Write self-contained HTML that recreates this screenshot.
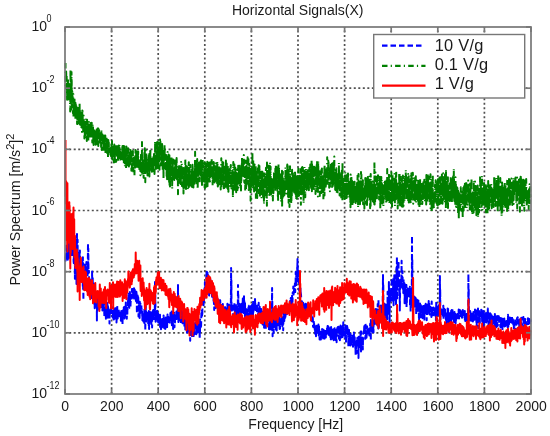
<!DOCTYPE html>
<html><head><meta charset="utf-8"><style>
html,body{margin:0;padding:0;background:#fff;width:550px;height:436px;overflow:hidden}
svg{position:absolute;left:0;top:0;font-family:"Liberation Sans",sans-serif;filter:blur(0.35px)}
</style></head><body>
<svg width="550" height="436" viewBox="0 0 550 436">
<rect width="550" height="436" fill="#fff"/>
<g stroke="#505050" stroke-width="1.7" stroke-dasharray="2 2.517" fill="none"><g stroke-dashoffset="1.0"><line x1="111.6" y1="27.0" x2="111.6" y2="394.0"/><line x1="158.2" y1="27.0" x2="158.2" y2="394.0"/><line x1="204.8" y1="27.0" x2="204.8" y2="394.0"/><line x1="251.4" y1="27.0" x2="251.4" y2="394.0"/><line x1="298.0" y1="27.0" x2="298.0" y2="394.0"/><line x1="344.6" y1="27.0" x2="344.6" y2="394.0"/><line x1="391.2" y1="27.0" x2="391.2" y2="394.0"/><line x1="437.8" y1="27.0" x2="437.8" y2="394.0"/><line x1="484.4" y1="27.0" x2="484.4" y2="394.0"/></g><g stroke-dashoffset="0.32"><line x1="65.0" y1="88.2" x2="531.0" y2="88.2"/><line x1="65.0" y1="149.3" x2="531.0" y2="149.3"/><line x1="65.0" y1="210.5" x2="531.0" y2="210.5"/><line x1="65.0" y1="271.7" x2="531.0" y2="271.7"/><line x1="65.0" y1="332.8" x2="531.0" y2="332.8"/></g></g>
<g fill="none" stroke-width="2.0" stroke-linejoin="round">
<path d="M65.5 256.4L65.6 260.7L65.8 259.2L65.9 255.1L66.1 258.4L66.2 253.5L66.4 255.8L66.5 245.6L66.7 244.5L66.8 249.6L67.0 251.4L67.1 245.5L67.2 255.4L67.4 251.1L67.5 253.9L67.7 253.6L67.8 259.8L68.0 253.0L68.1 243.4L68.3 253.0L68.4 254.4L68.6 251.6L68.7 246.3L68.8 244.5L69.0 252.5L69.1 242.8L69.3 250.3L69.4 244.8L69.6 259.5L69.7 258.6L69.9 254.7L70.0 248.3L70.2 244.5L70.3 238.4L70.4 247.3L70.6 255.3L70.7 243.5L70.9 232.5L71.0 243.2L71.2 243.4L71.3 249.0L71.5 236.4L71.6 253.7L71.8 255.1L71.9 249.0L72.0 250.7L72.2 247.1L72.3 246.8L72.5 252.6L72.6 247.7L72.8 237.2L72.9 232.6L73.1 237.9L73.2 247.1L73.3 255.1L73.5 246.7L73.6 261.1L73.8 263.1L73.9 252.8L74.1 260.3L74.2 236.1L74.4 248.6L74.5 249.0L74.7 237.6L74.8 240.3L74.9 278.7L75.1 243.2L75.2 243.7L75.4 265.2L75.5 252.0L75.7 263.3L75.8 259.5L76.0 251.0L76.1 240.4L76.3 248.9L76.4 257.3L76.5 284.0L76.7 259.0L76.8 242.5L77.0 234.0L77.1 277.6L77.3 245.5L77.4 271.6L77.6 239.7L77.7 262.1L77.9 261.8L78.0 257.1L78.1 267.0L78.3 276.4L78.4 262.8L78.6 262.5L78.7 251.4L78.9 256.0L79.0 257.1L79.2 258.2L79.3 272.7L79.5 257.1L79.6 251.6L79.7 254.0L79.9 250.5L80.0 256.4L80.2 262.0L80.3 261.3L80.5 262.5L80.6 263.4L80.8 278.0L80.9 267.2L81.1 275.2L81.2 271.7L81.3 271.6L81.5 270.1L81.6 263.6L81.8 267.9L81.9 274.9L82.1 268.3L82.2 276.1L82.4 258.4L82.5 262.4L82.7 265.8L82.8 287.4L82.9 257.3L83.1 288.8L83.2 282.8L83.4 299.9L83.5 265.0L83.7 273.8L83.8 266.7L84.0 266.9L84.1 264.4L84.3 265.7L84.4 269.5L84.5 268.6L84.7 276.1L84.8 289.7L85.0 288.0L85.1 279.3L85.3 278.6L85.4 264.4L85.6 272.2L85.7 272.5L85.9 266.8L86.0 274.1L86.1 287.4L86.3 272.2L86.4 261.9L86.6 262.1L86.7 273.5L86.9 272.9L87.0 267.7L87.2 267.2L87.3 267.9L87.4 265.3L87.6 275.2L87.7 272.8L87.9 254.5L88.0 243.0L88.2 273.0L88.3 248.6L88.5 270.6L88.6 272.9L88.8 272.2L88.9 270.8L89.0 274.4L89.2 283.9L89.3 291.2L89.5 281.2L89.6 284.3L89.8 278.9L89.9 286.0L90.1 279.5L90.2 288.2L90.4 290.2L90.5 286.5L90.6 294.3L90.8 284.9L90.9 284.6L91.1 299.0L91.2 291.0L91.4 285.1L91.5 283.0L91.7 282.3L91.8 286.5L92.0 288.1L92.1 271.5L92.2 281.8L92.4 287.4L92.5 282.2L92.7 276.2L92.8 286.6L93.0 302.1L93.1 292.1L93.3 286.2L93.4 286.0L93.6 301.1L93.7 286.3L93.8 285.5L94.0 283.8L94.1 302.1L94.3 290.7L94.4 306.1L94.6 291.7L94.7 308.2L94.9 291.5L95.0 296.8L95.2 306.6L95.3 301.2L95.4 304.2L95.6 297.5L95.7 298.6L95.9 302.8L96.0 303.1L96.2 293.1L96.3 296.5L96.5 296.7L96.6 296.9L96.8 299.6L96.9 320.6L97.0 297.8L97.2 299.1L97.3 294.7L97.5 306.5L97.6 310.4L97.8 304.6L97.9 309.6L98.1 295.0L98.2 300.1L98.4 295.4L98.5 295.6L98.6 292.6L98.8 295.4L98.9 294.3L99.1 303.7L99.2 298.4L99.4 301.2L99.5 294.2L99.7 300.8L99.8 301.0L99.9 294.4L100.1 301.3L100.2 297.0L100.4 301.3L100.5 301.2L100.7 301.0L100.8 300.6L101.0 305.4L101.1 300.8L101.3 296.7L101.4 302.3L101.5 297.7L101.7 305.4L101.8 304.1L102.0 308.1L102.1 300.5L102.3 304.0L102.4 310.4L102.6 301.2L102.7 300.7L102.9 302.3L103.0 308.4L103.1 304.7L103.3 308.8L103.4 303.2L103.6 305.5L103.7 304.3L103.9 298.4L104.0 299.3L104.2 303.9L104.3 316.7L104.5 311.5L104.6 307.6L104.7 310.2L104.9 306.2L105.0 305.5L105.2 305.3L105.3 311.3L105.5 307.0L105.6 308.9L105.8 313.5L105.9 318.8L106.1 312.9L106.2 310.7L106.3 317.1L106.5 302.9L106.6 318.7L106.8 315.4L106.9 316.1L107.1 312.3L107.2 315.8L107.4 302.9L107.5 312.8L107.7 314.3L107.8 317.8L107.9 304.6L108.1 311.7L108.2 313.2L108.4 310.9L108.5 312.1L108.7 311.6L108.8 308.0L109.0 310.1L109.1 317.2L109.3 309.7L109.4 313.8L109.5 323.6L109.7 310.9L109.8 314.3L110.0 312.0L110.1 312.0L110.3 308.5L110.4 309.8L110.6 314.1L110.7 308.0L110.9 312.6L111.0 305.0L111.1 303.7L111.3 310.8L111.4 310.3L111.6 308.0L111.7 309.0L111.9 307.2L112.0 310.8L112.2 313.3L112.3 310.9L112.5 311.0L112.6 317.4L112.7 316.5L112.9 315.2L113.0 313.2L113.2 315.0L113.3 311.9L113.5 312.8L113.6 319.6L113.8 317.1L113.9 314.5L114.0 312.2L114.2 309.3L114.3 310.6L114.5 316.7L114.6 313.2L114.8 318.8L114.9 313.6L115.1 308.0L115.2 316.1L115.4 306.1L115.5 312.5L115.6 316.7L115.8 314.2L115.9 318.4L116.1 313.0L116.2 316.1L116.4 313.9L116.5 322.4L116.7 318.3L116.8 312.5L117.0 311.6L117.1 307.6L117.2 306.1L117.4 313.0L117.5 313.8L117.7 318.4L117.8 316.7L118.0 317.5L118.1 310.2L118.3 308.7L118.4 309.4L118.6 314.0L118.7 309.4L118.8 313.4L119.0 313.0L119.1 310.0L119.3 316.5L119.4 317.1L119.6 317.0L119.7 317.9L119.9 315.5L120.0 313.1L120.2 313.8L120.3 310.5L120.4 317.1L120.6 319.4L120.7 319.2L120.9 320.7L121.0 314.4L121.2 319.0L121.3 310.9L121.5 313.6L121.6 315.8L121.8 315.2L121.9 317.2L122.0 313.7L122.2 316.9L122.3 317.7L122.5 324.7L122.6 318.7L122.8 316.9L122.9 308.4L123.1 308.4L123.2 314.2L123.4 317.4L123.5 314.3L123.6 312.7L123.8 307.2L123.9 313.8L124.1 312.8L124.2 318.2L124.4 316.2L124.5 318.6L124.7 317.5L124.8 316.4L125.0 311.1L125.1 305.0L125.2 316.2L125.4 306.2L125.5 310.1L125.7 309.2L125.8 302.5L126.0 309.1L126.1 306.2L126.3 305.6L126.4 308.1L126.6 312.4L126.7 308.4L126.8 318.7L127.0 306.7L127.1 311.2L127.3 315.9L127.4 309.1L127.6 309.2L127.7 308.2L127.9 303.7L128.0 298.0L128.1 297.7L128.3 304.5L128.4 293.8L128.6 307.9L128.7 305.6L128.9 303.6L129.0 300.0L129.2 309.7L129.3 302.1L129.5 298.7L129.6 299.3L129.7 299.9L129.9 292.1L130.0 294.4L130.2 305.3L130.3 307.2L130.5 306.0L130.6 302.8L130.8 300.7L130.9 300.8L131.1 301.2L131.2 300.5L131.3 300.7L131.5 297.6L131.6 295.0L131.8 295.2L131.9 289.1L132.1 293.6L132.2 294.3L132.4 291.1L132.5 289.1L132.7 294.4L132.8 294.8L132.9 299.9L133.1 294.8L133.2 291.8L133.4 294.9L133.5 292.1L133.7 289.7L133.8 292.3L134.0 288.3L134.1 299.8L134.3 300.3L134.4 291.4L134.5 292.4L134.7 289.5L134.8 291.0L135.0 295.6L135.1 293.3L135.3 291.2L135.4 292.6L135.6 292.0L135.7 291.3L135.9 301.0L136.0 298.8L136.1 296.9L136.3 296.3L136.4 291.7L136.6 294.6L136.7 294.0L136.9 313.3L137.0 296.3L137.2 300.2L137.3 303.0L137.5 302.8L137.6 294.1L137.7 294.7L137.9 298.2L138.0 300.7L138.2 301.5L138.3 297.7L138.5 316.5L138.6 308.5L138.8 303.9L138.9 305.2L139.1 302.3L139.2 310.9L139.3 311.9L139.5 312.5L139.6 318.1L139.8 301.8L139.9 313.5L140.1 312.5L140.2 306.9L140.4 303.5L140.5 304.2L140.7 309.8L140.8 306.0L140.9 307.9L141.1 310.8L141.2 309.5L141.4 305.4L141.5 313.8L141.7 308.8L141.8 309.8L142.0 310.6L142.1 309.8L142.2 314.5L142.4 320.3L142.5 313.5L142.7 321.0L142.8 311.9L143.0 320.7L143.1 319.5L143.3 319.6L143.4 321.5L143.6 315.4L143.7 315.2L143.8 322.6L144.0 318.1L144.1 321.7L144.3 323.0L144.4 308.0L144.6 319.9L144.7 313.9L144.9 318.7L145.0 319.7L145.2 320.3L145.3 330.7L145.4 315.7L145.6 319.1L145.7 304.3L145.9 318.9L146.0 322.9L146.2 312.3L146.3 314.2L146.5 313.3L146.6 315.1L146.8 316.5L146.9 316.6L147.0 312.6L147.2 318.6L147.3 318.3L147.5 312.5L147.6 315.5L147.8 313.5L147.9 314.3L148.1 320.4L148.2 324.0L148.4 320.2L148.5 317.5L148.6 316.4L148.8 325.7L148.9 311.1L149.1 329.1L149.2 315.6L149.4 314.0L149.5 317.1L149.7 317.2L149.8 318.8L150.0 318.6L150.1 312.1L150.2 319.2L150.4 316.9L150.5 319.0L150.7 317.3L150.8 318.6L151.0 323.4L151.1 316.4L151.3 326.0L151.4 320.7L151.6 319.1L151.7 312.4L151.8 315.9L152.0 315.6L152.1 327.4L152.3 316.9L152.4 311.7L152.6 314.3L152.7 315.0L152.9 319.2L153.0 310.8L153.2 312.1L153.3 310.0L153.4 314.9L153.6 316.7L153.7 316.3L153.9 321.3L154.0 317.2L154.2 318.0L154.3 318.7L154.5 308.9L154.6 313.3L154.7 315.1L154.9 300.3L155.0 282.0L155.2 309.2L155.3 294.8L155.5 311.6L155.6 321.7L155.8 315.4L155.9 319.9L156.1 320.2L156.2 319.7L156.3 314.4L156.5 314.8L156.6 315.8L156.8 316.8L156.9 318.0L157.1 315.1L157.2 310.7L157.4 316.0L157.5 317.8L157.7 322.0L157.8 316.1L157.9 316.0L158.1 313.0L158.2 322.6L158.4 320.6L158.5 319.5L158.7 316.6L158.8 321.8L159.0 322.2L159.1 319.8L159.3 321.9L159.4 314.8L159.5 319.8L159.7 324.3L159.8 320.4L160.0 314.8L160.1 327.0L160.3 325.7L160.4 320.6L160.6 323.3L160.7 319.0L160.9 321.9L161.0 329.2L161.1 319.4L161.3 327.3L161.4 321.5L161.6 322.6L161.7 319.5L161.9 320.0L162.0 327.3L162.2 324.8L162.3 322.6L162.5 318.9L162.6 320.1L162.7 322.0L162.9 321.5L163.0 320.6L163.2 322.1L163.3 316.5L163.5 317.1L163.6 315.6L163.8 318.6L163.9 326.1L164.1 327.9L164.2 319.1L164.3 322.9L164.5 319.9L164.6 325.7L164.8 318.8L164.9 320.6L165.1 322.4L165.2 328.9L165.4 328.6L165.5 325.8L165.7 320.5L165.8 317.5L165.9 323.2L166.1 322.8L166.2 326.3L166.4 318.1L166.5 317.5L166.7 316.4L166.8 317.7L167.0 322.7L167.1 327.1L167.3 319.2L167.4 318.0L167.5 314.5L167.7 318.9L167.8 320.4L168.0 317.6L168.1 314.7L168.3 320.5L168.4 318.6L168.6 319.1L168.7 322.0L168.8 321.6L169.0 321.3L169.1 315.7L169.3 316.0L169.4 317.9L169.6 323.4L169.7 320.1L169.9 324.0L170.0 317.9L170.2 318.4L170.3 319.2L170.4 313.0L170.6 317.0L170.7 318.8L170.9 315.2L171.0 316.3L171.2 316.2L171.3 317.0L171.5 317.9L171.6 311.5L171.8 322.1L171.9 325.2L172.0 319.6L172.2 318.8L172.3 316.0L172.5 315.3L172.6 310.4L172.8 320.0L172.9 323.0L173.1 328.9L173.2 320.8L173.4 318.7L173.5 319.8L173.6 320.8L173.8 316.3L173.9 316.9L174.1 315.2L174.2 312.8L174.4 318.9L174.5 327.3L174.7 317.7L174.8 316.0L175.0 322.5L175.1 317.7L175.2 319.1L175.4 314.0L175.5 313.1L175.7 315.0L175.8 320.6L176.0 315.4L176.1 316.0L176.3 317.8L176.4 311.6L176.6 313.4L176.7 312.8L176.8 318.3L177.0 318.9L177.1 312.9L177.3 315.8L177.4 315.8L177.6 313.6L177.7 313.1L177.9 302.5L178.0 285.0L178.2 316.6L178.3 296.7L178.4 322.1L178.6 317.1L178.7 315.9L178.9 313.2L179.0 316.1L179.2 315.9L179.3 317.0L179.5 316.5L179.6 319.2L179.8 320.4L179.9 312.4L180.0 317.2L180.2 318.4L180.3 316.4L180.5 320.0L180.6 319.5L180.8 321.6L180.9 323.2L181.1 318.0L181.2 317.7L181.4 314.7L181.5 312.4L181.6 310.6L181.8 309.4L181.9 313.3L182.1 315.1L182.2 321.4L182.4 317.2L182.5 323.3L182.7 321.5L182.8 314.5L182.9 318.1L183.1 318.9L183.2 316.5L183.4 312.1L183.5 319.6L183.7 317.7L183.8 312.3L184.0 315.1L184.1 319.9L184.3 317.2L184.4 327.1L184.5 321.5L184.7 319.7L184.8 318.0L185.0 325.1L185.1 318.0L185.3 330.7L185.4 313.3L185.6 314.5L185.7 317.2L185.9 328.7L186.0 319.9L186.1 318.3L186.3 321.4L186.4 328.0L186.6 320.1L186.7 320.1L186.9 332.4L187.0 332.8L187.2 323.9L187.3 325.4L187.5 322.8L187.6 320.1L187.7 323.7L187.9 327.4L188.0 328.1L188.2 328.8L188.3 328.9L188.5 322.4L188.6 326.8L188.8 331.5L188.9 323.5L189.1 325.9L189.2 326.4L189.3 321.8L189.5 318.5L189.6 330.3L189.8 326.1L189.9 325.0L190.1 332.0L190.2 340.8L190.4 322.2L190.5 325.2L190.7 327.6L190.8 324.4L190.9 324.3L191.1 321.7L191.2 327.3L191.4 323.2L191.5 331.9L191.7 325.1L191.8 331.5L192.0 329.6L192.1 338.0L192.3 327.1L192.4 326.6L192.5 321.7L192.7 326.1L192.8 330.8L193.0 325.5L193.1 327.2L193.3 335.5L193.4 335.9L193.6 333.8L193.7 335.9L193.9 323.9L194.0 327.1L194.1 330.0L194.3 335.3L194.4 326.4L194.6 328.2L194.7 329.0L194.9 326.8L195.0 326.5L195.2 322.7L195.3 324.6L195.4 329.3L195.6 329.6L195.7 324.1L195.9 326.7L196.0 327.8L196.2 325.9L196.3 334.2L196.5 328.9L196.6 327.8L196.8 330.2L196.9 325.3L197.0 329.1L197.2 321.5L197.3 318.8L197.5 322.7L197.6 323.2L197.8 324.7L197.9 332.3L198.1 325.8L198.2 328.5L198.4 319.2L198.5 325.5L198.6 327.1L198.8 330.6L198.9 332.5L199.1 325.0L199.2 323.8L199.4 322.6L199.5 328.5L199.7 338.9L199.8 326.6L200.0 332.5L200.1 319.5L200.2 328.0L200.4 321.7L200.5 326.1L200.7 327.1L200.8 327.7L201.0 322.5L201.1 326.3L201.3 316.3L201.4 310.7L201.6 311.6L201.7 310.7L201.8 317.0L202.0 317.4L202.1 313.0L202.3 316.0L202.4 306.7L202.6 302.7L202.7 306.4L202.9 301.7L203.0 299.3L203.2 294.7L203.3 302.1L203.4 301.6L203.6 305.3L203.7 295.0L203.9 295.7L204.0 303.0L204.2 296.4L204.3 293.8L204.5 288.4L204.6 292.9L204.8 290.4L204.9 281.9L205.0 292.2L205.2 286.7L205.3 290.6L205.5 285.2L205.6 289.9L205.8 284.0L205.9 283.9L206.1 280.8L206.2 279.6L206.4 276.5L206.5 271.2L206.6 271.6L206.8 273.8L206.9 271.7L207.1 277.8L207.2 274.1L207.4 271.6L207.5 274.6L207.7 280.6L207.8 279.6L208.0 282.9L208.1 274.9L208.2 277.1L208.4 276.1L208.5 276.0L208.7 275.9L208.8 284.1L209.0 275.0L209.1 295.6L209.3 289.9L209.4 281.4L209.5 286.0L209.7 285.9L209.8 287.0L210.0 285.0L210.1 292.0L210.3 281.6L210.4 279.7L210.6 285.0L210.7 285.5L210.9 285.7L211.0 284.0L211.1 288.4L211.3 285.5L211.4 286.6L211.6 281.9L211.7 285.2L211.9 290.2L212.0 296.7L212.2 290.1L212.3 287.7L212.5 289.1L212.6 294.0L212.7 288.4L212.9 292.7L213.0 287.9L213.2 293.1L213.3 292.4L213.5 292.7L213.6 302.7L213.8 297.0L213.9 303.2L214.1 298.2L214.2 310.1L214.3 302.8L214.5 297.8L214.6 303.5L214.8 297.1L214.9 300.3L215.1 293.7L215.2 303.1L215.4 299.9L215.5 306.9L215.7 301.5L215.8 301.1L215.9 307.9L216.1 306.7L216.2 304.5L216.4 301.5L216.5 308.8L216.7 308.6L216.8 302.7L217.0 305.2L217.1 296.0L217.3 305.1L217.4 302.2L217.5 296.8L217.7 303.8L217.8 307.5L218.0 304.1L218.1 299.7L218.3 301.8L218.4 299.7L218.6 301.1L218.7 303.3L218.9 304.2L219.0 313.7L219.1 307.6L219.3 301.5L219.4 301.2L219.6 306.3L219.7 302.1L219.9 302.4L220.0 303.8L220.2 300.3L220.3 302.7L220.5 309.5L220.6 305.5L220.7 310.6L220.9 304.7L221.0 307.5L221.2 305.0L221.3 307.5L221.5 310.7L221.6 307.3L221.8 306.1L221.9 305.7L222.1 308.2L222.2 314.4L222.3 310.2L222.5 309.4L222.6 307.5L222.8 303.9L222.9 305.8L223.1 308.8L223.2 306.2L223.4 307.0L223.5 312.1L223.6 311.8L223.8 313.9L223.9 307.9L224.1 311.0L224.2 314.3L224.4 312.0L224.5 313.2L224.7 306.4L224.8 310.1L225.0 306.0L225.1 307.6L225.2 307.2L225.4 309.9L225.5 313.0L225.7 312.3L225.8 310.1L226.0 321.9L226.1 308.2L226.3 315.4L226.4 314.1L226.6 312.0L226.7 307.8L226.8 307.3L227.0 315.2L227.1 310.6L227.3 305.6L227.4 303.7L227.6 309.4L227.7 310.6L227.9 313.2L228.0 314.7L228.2 307.9L228.3 309.8L228.4 312.7L228.6 312.2L228.7 303.2L228.9 306.3L229.0 305.4L229.2 305.0L229.3 306.4L229.5 310.7L229.6 307.4L229.8 310.4L229.9 309.7L230.0 314.5L230.2 313.3L230.3 305.4L230.5 309.1L230.6 305.8L230.8 307.2L230.9 299.6L231.1 268.0L231.2 305.2L231.4 280.4L231.5 304.9L231.6 310.6L231.8 310.5L231.9 309.8L232.1 307.5L232.2 306.9L232.4 306.8L232.5 303.7L232.7 305.8L232.8 306.3L233.0 316.0L233.1 303.5L233.2 307.1L233.4 311.5L233.5 311.1L233.7 311.0L233.8 307.2L234.0 309.1L234.1 310.0L234.3 311.1L234.4 303.0L234.6 310.0L234.7 308.5L234.8 311.5L235.0 316.0L235.1 308.3L235.3 311.5L235.4 310.0L235.6 307.7L235.7 302.9L235.9 304.3L236.0 315.8L236.2 312.4L236.3 317.9L236.4 308.0L236.6 307.2L236.7 307.5L236.9 309.6L237.0 310.2L237.2 309.3L237.3 313.1L237.5 306.3L237.6 313.1L237.7 316.5L237.9 298.5L238.0 285.0L238.2 306.3L238.3 294.8L238.5 312.9L238.6 311.1L238.8 314.9L238.9 311.3L239.1 312.7L239.2 315.0L239.3 309.0L239.5 305.7L239.6 304.1L239.8 310.0L239.9 307.9L240.1 307.6L240.2 304.8L240.4 305.7L240.5 306.5L240.7 313.3L240.8 312.5L240.9 304.3L241.1 307.1L241.2 309.2L241.4 306.6L241.5 308.7L241.7 309.8L241.8 305.2L242.0 303.5L242.1 314.5L242.3 303.9L242.4 307.7L242.5 307.3L242.7 302.9L242.8 298.4L243.0 308.0L243.1 306.7L243.3 307.8L243.4 310.1L243.6 312.9L243.7 308.2L243.9 307.4L244.0 295.0L244.1 312.8L244.3 301.0L244.4 309.1L244.6 311.5L244.7 311.8L244.9 316.5L245.0 302.2L245.2 315.9L245.3 313.5L245.5 313.2L245.6 310.1L245.7 316.2L245.9 315.9L246.0 310.3L246.2 307.2L246.3 308.9L246.5 312.7L246.6 318.1L246.8 319.9L246.9 317.2L247.1 317.3L247.2 316.3L247.3 314.9L247.5 317.3L247.6 313.8L247.8 317.9L247.9 317.6L248.1 312.3L248.2 313.6L248.4 305.7L248.5 310.8L248.7 308.7L248.8 305.7L248.9 312.6L249.1 304.3L249.2 317.5L249.4 310.2L249.5 309.0L249.7 320.3L249.8 308.6L250.0 320.7L250.1 317.4L250.2 318.3L250.4 315.3L250.5 318.4L250.7 317.1L250.8 316.4L251.0 306.1L251.1 314.6L251.3 318.0L251.4 306.8L251.6 320.9L251.7 314.3L251.8 311.8L252.0 312.6L252.1 304.7L252.3 306.7L252.4 308.7L252.6 318.4L252.7 309.4L252.9 313.0L253.0 315.2L253.2 300.4L253.3 312.2L253.4 311.3L253.6 308.1L253.7 306.5L253.9 305.9L254.0 309.3L254.2 305.0L254.3 307.3L254.5 308.3L254.6 309.6L254.8 304.5L254.9 303.0L255.0 297.0L255.2 307.8L255.3 302.7L255.5 303.3L255.6 307.6L255.8 308.8L255.9 312.2L256.1 304.0L256.2 305.7L256.4 309.0L256.5 308.0L256.6 311.6L256.8 309.1L256.9 311.2L257.1 306.5L257.2 305.5L257.4 308.6L257.5 309.7L257.7 312.6L257.8 313.1L258.0 313.1L258.1 314.0L258.2 317.1L258.4 309.5L258.5 310.5L258.7 302.7L258.8 312.2L259.0 308.7L259.1 311.2L259.3 311.9L259.4 312.3L259.6 312.8L259.7 306.8L259.8 319.3L260.0 316.0L260.1 315.7L260.3 313.3L260.4 317.7L260.6 315.1L260.7 312.5L260.9 314.0L261.0 319.0L261.2 309.0L261.3 316.1L261.4 318.3L261.6 315.1L261.7 313.5L261.9 318.8L262.0 315.6L262.2 314.5L262.3 309.6L262.5 312.2L262.6 324.4L262.8 316.1L262.9 312.7L263.0 320.5L263.2 311.8L263.3 315.8L263.5 322.6L263.6 319.7L263.8 319.9L263.9 311.0L264.1 327.7L264.2 311.6L264.3 314.5L264.5 316.6L264.6 311.7L264.8 313.2L264.9 313.2L265.1 320.9L265.2 318.3L265.4 327.8L265.5 320.2L265.7 312.6L265.8 329.8L265.9 317.3L266.1 320.6L266.2 319.3L266.4 316.8L266.5 318.9L266.7 315.5L266.8 321.3L267.0 318.9L267.1 321.7L267.3 323.9L267.4 323.8L267.5 324.4L267.7 322.7L267.8 317.5L268.0 316.3L268.1 319.2L268.3 316.7L268.4 316.1L268.6 318.8L268.7 315.2L268.9 319.0L269.0 331.5L269.1 327.3L269.3 320.1L269.4 316.6L269.6 329.5L269.7 316.5L269.9 324.6L270.0 322.8L270.2 320.6L270.3 318.6L270.5 323.8L270.6 318.0L270.7 315.8L270.9 320.7L271.0 316.1L271.2 329.6L271.3 327.5L271.5 323.1L271.6 319.7L271.8 315.5L271.9 306.0L272.1 288.0L272.2 323.3L272.3 301.5L272.5 323.7L272.6 336.3L272.8 322.3L272.9 326.6L273.1 320.6L273.2 316.8L273.4 322.2L273.5 323.5L273.7 332.9L273.8 320.8L273.9 315.7L274.1 320.7L274.2 321.7L274.4 319.2L274.5 323.8L274.7 322.1L274.8 320.5L275.0 322.7L275.1 324.8L275.3 322.5L275.4 325.8L275.5 323.2L275.7 323.9L275.8 329.6L276.0 322.4L276.1 329.3L276.3 317.4L276.4 327.9L276.6 322.4L276.7 330.4L276.9 318.7L277.0 319.7L277.1 325.3L277.3 323.0L277.4 317.6L277.6 322.2L277.7 321.8L277.9 325.2L278.0 320.2L278.2 318.1L278.3 321.5L278.4 317.4L278.6 316.2L278.7 321.2L278.9 322.8L279.0 320.6L279.2 319.5L279.3 320.9L279.5 317.5L279.6 328.9L279.8 321.2L279.9 326.1L280.0 328.8L280.2 324.6L280.3 324.6L280.5 325.1L280.6 322.5L280.8 317.8L280.9 321.0L281.1 323.6L281.2 324.4L281.4 320.5L281.5 321.3L281.6 322.1L281.8 315.8L281.9 322.2L282.1 324.8L282.2 321.0L282.4 326.2L282.5 319.3L282.7 325.5L282.8 319.8L283.0 316.3L283.1 320.7L283.2 330.3L283.4 319.9L283.5 312.8L283.7 313.8L283.8 315.8L284.0 314.6L284.1 315.3L284.3 321.1L284.4 315.7L284.6 307.3L284.7 316.1L284.8 318.4L285.0 316.0L285.1 315.8L285.3 315.6L285.4 317.0L285.6 313.5L285.7 309.3L285.9 306.8L286.0 314.5L286.2 313.4L286.3 307.0L286.4 312.1L286.6 314.1L286.7 312.7L286.9 312.6L287.0 314.2L287.2 312.8L287.3 308.2L287.5 308.2L287.6 311.0L287.8 308.4L287.9 312.6L288.0 308.2L288.2 306.4L288.3 309.6L288.5 308.8L288.6 309.0L288.8 311.6L288.9 308.3L289.1 308.8L289.2 302.7L289.4 307.8L289.5 311.5L289.6 304.0L289.8 305.2L289.9 300.9L290.1 302.1L290.2 303.0L290.4 303.8L290.5 306.8L290.7 299.3L290.8 298.0L291.0 305.3L291.1 305.4L291.2 298.9L291.4 308.3L291.5 304.8L291.7 303.0L291.8 297.5L292.0 302.6L292.1 294.6L292.3 302.8L292.4 300.6L292.5 302.1L292.7 292.6L292.8 292.2L293.0 293.6L293.1 293.8L293.3 286.5L293.4 287.1L293.6 291.8L293.7 294.4L293.9 289.2L294.0 291.7L294.1 289.0L294.3 292.3L294.4 288.8L294.6 288.8L294.7 290.3L294.9 283.6L295.0 288.3L295.2 292.1L295.3 288.4L295.5 281.9L295.6 284.7L295.7 272.0L295.9 275.9L296.0 286.2L296.2 278.2L296.3 275.2L296.5 275.7L296.6 279.2L296.8 279.4L296.9 277.3L297.1 273.9L297.2 267.2L297.3 271.1L297.5 259.0L297.6 277.2L297.8 265.9L297.9 281.3L298.1 269.7L298.2 280.5L298.4 281.1L298.5 282.1L298.7 276.6L298.8 277.2L298.9 280.9L299.1 277.3L299.2 290.8L299.4 289.7L299.5 289.4L299.7 287.0L299.8 285.8L300.0 290.8L300.1 294.9L300.3 295.3L300.4 287.6L300.5 291.7L300.7 292.8L300.8 296.3L301.0 294.1L301.1 296.0L301.3 304.7L301.4 303.1L301.6 301.0L301.7 301.9L301.9 301.2L302.0 308.5L302.1 307.4L302.3 304.5L302.4 303.8L302.6 309.1L302.7 311.0L302.9 308.0L303.0 304.9L303.2 302.8L303.3 303.7L303.5 313.6L303.6 304.5L303.7 309.5L303.9 309.2L304.0 309.1L304.2 307.3L304.3 307.4L304.5 311.7L304.6 308.3L304.8 305.6L304.9 306.4L305.0 307.9L305.2 305.2L305.3 304.0L305.5 303.7L305.6 308.5L305.8 310.3L305.9 306.4L306.1 305.6L306.2 307.5L306.4 302.3L306.5 309.1L306.6 310.7L306.8 309.4L306.9 305.8L307.1 308.2L307.2 305.6L307.4 304.3L307.5 305.4L307.7 305.6L307.8 306.5L308.0 307.7L308.1 305.7L308.2 307.9L308.4 304.2L308.5 309.7L308.7 310.4L308.8 307.8L309.0 309.9L309.1 308.1L309.3 311.0L309.4 305.5L309.6 305.9L309.7 309.4L309.8 308.6L310.0 306.3L310.1 309.0L310.3 310.9L310.4 311.3L310.6 312.1L310.7 311.2L310.9 316.3L311.0 313.0L311.2 317.0L311.3 314.6L311.4 315.4L311.6 316.8L311.7 317.7L311.9 321.2L312.0 317.8L312.2 318.4L312.3 318.2L312.5 318.7L312.6 316.0L312.8 317.9L312.9 320.8L313.0 326.6L313.2 325.6L313.3 327.3L313.5 323.0L313.6 322.1L313.8 321.8L313.9 324.1L314.1 323.7L314.2 324.8L314.4 323.5L314.5 324.0L314.6 324.3L314.8 329.9L314.9 329.5L315.1 333.8L315.2 329.3L315.4 330.4L315.5 327.6L315.7 328.7L315.8 327.9L316.0 336.3L316.1 326.2L316.2 325.8L316.4 329.3L316.5 329.1L316.7 328.9L316.8 333.0L317.0 331.3L317.1 332.3L317.3 330.5L317.4 324.9L317.6 332.8L317.7 335.0L317.8 331.5L318.0 330.4L318.1 329.4L318.3 328.0L318.4 324.6L318.6 328.0L318.7 335.5L318.9 332.4L319.0 326.2L319.1 331.1L319.3 330.0L319.4 332.0L319.6 339.4L319.7 333.9L319.9 334.3L320.0 332.5L320.2 333.7L320.3 330.3L320.5 332.7L320.6 335.0L320.7 333.7L320.9 339.4L321.0 337.4L321.2 333.6L321.3 332.8L321.5 336.5L321.6 336.5L321.8 334.1L321.9 333.8L322.1 329.1L322.2 336.2L322.3 335.1L322.5 328.3L322.6 332.0L322.8 333.8L322.9 336.0L323.1 338.4L323.2 334.8L323.4 330.7L323.5 335.7L323.7 330.1L323.8 336.5L323.9 331.0L324.1 338.2L324.2 340.4L324.4 334.0L324.5 338.4L324.7 338.6L324.8 334.7L325.0 336.8L325.1 333.3L325.3 329.6L325.4 333.0L325.5 332.6L325.7 335.9L325.8 339.1L326.0 330.8L326.1 330.3L326.3 334.2L326.4 333.9L326.6 331.8L326.7 329.3L326.9 329.5L327.0 328.6L327.1 328.7L327.3 333.4L327.4 329.0L327.6 326.1L327.7 328.6L327.9 326.1L328.0 327.4L328.2 330.7L328.3 330.0L328.5 334.6L328.6 326.9L328.7 331.7L328.9 332.5L329.0 329.1L329.2 335.3L329.3 330.0L329.5 328.5L329.6 329.6L329.8 328.4L329.9 330.2L330.1 332.8L330.2 332.9L330.3 336.6L330.5 337.4L330.6 332.5L330.8 333.0L330.9 340.6L331.1 327.0L331.2 332.0L331.4 328.8L331.5 330.9L331.7 327.7L331.8 331.7L331.9 337.8L332.1 334.8L332.2 333.3L332.4 331.3L332.5 338.9L332.7 340.5L332.8 339.7L333.0 339.1L333.1 333.9L333.2 333.1L333.4 329.6L333.5 335.6L333.7 340.3L333.8 338.8L334.0 339.1L334.1 336.3L334.3 337.1L334.4 328.8L334.6 328.3L334.7 329.9L334.8 332.6L335.0 332.3L335.1 335.1L335.3 331.8L335.4 338.1L335.6 333.1L335.7 339.7L335.9 342.0L336.0 330.1L336.2 331.8L336.3 328.7L336.4 330.2L336.6 342.3L336.7 332.6L336.9 332.6L337.0 332.7L337.2 328.1L337.3 332.3L337.5 330.5L337.6 332.1L337.8 327.6L337.9 327.2L338.0 325.4L338.2 331.7L338.3 331.2L338.5 326.8L338.6 333.3L338.8 338.6L338.9 338.2L339.1 334.3L339.2 333.2L339.4 332.3L339.5 328.0L339.6 329.6L339.8 333.3L339.9 340.2L340.1 328.8L340.2 326.6L340.4 328.4L340.5 325.6L340.7 326.4L340.8 327.0L341.0 331.7L341.1 332.7L341.2 329.1L341.4 337.5L341.5 331.0L341.7 330.1L341.8 331.9L342.0 333.8L342.1 329.9L342.3 334.3L342.4 336.2L342.6 337.0L342.7 325.7L342.8 331.1L343.0 332.4L343.1 328.3L343.3 322.2L343.4 330.5L343.6 335.2L343.7 334.7L343.9 331.7L344.0 332.6L344.2 330.0L344.3 331.7L344.4 331.8L344.6 335.2L344.7 332.6L344.9 332.4L345.0 334.3L345.2 333.9L345.3 340.4L345.5 325.8L345.6 325.5L345.8 331.0L345.9 329.5L346.0 342.7L346.2 331.4L346.3 330.7L346.5 329.4L346.6 330.1L346.8 326.3L346.9 331.4L347.1 325.9L347.2 327.3L347.3 331.9L347.5 332.3L347.6 326.8L347.8 328.5L347.9 336.6L348.1 333.9L348.2 338.3L348.4 346.3L348.5 333.9L348.7 333.5L348.8 337.8L348.9 334.2L349.1 330.0L349.2 333.3L349.4 333.3L349.5 342.9L349.7 336.1L349.8 337.3L350.0 337.7L350.1 343.4L350.3 345.5L350.4 336.0L350.5 333.8L350.7 339.6L350.8 338.5L351.0 337.6L351.1 341.7L351.3 344.6L351.4 338.1L351.6 343.4L351.7 342.2L351.9 338.5L352.0 343.3L352.1 344.4L352.3 336.6L352.4 334.6L352.6 337.2L352.7 342.3L352.9 346.3L353.0 346.8L353.2 346.0L353.3 343.8L353.5 340.8L353.6 337.8L353.7 334.8L353.9 332.4L354.0 343.9L354.2 341.5L354.3 341.3L354.5 342.9L354.6 341.5L354.8 337.3L354.9 337.6L355.1 344.7L355.2 344.8L355.3 348.7L355.5 343.9L355.6 355.5L355.8 346.1L355.9 347.4L356.1 348.8L356.2 348.5L356.4 347.2L356.5 353.2L356.7 342.2L356.8 340.9L356.9 338.8L357.1 343.5L357.2 340.7L357.4 337.8L357.5 339.7L357.7 340.8L357.8 344.3L358.0 342.3L358.1 345.0L358.3 344.7L358.4 345.4L358.5 358.1L358.7 339.3L358.8 336.7L359.0 339.1L359.1 343.1L359.3 337.9L359.4 341.5L359.6 346.2L359.7 341.2L359.8 342.3L360.0 342.4L360.1 346.9L360.3 336.6L360.4 336.3L360.6 331.4L360.7 346.6L360.9 339.9L361.0 351.6L361.2 340.9L361.3 331.5L361.4 339.2L361.6 339.0L361.7 343.1L361.9 337.4L362.0 338.3L362.2 337.0L362.3 337.8L362.5 337.1L362.6 336.6L362.8 349.4L362.9 346.1L363.0 337.2L363.2 340.4L363.3 334.5L363.5 333.2L363.6 333.8L363.8 331.0L363.9 331.9L364.1 332.9L364.2 326.9L364.4 326.1L364.5 327.3L364.6 328.1L364.8 331.2L364.9 326.3L365.1 327.9L365.2 336.8L365.4 338.8L365.5 323.8L365.7 330.0L365.8 329.3L366.0 331.3L366.1 336.8L366.2 331.7L366.4 335.4L366.5 337.8L366.7 335.0L366.8 328.2L367.0 326.2L367.1 326.7L367.3 328.8L367.4 332.1L367.6 329.8L367.7 332.1L367.8 331.8L368.0 329.1L368.1 332.6L368.3 333.6L368.4 331.2L368.6 331.3L368.7 331.8L368.9 329.0L369.0 333.4L369.2 331.2L369.3 335.6L369.4 328.5L369.6 334.0L369.7 328.4L369.9 328.9L370.0 327.0L370.2 323.9L370.3 323.4L370.5 326.5L370.6 324.2L370.8 340.4L370.9 319.9L371.0 327.8L371.2 324.9L371.3 321.3L371.5 328.7L371.6 331.1L371.8 330.4L371.9 323.8L372.1 324.9L372.2 322.7L372.4 331.9L372.5 330.7L372.6 333.0L372.8 330.8L372.9 323.6L373.1 320.7L373.2 332.3L373.4 321.6L373.5 332.5L373.7 317.6L373.8 314.3L373.9 321.4L374.1 324.7L374.2 325.4L374.4 318.4L374.5 320.6L374.7 319.8L374.8 318.5L375.0 319.3L375.1 317.8L375.3 320.9L375.4 318.5L375.5 325.0L375.7 318.1L375.8 309.1L376.0 317.0L376.1 311.8L376.3 314.6L376.4 322.2L376.6 324.3L376.7 321.2L376.9 311.6L377.0 309.3L377.1 310.3L377.3 314.6L377.4 316.5L377.6 319.1L377.7 304.1L377.9 322.1L378.0 317.1L378.2 320.3L378.3 328.4L378.5 299.6L378.6 317.3L378.7 314.6L378.9 327.0L379.0 308.5L379.2 308.5L379.3 322.8L379.5 313.1L379.6 314.9L379.8 321.2L379.9 309.6L380.1 311.3L380.2 317.0L380.3 317.4L380.5 312.5L380.6 310.7L380.8 319.0L380.9 305.6L381.1 309.2L381.2 312.2L381.4 312.8L381.5 306.5L381.7 308.8L381.8 309.1L381.9 311.4L382.1 313.0L382.2 315.8L382.4 308.5L382.5 307.4L382.7 313.5L382.8 296.5L383.0 275.0L383.1 299.2L383.3 284.1L383.4 306.5L383.5 315.2L383.7 309.8L383.8 318.7L384.0 314.3L384.1 302.6L384.3 311.2L384.4 304.9L384.6 319.3L384.7 319.1L384.9 329.1L385.0 309.3L385.1 302.0L385.3 302.1L385.4 310.3L385.6 306.3L385.7 328.0L385.9 318.1L386.0 315.8L386.2 304.5L386.3 310.3L386.5 312.5L386.6 305.2L386.7 318.3L386.9 307.7L387.0 321.2L387.2 319.3L387.3 308.5L387.5 301.6L387.6 291.8L387.8 315.0L387.9 304.5L388.0 309.9L388.2 311.9L388.3 306.6L388.5 300.8L388.6 313.8L388.8 310.0L388.9 282.0L389.1 306.3L389.2 296.8L389.4 288.4L389.5 319.8L389.6 322.7L389.8 301.4L389.9 296.9L390.1 297.7L390.2 293.6L390.4 297.7L390.5 288.7L390.7 300.7L390.8 295.8L391.0 294.7L391.1 293.6L391.2 293.6L391.4 291.0L391.5 290.3L391.7 278.3L391.8 296.4L392.0 296.6L392.1 297.6L392.3 300.6L392.4 294.5L392.6 298.0L392.7 300.7L392.8 296.7L393.0 296.2L393.1 286.8L393.3 278.9L393.4 292.2L393.6 305.2L393.7 281.5L393.9 286.8L394.0 296.1L394.2 283.4L394.3 275.2L394.4 277.0L394.6 282.6L394.7 281.6L394.9 279.3L395.0 288.7L395.2 289.3L395.3 299.7L395.5 299.5L395.6 291.3L395.8 295.3L395.9 281.2L396.0 304.3L396.2 276.0L396.3 269.9L396.5 268.0L396.6 267.3L396.8 285.0L396.9 256.5L397.1 291.7L397.2 299.7L397.4 263.8L397.5 270.1L397.6 282.2L397.8 276.2L397.9 283.7L398.1 278.0L398.2 284.4L398.4 287.1L398.5 261.0L398.7 286.8L398.8 276.2L399.0 271.3L399.1 269.6L399.2 283.0L399.4 296.3L399.5 281.5L399.7 279.5L399.8 310.4L400.0 295.4L400.1 289.5L400.3 280.1L400.4 286.3L400.6 280.2L400.7 284.6L400.8 287.7L401.0 285.7L401.1 282.9L401.3 278.8L401.4 285.7L401.6 260.8L401.7 282.9L401.9 274.4L402.0 277.8L402.1 283.0L402.3 274.8L402.4 270.9L402.6 278.1L402.7 284.7L402.9 288.9L403.0 283.8L403.2 285.6L403.3 292.9L403.5 285.6L403.6 279.5L403.7 284.4L403.9 284.8L404.0 287.8L404.2 285.7L404.3 283.1L404.5 286.8L404.6 303.2L404.8 294.5L404.9 288.6L405.1 297.8L405.2 286.8L405.3 301.6L405.5 293.1L405.6 284.7L405.8 290.1L405.9 289.4L406.1 291.7L406.2 292.2L406.4 284.9L406.5 307.5L406.7 300.4L406.8 289.2L406.9 302.2L407.1 291.9L407.2 292.7L407.4 290.2L407.5 289.0L407.7 288.5L407.8 292.1L408.0 288.7L408.1 293.4L408.3 291.8L408.4 297.4L408.5 293.7L408.7 291.6L408.8 290.4L409.0 290.2L409.1 290.9L409.3 294.2L409.4 289.9L409.6 291.7L409.7 292.8L409.9 286.8L410.0 306.5L410.1 293.0L410.3 297.7L410.4 288.4L410.6 312.3L410.7 302.8L410.9 309.3L411.0 300.7L411.2 299.7L411.3 295.4L411.5 300.3L411.6 301.1L411.7 293.6L411.9 272.2L412.0 236.0L412.2 303.8L412.3 259.5L412.5 300.4L412.6 301.7L412.8 305.2L412.9 298.2L413.1 299.9L413.2 309.9L413.3 305.2L413.5 304.9L413.6 303.4L413.8 301.6L413.9 303.7L414.1 303.1L414.2 298.9L414.4 296.8L414.5 301.5L414.6 303.2L414.8 308.1L414.9 302.0L415.1 304.1L415.2 303.7L415.4 306.3L415.5 297.7L415.7 300.8L415.8 298.8L416.0 303.9L416.1 306.3L416.2 314.3L416.4 306.1L416.5 305.3L416.7 299.5L416.8 305.5L417.0 306.9L417.1 302.8L417.3 302.8L417.4 304.3L417.6 311.0L417.7 311.1L417.8 300.2L418.0 311.1L418.1 304.2L418.3 304.0L418.4 300.5L418.6 306.4L418.7 309.6L418.9 313.2L419.0 324.7L419.2 312.0L419.3 309.4L419.4 307.9L419.6 310.9L419.7 312.5L419.9 311.8L420.0 303.4L420.2 305.9L420.3 314.8L420.5 304.0L420.6 317.3L420.8 305.6L420.9 308.1L421.0 310.5L421.2 310.5L421.3 311.9L421.5 305.9L421.6 306.8L421.8 314.5L421.9 317.1L422.1 312.2L422.2 312.7L422.4 306.5L422.5 318.2L422.6 310.0L422.8 308.0L422.9 309.3L423.1 307.9L423.2 308.6L423.4 306.0L423.5 307.6L423.7 310.6L423.8 308.4L424.0 313.2L424.1 311.1L424.2 306.0L424.4 320.7L424.5 307.0L424.7 313.4L424.8 313.6L425.0 310.9L425.1 307.7L425.3 304.7L425.4 312.1L425.6 305.1L425.7 303.8L425.8 306.7L426.0 309.3L426.1 308.4L426.3 309.8L426.4 313.5L426.6 309.5L426.7 320.3L426.9 307.8L427.0 306.5L427.2 304.7L427.3 308.9L427.4 305.6L427.6 313.9L427.7 310.3L427.9 310.8L428.0 304.3L428.2 308.1L428.3 311.4L428.5 311.7L428.6 311.7L428.7 300.9L428.9 310.6L429.0 306.9L429.2 310.7L429.3 303.7L429.5 311.8L429.6 312.7L429.8 314.6L429.9 309.5L430.1 309.5L430.2 307.1L430.3 310.1L430.5 309.5L430.6 307.1L430.8 307.3L430.9 309.0L431.1 308.9L431.2 309.8L431.4 317.0L431.5 312.6L431.7 301.5L431.8 311.3L431.9 313.1L432.1 315.0L432.2 309.7L432.4 308.0L432.5 309.8L432.7 317.7L432.8 315.5L433.0 314.6L433.1 315.2L433.3 310.3L433.4 314.5L433.5 307.4L433.7 307.6L433.8 308.6L434.0 309.9L434.1 308.8L434.3 310.9L434.4 314.7L434.6 310.4L434.7 308.4L434.9 310.3L435.0 312.4L435.1 309.9L435.3 315.8L435.4 310.3L435.6 312.4L435.7 309.1L435.9 320.0L436.0 315.8L436.2 302.7L436.3 314.4L436.5 311.4L436.6 314.9L436.7 309.9L436.9 313.9L437.0 311.9L437.2 307.8L437.3 308.4L437.5 311.1L437.6 310.4L437.8 309.6L437.9 307.2L438.1 306.2L438.2 315.0L438.3 310.2L438.5 310.9L438.6 305.3L438.8 317.5L438.9 312.6L439.1 312.6L439.2 308.1L439.4 313.9L439.5 312.7L439.7 307.8L439.8 295.9L439.9 276.0L440.1 306.5L440.2 289.0L440.4 319.4L440.5 308.3L440.7 313.9L440.8 313.4L441.0 313.3L441.1 310.7L441.3 313.5L441.4 314.1L441.5 311.3L441.7 310.8L441.8 307.3L442.0 312.2L442.1 309.3L442.3 313.3L442.4 315.6L442.6 310.0L442.7 312.0L442.8 311.8L443.0 309.0L443.1 306.4L443.3 305.8L443.4 307.4L443.6 319.6L443.7 311.6L443.9 317.0L444.0 314.1L444.2 315.2L444.3 307.6L444.4 314.3L444.6 311.2L444.7 310.7L444.9 313.9L445.0 308.5L445.2 316.7L445.3 312.9L445.5 312.8L445.6 315.1L445.8 315.8L445.9 320.1L446.0 314.6L446.2 319.7L446.3 319.2L446.5 321.6L446.6 320.2L446.8 323.7L446.9 321.4L447.1 319.1L447.2 312.9L447.4 314.6L447.5 317.0L447.6 308.6L447.8 319.1L447.9 319.0L448.1 307.4L448.2 321.0L448.4 316.9L448.5 322.3L448.7 318.2L448.8 334.1L449.0 314.9L449.1 322.5L449.2 323.1L449.4 324.5L449.5 312.2L449.7 313.1L449.8 323.8L450.0 318.9L450.1 318.1L450.3 319.5L450.4 318.4L450.6 318.2L450.7 313.7L450.8 313.3L451.0 310.8L451.1 310.1L451.3 324.5L451.4 316.6L451.6 315.9L451.7 309.9L451.9 319.1L452.0 315.2L452.2 312.6L452.3 310.3L452.4 308.3L452.6 312.9L452.7 314.1L452.9 313.9L453.0 317.8L453.2 315.5L453.3 317.7L453.5 319.2L453.6 319.7L453.8 313.1L453.9 313.4L454.0 322.1L454.2 315.9L454.3 318.6L454.5 312.0L454.6 318.3L454.8 322.1L454.9 322.0L455.1 315.6L455.2 312.0L455.3 312.4L455.5 317.7L455.6 323.4L455.8 316.7L455.9 320.8L456.1 317.0L456.2 315.3L456.4 314.6L456.5 319.7L456.7 318.7L456.8 318.1L456.9 315.8L457.1 315.7L457.2 317.1L457.4 315.0L457.5 313.4L457.7 314.9L457.8 313.7L458.0 319.8L458.1 320.2L458.3 312.2L458.4 312.1L458.5 312.6L458.7 309.6L458.8 313.6L459.0 315.0L459.1 318.5L459.3 316.1L459.4 316.8L459.6 316.5L459.7 313.0L459.9 310.1L460.0 312.4L460.1 310.6L460.3 313.2L460.4 313.4L460.6 316.7L460.7 312.6L460.9 317.8L461.0 311.2L461.2 314.6L461.3 312.2L461.5 314.8L461.6 315.8L461.7 313.2L461.9 316.5L462.0 317.7L462.2 312.9L462.3 316.7L462.5 317.5L462.6 316.1L462.8 309.9L462.9 311.2L463.1 314.7L463.2 312.7L463.3 314.5L463.5 315.2L463.6 311.2L463.8 311.8L463.9 313.3L464.1 316.3L464.2 316.2L464.4 317.0L464.5 317.1L464.7 315.4L464.8 310.9L464.9 320.9L465.1 319.8L465.2 319.6L465.4 321.0L465.5 315.6L465.7 319.1L465.8 320.1L466.0 315.8L466.1 315.2L466.3 314.4L466.4 314.8L466.5 313.9L466.7 320.4L466.8 314.4L467.0 320.4L467.1 313.7L467.3 315.2L467.4 313.7L467.6 316.1L467.7 313.4L467.9 322.5L468.0 320.3L468.1 317.9L468.3 300.3L468.4 274.0L468.6 312.0L468.7 288.7L468.9 310.8L469.0 317.5L469.2 313.5L469.3 317.8L469.4 318.0L469.6 318.6L469.7 316.6L469.9 320.4L470.0 318.9L470.2 311.1L470.3 311.6L470.5 313.0L470.6 312.9L470.8 315.0L470.9 313.9L471.0 321.5L471.2 314.4L471.3 320.7L471.5 318.7L471.6 313.7L471.8 316.7L471.9 316.3L472.1 320.5L472.2 318.4L472.4 318.1L472.5 322.6L472.6 319.8L472.8 320.3L472.9 321.4L473.1 318.5L473.2 314.1L473.4 312.1L473.5 312.9L473.7 316.8L473.8 315.5L474.0 321.3L474.1 320.4L474.2 320.9L474.4 313.2L474.5 318.3L474.7 320.5L474.8 321.3L475.0 309.5L475.1 313.9L475.3 317.7L475.4 312.3L475.6 318.2L475.7 311.3L475.8 312.6L476.0 313.2L476.1 314.8L476.3 319.2L476.4 322.1L476.6 318.0L476.7 325.8L476.9 309.2L477.0 313.0L477.2 316.3L477.3 315.1L477.4 312.9L477.6 312.3L477.7 312.2L477.9 313.5L478.0 308.4L478.2 328.2L478.3 312.6L478.5 312.2L478.6 317.1L478.8 312.3L478.9 311.5L479.0 310.9L479.2 320.6L479.3 313.0L479.5 318.4L479.6 319.3L479.8 324.1L479.9 315.3L480.1 312.6L480.2 316.8L480.4 317.5L480.5 313.6L480.6 314.4L480.8 310.9L480.9 313.8L481.1 312.0L481.2 309.8L481.4 316.6L481.5 314.4L481.7 312.4L481.8 310.2L482.0 313.4L482.1 321.3L482.2 317.8L482.4 322.0L482.5 314.9L482.7 319.7L482.8 316.8L483.0 317.4L483.1 314.1L483.3 317.3L483.4 315.8L483.5 326.2L483.7 311.1L483.8 313.2L484.0 325.5L484.1 318.0L484.3 322.7L484.4 314.0L484.6 315.5L484.7 319.2L484.9 318.0L485.0 317.2L485.1 315.3L485.3 316.6L485.4 314.7L485.6 320.7L485.7 317.7L485.9 321.8L486.0 313.1L486.2 322.6L486.3 318.4L486.5 317.3L486.6 317.6L486.7 318.9L486.9 318.4L487.0 322.7L487.2 320.5L487.3 314.9L487.5 318.2L487.6 321.3L487.8 308.4L487.9 319.0L488.1 317.3L488.2 312.8L488.3 318.9L488.5 324.5L488.6 319.8L488.8 323.1L488.9 323.3L489.1 313.7L489.2 316.4L489.4 316.0L489.5 315.2L489.7 315.0L489.8 320.1L489.9 319.9L490.1 313.2L490.2 316.6L490.4 318.5L490.5 327.4L490.7 315.3L490.8 314.0L491.0 318.6L491.1 315.3L491.3 319.7L491.4 313.2L491.5 322.4L491.7 322.6L491.8 318.8L492.0 321.4L492.1 322.0L492.3 329.0L492.4 322.2L492.6 316.4L492.7 319.9L492.9 322.3L493.0 318.9L493.1 323.7L493.3 319.1L493.4 325.3L493.6 327.7L493.7 317.7L493.9 317.1L494.0 317.5L494.2 323.8L494.3 322.6L494.5 321.7L494.6 321.1L494.7 319.1L494.9 313.9L495.0 326.8L495.2 320.7L495.3 325.9L495.5 326.1L495.6 325.6L495.8 320.6L495.9 319.5L496.1 316.4L496.2 328.4L496.3 327.9L496.5 320.9L496.6 324.7L496.8 323.6L496.9 321.9L497.1 317.8L497.2 320.1L497.4 315.0L497.5 326.0L497.6 325.0L497.8 325.6L497.9 323.9L498.1 322.9L498.2 319.4L498.4 321.0L498.5 320.5L498.7 321.8L498.8 316.2L499.0 320.4L499.1 317.7L499.2 319.7L499.4 321.8L499.5 322.4L499.7 323.7L499.8 319.6L500.0 319.2L500.1 318.8L500.3 326.8L500.4 319.1L500.6 327.6L500.7 317.9L500.8 319.9L501.0 324.7L501.1 324.9L501.3 321.3L501.4 323.8L501.6 320.1L501.7 324.2L501.9 318.4L502.0 322.4L502.2 324.4L502.3 327.5L502.4 330.5L502.6 318.7L502.7 323.1L502.9 322.8L503.0 321.6L503.2 321.8L503.3 322.8L503.5 325.5L503.6 321.7L503.8 323.8L503.9 323.8L504.0 318.0L504.2 319.2L504.3 318.6L504.5 326.5L504.6 320.8L504.8 323.1L504.9 321.1L505.1 324.4L505.2 321.1L505.4 326.0L505.5 324.7L505.6 324.1L505.8 322.4L505.9 322.5L506.1 321.5L506.2 325.0L506.4 324.8L506.5 323.6L506.7 320.9L506.8 321.2L507.0 325.2L507.1 322.0L507.2 323.4L507.4 325.1L507.5 325.8L507.7 327.4L507.8 324.5L508.0 314.8L508.1 321.8L508.3 326.7L508.4 323.3L508.6 323.5L508.7 323.1L508.8 321.4L509.0 324.1L509.1 322.6L509.3 321.4L509.4 317.4L509.6 317.9L509.7 320.3L509.9 320.6L510.0 323.4L510.1 320.9L510.3 320.5L510.4 317.7L510.6 318.5L510.7 318.4L510.9 321.6L511.0 320.5L511.2 320.6L511.3 318.4L511.5 318.7L511.6 322.6L511.7 319.5L511.9 320.6L512.0 316.8L512.2 323.2L512.3 319.6L512.5 322.4L512.6 324.2L512.8 321.5L512.9 319.3L513.1 322.7L513.2 321.0L513.3 324.6L513.5 322.2L513.6 322.9L513.8 323.2L513.9 328.6L514.1 324.0L514.2 326.1L514.4 324.2L514.5 325.2L514.7 327.1L514.8 323.4L514.9 325.0L515.1 319.3L515.2 321.9L515.4 322.5L515.5 323.0L515.7 330.9L515.8 325.6L516.0 322.2L516.1 322.7L516.3 322.4L516.4 319.4L516.5 324.7L516.7 320.8L516.8 320.1L517.0 319.1L517.1 317.9L517.3 318.7L517.4 323.0L517.6 319.2L517.7 317.3L517.9 319.6L518.0 320.1L518.1 320.2L518.3 323.4L518.4 321.4L518.6 324.6L518.7 325.0L518.9 321.5L519.0 324.0L519.2 322.3L519.3 328.3L519.5 322.4L519.6 319.5L519.7 320.0L519.9 319.9L520.0 321.7L520.2 324.3L520.3 318.4L520.5 319.0L520.6 320.3L520.8 323.2L520.9 321.2L521.1 318.8L521.2 319.5L521.3 317.8L521.5 319.3L521.6 319.0L521.8 322.7L521.9 326.1L522.1 323.2L522.2 323.2L522.4 318.3L522.5 319.5L522.7 317.5L522.8 317.6L522.9 320.5L523.1 319.2L523.2 318.6L523.4 316.9L523.5 322.8L523.7 317.6L523.8 316.6L524.0 328.5L524.1 324.9L524.2 322.0L524.4 324.2L524.5 322.1L524.7 319.6L524.8 318.0L525.0 319.0L525.1 322.5L525.3 320.8L525.4 322.8L525.6 323.6L525.7 324.3L525.8 323.9L526.0 322.0L526.1 322.8L526.3 322.4L526.4 324.8L526.6 322.3L526.7 323.4L526.9 324.4L527.0 323.8L527.2 323.6L527.3 324.0L527.4 322.0L527.6 321.6L527.7 318.8L527.9 318.3L528.0 321.4L528.2 324.1L528.3 322.9L528.5 324.1L528.6 323.9L528.8 323.6L528.9 321.6L529.0 317.7L529.2 318.0L529.3 323.1L529.5 324.6L529.6 325.4L529.8 322.1L529.9 320.2L530.1 323.2L530.2 322.3L530.4 321.2L530.5 319.4" stroke="#0000ff" stroke-dasharray="5.5 3"/>
<path d="M65.5 63.0L65.5 70.1L65.6 85.6L65.7 80.9L65.8 81.2L65.9 78.9L66.0 80.2L66.1 71.4L66.2 73.6L66.3 82.0L66.4 89.2L66.5 89.0L66.6 80.7L66.7 75.6L66.8 82.6L66.9 91.1L67.0 93.4L67.1 99.7L67.1 89.8L67.2 100.9L67.3 86.7L67.4 91.6L67.5 89.1L67.6 94.4L67.7 91.2L67.8 99.9L67.9 89.2L68.0 78.0L68.1 99.6L68.2 82.2L68.3 92.0L68.4 87.3L68.5 88.9L68.6 86.9L68.7 89.0L68.8 93.8L68.9 92.4L69.0 93.5L69.1 97.5L69.2 90.5L69.3 93.0L69.4 87.1L69.5 88.5L69.6 96.7L69.7 99.5L69.8 84.0L69.9 97.0L70.0 104.3L70.1 105.3L70.2 108.9L70.2 111.4L70.3 99.9L70.4 85.5L70.5 69.0L70.6 97.7L70.7 76.9L70.8 99.8L70.9 104.6L71.0 102.0L71.1 95.0L71.2 109.5L71.3 99.1L71.4 92.1L71.5 72.0L71.6 102.0L71.7 80.4L71.8 98.2L71.9 100.7L72.0 107.1L72.1 97.9L72.2 91.1L72.3 92.5L72.4 94.4L72.5 100.4L72.6 92.6L72.7 102.5L72.8 107.5L72.9 113.1L73.0 113.2L73.1 107.7L73.2 98.7L73.3 93.9L73.3 100.0L73.4 100.7L73.5 116.6L73.6 108.0L73.7 115.5L73.8 103.9L73.9 109.1L74.0 108.7L74.1 102.1L74.2 103.4L74.3 103.4L74.4 99.9L74.5 98.4L74.6 108.2L74.7 110.8L74.8 105.4L74.9 102.6L75.0 115.6L75.1 109.2L75.2 116.2L75.3 101.9L75.4 119.2L75.5 111.0L75.6 104.2L75.7 105.1L75.8 104.3L75.9 112.6L76.0 112.2L76.1 115.9L76.2 108.3L76.3 109.7L76.4 106.3L76.4 110.0L76.5 112.0L76.6 115.8L76.7 110.5L76.8 115.2L76.9 108.9L77.0 116.6L77.1 124.1L77.2 121.7L77.3 114.5L77.4 121.3L77.5 108.0L77.6 107.6L77.7 107.6L77.8 110.0L77.9 123.0L78.0 109.3L78.1 112.8L78.2 112.7L78.3 106.0L78.4 109.4L78.5 120.2L78.6 117.0L78.7 118.2L78.8 117.5L78.9 122.9L79.0 121.1L79.1 116.7L79.2 114.7L79.3 111.5L79.4 124.0L79.5 120.2L79.5 119.7L79.6 102.8L79.7 122.3L79.8 122.3L79.9 110.6L80.0 116.7L80.1 124.7L80.2 124.5L80.3 118.2L80.4 115.6L80.5 115.6L80.6 121.5L80.7 114.9L80.8 117.0L80.9 117.8L81.0 123.6L81.1 124.4L81.2 119.6L81.3 128.5L81.4 128.3L81.5 119.7L81.6 112.8L81.7 114.4L81.8 126.1L81.9 124.4L82.0 131.9L82.1 117.5L82.2 116.5L82.3 110.4L82.4 126.2L82.5 123.0L82.6 111.1L82.7 114.6L82.7 116.9L82.8 126.9L82.9 119.4L83.0 121.6L83.1 124.8L83.2 131.1L83.3 126.0L83.4 126.7L83.5 125.6L83.6 115.6L83.7 124.3L83.8 126.7L83.9 130.2L84.0 130.2L84.1 126.3L84.2 125.4L84.3 128.2L84.4 138.4L84.5 126.9L84.6 133.5L84.7 130.4L84.8 135.1L84.9 128.2L85.0 135.6L85.1 134.2L85.2 138.1L85.3 130.5L85.4 133.4L85.5 125.1L85.6 118.1L85.7 127.2L85.8 120.8L85.8 133.2L85.9 127.6L86.0 127.0L86.1 127.5L86.2 131.7L86.3 128.1L86.4 130.5L86.5 130.5L86.6 127.7L86.7 126.9L86.8 141.0L86.9 129.3L87.0 126.5L87.1 119.8L87.2 124.4L87.3 124.1L87.4 137.5L87.5 134.0L87.6 134.7L87.7 134.8L87.8 132.3L87.9 124.1L88.0 125.0L88.1 125.3L88.2 129.7L88.3 141.6L88.4 131.3L88.5 126.2L88.6 124.3L88.7 126.4L88.8 122.7L88.9 121.9L88.9 123.4L89.0 122.6L89.1 125.7L89.2 131.3L89.3 136.0L89.4 135.4L89.5 133.1L89.6 127.6L89.7 133.7L89.8 131.5L89.9 130.7L90.0 130.3L90.1 138.4L90.2 132.5L90.3 126.0L90.4 126.0L90.5 127.5L90.6 127.5L90.7 126.5L90.8 123.1L90.9 125.3L91.0 127.6L91.1 126.3L91.2 127.1L91.3 130.5L91.4 131.6L91.5 128.9L91.6 131.9L91.7 122.8L91.8 136.4L91.9 130.2L92.0 133.3L92.0 130.4L92.1 131.1L92.2 136.7L92.3 142.4L92.4 133.2L92.5 132.1L92.6 133.4L92.7 124.4L92.8 132.1L92.9 138.5L93.0 125.0L93.1 136.4L93.2 140.2L93.3 138.0L93.4 131.5L93.5 129.6L93.6 145.0L93.7 141.2L93.8 136.7L93.9 138.4L94.0 136.5L94.1 131.2L94.2 136.6L94.3 138.8L94.4 129.3L94.5 134.8L94.6 128.6L94.7 133.3L94.8 136.3L94.9 138.9L95.0 142.5L95.1 132.1L95.1 132.1L95.2 133.4L95.3 134.8L95.4 130.2L95.5 139.0L95.6 142.6L95.7 144.8L95.8 137.4L95.9 132.4L96.0 135.0L96.1 135.5L96.2 143.8L96.3 142.8L96.4 142.1L96.5 137.0L96.6 138.0L96.7 134.1L96.8 135.5L96.9 127.1L97.0 134.0L97.1 127.9L97.2 145.7L97.3 134.1L97.4 130.8L97.5 129.3L97.6 144.2L97.7 136.9L97.8 127.4L97.9 126.7L98.0 130.5L98.1 134.4L98.2 141.7L98.3 146.0L98.3 142.9L98.4 131.4L98.5 129.7L98.6 129.8L98.7 130.8L98.8 136.7L98.9 135.8L99.0 129.5L99.1 135.4L99.2 138.4L99.3 132.6L99.4 135.5L99.5 135.1L99.6 138.2L99.7 138.7L99.8 144.8L99.9 139.2L100.0 135.1L100.1 136.9L100.2 143.4L100.3 137.3L100.4 143.3L100.5 139.6L100.6 133.2L100.7 139.9L100.8 136.3L100.9 140.3L101.0 132.8L101.1 146.9L101.2 135.9L101.3 133.5L101.4 145.5L101.4 129.0L101.5 134.7L101.6 134.5L101.7 139.0L101.8 149.9L101.9 145.1L102.0 138.7L102.1 135.2L102.2 132.8L102.3 139.4L102.4 138.6L102.5 139.4L102.6 133.5L102.7 143.2L102.8 139.0L102.9 142.7L103.0 142.5L103.1 142.2L103.2 142.0L103.3 142.0L103.4 138.6L103.5 133.6L103.6 151.4L103.7 138.9L103.8 142.2L103.9 145.8L104.0 136.6L104.1 135.5L104.2 142.9L104.3 144.0L104.4 143.7L104.5 149.0L104.5 137.2L104.6 139.4L104.7 145.2L104.8 142.8L104.9 146.3L105.0 143.9L105.1 143.8L105.2 140.4L105.3 135.6L105.4 142.8L105.5 153.9L105.6 143.9L105.7 151.8L105.8 141.1L105.9 143.2L106.0 148.0L106.1 140.0L106.2 148.9L106.3 150.4L106.4 146.2L106.5 137.1L106.6 145.0L106.7 148.2L106.8 139.0L106.9 149.6L107.0 152.7L107.1 153.0L107.2 147.9L107.3 142.8L107.4 146.1L107.5 143.6L107.6 145.3L107.6 142.9L107.7 148.1L107.8 144.3L107.9 148.3L108.0 158.5L108.1 147.5L108.2 148.3L108.3 140.1L108.4 142.1L108.5 154.5L108.6 147.0L108.7 146.5L108.8 142.6L108.9 147.7L109.0 149.2L109.1 149.3L109.2 150.6L109.3 150.8L109.4 153.7L109.5 148.4L109.6 146.4L109.7 150.2L109.8 152.6L109.9 153.1L110.0 149.9L110.1 149.4L110.2 147.3L110.3 147.4L110.4 146.7L110.5 149.2L110.6 153.1L110.7 146.4L110.8 148.9L110.8 155.6L110.9 153.6L111.0 146.2L111.1 158.4L111.2 146.4L111.3 148.2L111.4 151.9L111.5 142.5L111.6 148.6L111.7 145.8L111.8 151.9L111.9 154.6L112.0 141.0L112.1 150.5L112.2 146.5L112.3 159.6L112.4 150.5L112.5 151.3L112.6 145.4L112.7 148.0L112.8 157.9L112.9 157.2L113.0 152.7L113.1 154.6L113.2 147.7L113.3 149.9L113.4 152.5L113.5 144.3L113.6 144.2L113.7 147.4L113.8 146.0L113.9 162.5L113.9 155.0L114.0 149.4L114.1 150.5L114.2 152.3L114.3 144.4L114.4 150.4L114.5 164.4L114.6 155.0L114.7 150.7L114.8 161.1L114.9 156.0L115.0 156.2L115.1 158.5L115.2 161.5L115.3 153.2L115.4 152.5L115.5 144.0L115.6 156.9L115.7 150.5L115.8 148.7L115.9 153.8L116.0 153.2L116.1 154.9L116.2 161.7L116.3 160.4L116.4 158.8L116.5 149.9L116.6 149.9L116.7 147.7L116.8 150.2L116.9 156.6L117.0 144.2L117.0 147.8L117.1 146.3L117.2 155.9L117.3 146.7L117.4 155.8L117.5 149.2L117.6 148.1L117.7 149.9L117.8 150.0L117.9 147.2L118.0 157.5L118.1 161.8L118.2 157.6L118.3 157.6L118.4 154.5L118.5 157.4L118.6 149.9L118.7 151.3L118.8 145.4L118.9 153.7L119.0 160.4L119.1 154.8L119.2 151.2L119.3 151.2L119.4 144.2L119.5 152.5L119.6 149.9L119.7 150.2L119.8 149.3L119.9 153.5L120.0 156.7L120.1 155.2L120.1 149.6L120.2 149.1L120.3 154.3L120.4 160.9L120.5 153.1L120.6 159.7L120.7 160.6L120.8 154.3L120.9 157.0L121.0 160.0L121.1 155.0L121.2 156.3L121.3 159.5L121.4 160.1L121.5 152.5L121.6 154.5L121.7 152.4L121.8 157.7L121.9 153.5L122.0 156.7L122.1 149.4L122.2 149.6L122.3 147.3L122.4 156.1L122.5 146.1L122.6 150.1L122.7 155.4L122.8 160.4L122.9 156.0L123.0 159.6L123.1 153.4L123.2 153.2L123.2 157.9L123.3 154.4L123.4 145.9L123.5 159.9L123.6 156.7L123.7 153.7L123.8 157.8L123.9 164.7L124.0 154.6L124.1 147.9L124.2 150.8L124.3 146.3L124.4 158.0L124.5 155.7L124.6 153.2L124.7 152.5L124.8 152.9L124.9 166.9L125.0 160.7L125.1 162.9L125.2 152.8L125.3 153.0L125.4 149.7L125.5 161.8L125.6 150.7L125.7 149.3L125.8 150.7L125.9 151.2L126.0 153.9L126.1 169.4L126.2 161.1L126.3 153.1L126.4 157.8L126.4 146.5L126.5 155.8L126.6 149.2L126.7 153.3L126.8 153.7L126.9 155.3L127.0 152.1L127.1 149.5L127.2 148.1L127.3 149.7L127.4 153.6L127.5 150.9L127.6 157.8L127.7 165.0L127.8 158.1L127.9 161.2L128.0 158.6L128.1 148.3L128.2 165.5L128.3 160.6L128.4 162.7L128.5 160.3L128.6 156.0L128.7 164.2L128.8 166.4L128.9 166.5L129.0 155.6L129.1 154.8L129.2 164.7L129.3 162.4L129.4 165.2L129.5 155.0L129.5 152.4L129.6 152.5L129.7 159.3L129.8 157.2L129.9 165.7L130.0 158.8L130.1 165.0L130.2 152.5L130.3 151.3L130.4 155.5L130.5 150.0L130.6 153.1L130.7 163.0L130.8 162.1L130.9 155.8L131.0 154.9L131.1 162.2L131.2 157.7L131.3 155.2L131.4 170.7L131.5 164.0L131.6 160.5L131.7 158.7L131.8 160.8L131.9 169.6L132.0 159.4L132.1 159.3L132.2 158.8L132.3 150.7L132.4 155.6L132.5 157.2L132.6 153.1L132.6 155.7L132.7 159.0L132.8 159.4L132.9 150.9L133.0 160.1L133.1 162.8L133.2 166.9L133.3 172.2L133.4 159.5L133.5 161.1L133.6 156.1L133.7 165.1L133.8 156.3L133.9 159.5L134.0 160.0L134.1 167.7L134.2 165.0L134.3 160.2L134.4 165.0L134.5 175.4L134.6 166.0L134.7 159.4L134.8 163.2L134.9 160.6L135.0 169.2L135.1 160.6L135.2 154.6L135.3 161.1L135.4 157.2L135.5 150.1L135.6 162.5L135.7 153.6L135.7 155.4L135.8 167.0L135.9 161.7L136.0 168.1L136.1 151.8L136.2 160.5L136.3 161.9L136.4 155.9L136.5 164.2L136.6 151.6L136.7 161.8L136.8 158.5L136.9 154.3L137.0 166.9L137.1 159.6L137.2 164.2L137.3 156.8L137.4 160.9L137.5 148.9L137.6 157.6L137.7 156.2L137.8 158.8L137.9 149.7L138.0 162.0L138.1 155.3L138.2 151.5L138.3 157.0L138.4 163.2L138.5 159.3L138.6 162.3L138.7 167.2L138.8 167.4L138.8 164.6L138.9 167.7L139.0 164.7L139.1 164.6L139.2 160.6L139.3 160.4L139.4 171.0L139.5 168.2L139.6 168.2L139.7 165.7L139.8 169.9L139.9 165.9L140.0 163.4L140.1 159.2L140.2 160.0L140.3 162.1L140.4 175.3L140.5 171.9L140.6 171.2L140.7 171.6L140.8 165.8L140.9 165.9L141.0 154.8L141.1 165.6L141.2 163.2L141.3 161.9L141.4 163.8L141.5 156.8L141.6 155.4L141.7 154.7L141.8 166.3L141.9 158.3L142.0 141.9L142.0 169.2L142.1 175.4L142.2 172.5L142.3 171.6L142.4 167.4L142.5 171.4L142.6 162.1L142.7 158.1L142.8 171.4L142.9 167.3L143.0 164.0L143.1 164.0L143.2 158.3L143.3 165.6L143.4 173.3L143.5 165.8L143.6 177.8L143.7 171.7L143.8 168.3L143.9 160.5L144.0 159.6L144.1 164.8L144.2 168.1L144.3 157.7L144.4 150.8L144.5 172.2L144.6 157.4L144.7 157.5L144.8 148.3L144.9 160.4L145.0 150.4L145.1 163.3L145.1 163.2L145.2 157.4L145.3 182.2L145.4 155.3L145.5 170.1L145.6 162.4L145.7 150.3L145.8 160.3L145.9 165.8L146.0 172.9L146.1 162.8L146.2 159.3L146.3 153.1L146.4 160.7L146.5 166.3L146.6 171.8L146.7 162.7L146.8 159.1L146.9 159.0L147.0 158.4L147.1 173.7L147.2 172.1L147.3 169.1L147.4 164.2L147.5 175.5L147.6 170.7L147.7 162.6L147.8 166.7L147.9 164.9L148.0 162.3L148.1 162.6L148.2 168.4L148.2 165.0L148.3 166.1L148.4 163.1L148.5 166.1L148.6 155.2L148.7 154.7L148.8 160.7L148.9 157.0L149.0 172.9L149.1 159.6L149.2 153.9L149.3 160.3L149.4 176.6L149.5 166.7L149.6 161.8L149.7 158.5L149.8 153.8L149.9 155.0L150.0 160.6L150.1 164.6L150.2 151.3L150.3 155.5L150.4 149.0L150.5 159.8L150.6 167.2L150.7 163.9L150.8 163.0L150.9 164.9L151.0 170.0L151.1 172.4L151.2 166.8L151.3 163.6L151.3 159.8L151.4 159.1L151.5 163.7L151.6 159.3L151.7 159.4L151.8 156.3L151.9 171.7L152.0 168.8L152.1 171.9L152.2 169.3L152.3 172.5L152.4 164.1L152.5 162.3L152.6 162.1L152.7 169.0L152.8 159.6L152.9 172.5L153.0 161.1L153.1 166.5L153.2 166.0L153.3 166.7L153.4 157.0L153.5 169.6L153.6 163.2L153.7 161.5L153.8 158.1L153.9 165.4L154.0 152.0L154.1 159.8L154.2 155.7L154.3 154.1L154.4 166.1L154.4 171.2L154.5 174.0L154.6 170.1L154.7 158.6L154.8 162.4L154.9 166.8L155.0 166.6L155.1 141.2L155.2 160.6L155.3 159.1L155.4 160.6L155.5 165.1L155.6 161.6L155.7 163.4L155.8 159.1L155.9 171.0L156.0 158.1L156.1 153.5L156.2 164.6L156.3 164.9L156.4 143.6L156.5 154.9L156.6 156.3L156.7 144.8L156.8 142.9L156.9 142.2L157.0 151.2L157.1 151.0L157.2 160.7L157.3 155.9L157.4 149.9L157.5 153.0L157.6 165.3L157.6 145.0L157.7 168.2L157.8 151.4L157.9 141.9L158.0 160.6L158.1 151.2L158.2 165.7L158.3 150.6L158.4 150.5L158.5 147.7L158.6 149.0L158.7 151.1L158.8 142.7L158.9 154.3L159.0 156.2L159.1 152.8L159.2 145.8L159.3 152.6L159.4 157.1L159.5 169.8L159.6 160.5L159.7 157.1L159.8 153.1L159.9 149.5L160.0 139.5L160.1 156.1L160.2 144.3L160.3 152.8L160.4 141.6L160.5 165.6L160.6 156.0L160.7 159.5L160.7 158.2L160.8 152.7L160.9 147.5L161.0 142.2L161.1 157.5L161.2 150.3L161.3 151.5L161.4 146.0L161.5 153.0L161.6 165.3L161.7 157.0L161.8 151.9L161.9 144.2L162.0 165.9L162.1 143.9L162.2 166.1L162.3 147.8L162.4 162.1L162.5 158.8L162.6 159.6L162.7 170.7L162.8 167.1L162.9 151.1L163.0 154.0L163.1 151.8L163.2 166.7L163.3 164.0L163.4 151.1L163.5 179.3L163.6 153.8L163.7 155.2L163.8 158.3L163.8 158.1L163.9 168.8L164.0 164.6L164.1 164.6L164.2 155.4L164.3 152.7L164.4 152.1L164.5 143.8L164.6 156.6L164.7 147.9L164.8 158.8L164.9 168.2L165.0 163.0L165.1 159.6L165.2 155.1L165.3 160.0L165.4 165.9L165.5 168.3L165.6 155.9L165.7 154.8L165.8 156.9L165.9 169.5L166.0 164.0L166.1 158.9L166.2 157.2L166.3 155.1L166.4 164.8L166.5 169.8L166.6 176.5L166.7 167.4L166.8 172.9L166.9 177.4L166.9 161.7L167.0 158.8L167.1 179.2L167.2 160.7L167.3 161.1L167.4 163.5L167.5 168.7L167.6 152.0L167.7 156.3L167.8 167.4L167.9 178.7L168.0 172.0L168.1 172.0L168.2 174.9L168.3 161.9L168.4 170.5L168.5 159.9L168.6 154.6L168.7 164.4L168.8 156.2L168.9 176.8L169.0 162.7L169.1 183.2L169.2 175.4L169.3 174.9L169.4 155.2L169.5 167.9L169.6 185.0L169.7 169.1L169.8 173.8L169.9 160.0L170.0 186.5L170.0 159.0L170.1 160.7L170.2 181.0L170.3 176.9L170.4 178.6L170.5 178.3L170.6 165.4L170.7 167.5L170.8 172.4L170.9 167.8L171.0 177.4L171.1 163.4L171.2 161.3L171.3 163.8L171.4 161.5L171.5 155.9L171.6 171.6L171.7 169.6L171.8 168.4L171.9 180.9L172.0 176.1L172.1 179.7L172.2 189.0L172.3 164.4L172.4 170.9L172.5 158.1L172.6 174.6L172.7 157.6L172.8 167.7L172.9 168.6L173.0 177.2L173.1 174.0L173.2 173.7L173.2 168.2L173.3 159.4L173.4 176.9L173.5 174.4L173.6 176.6L173.7 173.2L173.8 180.9L173.9 175.3L174.0 173.0L174.1 176.2L174.2 177.0L174.3 180.0L174.4 174.6L174.5 169.5L174.6 170.1L174.7 173.2L174.8 172.2L174.9 179.2L175.0 166.9L175.1 167.9L175.2 159.1L175.3 173.0L175.4 161.7L175.5 165.1L175.6 172.6L175.7 178.1L175.8 167.5L175.9 177.4L176.0 166.3L176.1 171.4L176.2 173.9L176.3 175.8L176.3 160.4L176.4 166.5L176.5 160.5L176.6 158.1L176.7 161.2L176.8 176.7L176.9 177.3L177.0 179.4L177.1 172.7L177.2 178.2L177.3 178.7L177.4 175.8L177.5 177.2L177.6 168.6L177.7 175.5L177.8 172.6L177.9 181.4L178.0 194.2L178.1 182.1L178.2 183.4L178.3 175.9L178.4 169.8L178.5 179.0L178.6 164.7L178.7 173.6L178.8 168.6L178.9 169.4L179.0 172.6L179.1 172.9L179.2 164.3L179.3 174.3L179.4 173.2L179.4 182.2L179.5 178.2L179.6 167.6L179.7 179.5L179.8 184.3L179.9 181.1L180.0 181.1L180.1 174.4L180.2 183.2L180.3 180.2L180.4 179.6L180.5 175.1L180.6 182.8L180.7 175.7L180.8 186.2L180.9 174.1L181.0 166.1L181.1 162.0L181.2 168.9L181.3 174.4L181.4 175.6L181.5 171.7L181.6 178.2L181.7 163.6L181.8 165.4L181.9 181.3L182.0 185.5L182.1 185.7L182.2 186.9L182.3 185.5L182.4 180.8L182.5 179.7L182.5 169.5L182.6 178.7L182.7 179.8L182.8 180.1L182.9 186.8L183.0 174.5L183.1 173.4L183.2 171.2L183.3 183.3L183.4 167.9L183.5 193.5L183.6 181.6L183.7 184.7L183.8 186.7L183.9 189.4L184.0 186.1L184.1 178.1L184.2 171.2L184.3 178.2L184.4 170.2L184.5 189.8L184.6 179.3L184.7 174.0L184.8 178.2L184.9 181.9L185.0 176.5L185.1 186.8L185.2 179.3L185.3 159.2L185.4 169.9L185.5 172.5L185.6 169.5L185.7 180.1L185.7 181.5L185.8 180.6L185.9 165.7L186.0 188.9L186.1 171.2L186.2 180.5L186.3 180.8L186.4 183.0L186.5 186.2L186.6 172.6L186.7 174.5L186.8 166.6L186.9 180.9L187.0 176.7L187.1 180.3L187.2 179.2L187.3 173.4L187.4 170.5L187.5 167.1L187.6 167.3L187.7 173.9L187.8 174.8L187.9 188.2L188.0 185.5L188.1 174.0L188.2 188.2L188.3 183.6L188.4 175.4L188.5 174.5L188.6 177.4L188.7 162.9L188.8 162.3L188.8 185.9L188.9 186.9L189.0 180.9L189.1 172.7L189.2 171.7L189.3 175.8L189.4 185.8L189.5 165.9L189.6 178.8L189.7 174.8L189.8 184.1L189.9 177.2L190.0 180.2L190.1 182.8L190.2 175.3L190.3 165.1L190.4 172.8L190.5 184.9L190.6 184.6L190.7 178.4L190.8 173.7L190.9 184.7L191.0 185.7L191.1 181.6L191.2 180.6L191.3 181.3L191.4 185.1L191.5 186.3L191.6 177.2L191.7 169.1L191.8 177.1L191.9 178.1L191.9 180.0L192.0 181.6L192.1 187.1L192.2 177.0L192.3 167.1L192.4 175.8L192.5 164.7L192.6 177.5L192.7 186.2L192.8 183.2L192.9 180.2L193.0 180.7L193.1 173.0L193.2 173.3L193.3 170.9L193.4 187.4L193.5 178.2L193.6 185.8L193.7 176.7L193.8 183.7L193.9 184.5L194.0 180.4L194.1 174.0L194.2 175.2L194.3 179.5L194.4 183.7L194.5 167.6L194.6 174.3L194.7 170.0L194.8 166.9L194.9 170.8L195.0 181.4L195.0 167.0L195.1 151.8L195.2 181.5L195.3 175.2L195.4 164.8L195.5 165.9L195.6 180.7L195.7 182.8L195.8 170.4L195.9 169.5L196.0 163.2L196.1 173.8L196.2 173.4L196.3 176.7L196.4 158.8L196.5 162.7L196.6 185.1L196.7 168.4L196.8 160.6L196.9 164.3L197.0 168.7L197.1 165.2L197.2 159.0L197.3 165.9L197.4 171.8L197.5 169.2L197.6 189.0L197.7 189.3L197.8 177.3L197.9 167.9L198.0 175.8L198.1 166.0L198.1 172.9L198.2 175.6L198.3 175.1L198.4 171.5L198.5 162.7L198.6 170.5L198.7 160.7L198.8 165.3L198.9 161.8L199.0 161.8L199.1 169.6L199.2 170.9L199.3 181.3L199.4 177.9L199.5 179.1L199.6 174.8L199.7 167.1L199.8 171.2L199.9 173.0L200.0 162.4L200.1 170.1L200.2 160.1L200.3 172.1L200.4 171.6L200.5 175.1L200.6 168.5L200.7 163.5L200.8 160.4L200.9 170.1L201.0 168.3L201.1 164.6L201.2 173.6L201.3 168.8L201.3 160.4L201.4 161.0L201.5 183.7L201.6 176.9L201.7 161.6L201.8 174.8L201.9 176.6L202.0 186.0L202.1 183.9L202.2 178.7L202.3 176.3L202.4 167.6L202.5 164.6L202.6 162.4L202.7 159.8L202.8 167.4L202.9 167.2L203.0 165.3L203.1 166.0L203.2 168.7L203.3 178.7L203.4 176.7L203.5 165.7L203.6 172.6L203.7 183.5L203.8 169.2L203.9 180.5L204.0 179.5L204.1 178.4L204.2 176.7L204.3 170.4L204.4 171.2L204.4 181.4L204.5 170.1L204.6 187.4L204.7 162.2L204.8 187.3L204.9 188.2L205.0 177.7L205.1 167.1L205.2 167.2L205.3 168.1L205.4 168.0L205.5 171.9L205.6 165.9L205.7 187.2L205.8 163.8L205.9 163.8L206.0 164.1L206.1 169.1L206.2 173.6L206.3 172.8L206.4 185.7L206.5 176.4L206.6 177.5L206.7 173.5L206.8 174.7L206.9 174.1L207.0 179.4L207.1 182.9L207.2 168.6L207.3 161.7L207.4 166.9L207.5 170.9L207.5 186.2L207.6 170.2L207.7 171.0L207.8 167.1L207.9 166.5L208.0 179.6L208.1 181.9L208.2 180.1L208.3 182.7L208.4 168.8L208.5 174.2L208.6 163.0L208.7 167.2L208.8 175.2L208.9 176.5L209.0 174.4L209.1 161.2L209.2 170.7L209.3 172.5L209.4 179.9L209.5 172.6L209.6 165.6L209.7 166.1L209.8 172.2L209.9 172.7L210.0 181.4L210.1 174.2L210.2 175.4L210.3 177.7L210.4 172.6L210.5 169.3L210.6 169.1L210.6 160.2L210.7 175.2L210.8 170.9L210.9 176.1L211.0 176.0L211.1 177.3L211.2 177.8L211.3 173.0L211.4 167.1L211.5 174.6L211.6 173.0L211.7 159.0L211.8 166.5L211.9 167.5L212.0 177.9L212.1 164.7L212.2 171.9L212.3 168.9L212.4 172.8L212.5 181.5L212.6 185.8L212.7 176.5L212.8 176.9L212.9 165.6L213.0 173.0L213.1 169.7L213.2 174.1L213.3 183.5L213.4 181.6L213.5 177.2L213.6 162.1L213.7 172.3L213.7 171.3L213.8 175.6L213.9 170.2L214.0 166.8L214.1 165.7L214.2 179.3L214.3 165.2L214.4 173.7L214.5 171.9L214.6 182.4L214.7 177.6L214.8 171.9L214.9 173.8L215.0 175.8L215.1 181.2L215.2 177.8L215.3 173.5L215.4 171.3L215.5 169.8L215.6 162.4L215.7 178.9L215.8 180.0L215.9 172.7L216.0 170.4L216.1 168.1L216.2 169.8L216.3 177.8L216.4 176.7L216.5 167.3L216.6 162.7L216.7 169.3L216.8 179.4L216.9 174.4L216.9 177.8L217.0 180.8L217.1 183.2L217.2 166.0L217.3 161.2L217.4 174.3L217.5 163.5L217.6 177.1L217.7 170.8L217.8 186.5L217.9 184.8L218.0 182.7L218.1 168.7L218.2 168.9L218.3 166.5L218.4 187.8L218.5 173.5L218.6 183.0L218.7 172.6L218.8 180.2L218.9 184.4L219.0 180.0L219.1 167.9L219.2 165.0L219.3 176.8L219.4 178.8L219.5 177.5L219.6 177.9L219.7 171.5L219.8 174.3L219.9 175.5L220.0 173.4L220.0 168.1L220.1 176.8L220.2 183.9L220.3 180.7L220.4 176.3L220.5 177.1L220.6 174.8L220.7 189.5L220.8 175.7L220.9 172.0L221.0 184.7L221.1 183.0L221.2 187.3L221.3 158.3L221.4 184.1L221.5 181.3L221.6 176.1L221.7 174.8L221.8 167.9L221.9 167.6L222.0 171.5L222.1 171.9L222.2 186.6L222.3 162.1L222.4 186.1L222.5 161.3L222.6 169.1L222.7 167.8L222.8 185.9L222.9 176.7L223.0 160.2L223.1 174.0L223.1 172.1L223.2 175.6L223.3 182.3L223.4 173.1L223.5 179.0L223.6 185.7L223.7 188.3L223.8 186.4L223.9 182.0L224.0 177.9L224.1 177.3L224.2 180.6L224.3 187.9L224.4 169.0L224.5 175.3L224.6 166.7L224.7 171.1L224.8 167.5L224.9 166.4L225.0 174.3L225.1 176.8L225.2 186.3L225.3 184.2L225.4 185.0L225.5 173.7L225.6 171.6L225.7 161.1L225.8 177.6L225.9 160.4L226.0 188.8L226.1 167.2L226.2 162.6L226.2 177.5L226.3 178.1L226.4 173.8L226.5 169.7L226.6 171.3L226.7 163.6L226.8 179.4L226.9 166.7L227.0 172.6L227.1 171.4L227.2 168.2L227.3 167.7L227.4 173.2L227.5 190.6L227.6 178.0L227.7 178.0L227.8 164.7L227.9 183.7L228.0 189.3L228.1 182.1L228.2 182.5L228.3 173.9L228.4 191.7L228.5 179.9L228.6 183.0L228.7 186.2L228.8 180.0L228.9 173.2L229.0 172.8L229.1 175.4L229.2 180.6L229.3 169.6L229.3 181.9L229.4 171.1L229.5 169.5L229.6 174.7L229.7 174.0L229.8 173.6L229.9 183.1L230.0 169.8L230.1 180.6L230.2 177.9L230.3 173.1L230.4 186.1L230.5 180.6L230.6 167.3L230.7 165.9L230.8 165.1L230.9 178.7L231.0 175.5L231.1 186.4L231.2 176.4L231.3 178.6L231.4 174.3L231.5 188.5L231.6 174.7L231.7 177.7L231.8 181.5L231.9 180.6L232.0 181.5L232.1 175.9L232.2 173.1L232.3 178.3L232.4 176.9L232.5 170.5L232.5 177.9L232.6 181.2L232.7 178.3L232.8 187.0L232.9 197.8L233.0 181.9L233.1 187.0L233.2 174.9L233.3 162.0L233.4 176.6L233.5 188.3L233.6 183.4L233.7 180.5L233.8 181.5L233.9 179.0L234.0 178.0L234.1 179.5L234.2 180.1L234.3 176.1L234.4 164.5L234.5 185.5L234.6 191.9L234.7 177.3L234.8 177.9L234.9 178.8L235.0 186.9L235.1 190.4L235.2 190.5L235.3 167.6L235.4 176.0L235.5 174.8L235.6 188.5L235.6 183.2L235.7 181.7L235.8 177.6L235.9 181.5L236.0 181.1L236.1 182.0L236.2 192.3L236.3 173.7L236.4 170.3L236.5 190.0L236.6 181.7L236.7 181.9L236.8 175.8L236.9 187.6L237.0 176.7L237.1 169.6L237.2 176.2L237.3 181.3L237.4 190.1L237.5 187.4L237.6 189.2L237.7 173.3L237.8 179.1L237.9 171.9L238.0 175.4L238.1 176.7L238.2 165.8L238.3 178.4L238.4 178.5L238.5 187.5L238.6 180.3L238.7 174.9L238.7 166.9L238.8 173.8L238.9 181.2L239.0 169.1L239.1 177.7L239.2 170.3L239.3 172.5L239.4 172.5L239.5 165.7L239.6 185.2L239.7 180.1L239.8 174.0L239.9 181.0L240.0 176.4L240.1 176.1L240.2 168.9L240.3 171.1L240.4 184.7L240.5 178.2L240.6 177.1L240.7 176.2L240.8 181.9L240.9 174.7L241.0 190.6L241.1 168.5L241.2 167.9L241.3 182.4L241.4 171.8L241.5 170.5L241.6 164.9L241.7 172.6L241.8 166.0L241.8 171.6L241.9 163.3L242.0 156.8L242.1 165.3L242.2 169.5L242.3 168.6L242.4 167.8L242.5 169.5L242.6 169.1L242.7 176.7L242.8 178.0L242.9 163.2L243.0 169.9L243.1 162.7L243.2 165.5L243.3 171.6L243.4 173.7L243.5 176.2L243.6 173.4L243.7 165.8L243.8 155.1L243.9 157.2L244.0 175.1L244.1 165.6L244.2 178.8L244.3 182.4L244.4 168.3L244.5 174.2L244.6 167.9L244.7 175.5L244.8 177.0L244.9 165.5L244.9 169.0L245.0 181.7L245.1 180.6L245.2 191.3L245.3 180.1L245.4 172.7L245.5 169.8L245.6 165.6L245.7 167.2L245.8 171.8L245.9 160.4L246.0 173.6L246.1 190.5L246.2 169.5L246.3 170.9L246.4 181.9L246.5 168.3L246.6 165.8L246.7 169.5L246.8 161.3L246.9 166.2L247.0 167.9L247.1 181.9L247.2 174.0L247.3 173.7L247.4 173.6L247.5 176.6L247.6 157.3L247.7 183.8L247.8 180.2L247.9 178.8L248.0 174.1L248.1 171.7L248.1 173.5L248.2 167.1L248.3 166.2L248.4 159.1L248.5 168.8L248.6 175.4L248.7 190.0L248.8 177.7L248.9 173.4L249.0 165.5L249.1 188.5L249.2 172.8L249.3 163.7L249.4 175.4L249.5 173.6L249.6 177.4L249.7 173.6L249.8 171.5L249.9 183.5L250.0 179.2L250.1 174.5L250.2 174.1L250.3 173.9L250.4 179.5L250.5 177.0L250.6 200.8L250.7 165.2L250.8 169.2L250.9 171.2L251.0 187.7L251.1 182.8L251.2 182.2L251.2 184.9L251.3 175.3L251.4 175.1L251.5 186.4L251.6 183.0L251.7 184.7L251.8 182.1L251.9 183.0L252.0 174.2L252.1 181.7L252.2 177.9L252.3 171.5L252.4 152.0L252.5 176.1L252.6 171.0L252.7 176.6L252.8 168.1L252.9 171.3L253.0 173.5L253.1 189.1L253.2 160.6L253.3 167.9L253.4 164.2L253.5 164.0L253.6 171.4L253.7 182.0L253.8 179.4L253.9 180.2L254.0 183.9L254.1 191.6L254.2 165.2L254.3 171.3L254.3 178.1L254.4 171.1L254.5 173.3L254.6 164.4L254.7 179.4L254.8 175.8L254.9 165.7L255.0 174.8L255.1 191.0L255.2 190.5L255.3 189.0L255.4 189.0L255.5 177.8L255.6 171.0L255.7 165.1L255.8 182.6L255.9 198.8L256.0 171.4L256.1 174.5L256.2 182.5L256.3 186.0L256.4 178.1L256.5 177.8L256.6 173.7L256.7 177.9L256.8 170.4L256.9 197.9L257.0 187.1L257.1 196.7L257.2 197.9L257.3 182.7L257.4 179.0L257.4 177.4L257.5 180.5L257.6 186.3L257.7 189.6L257.8 183.5L257.9 168.6L258.0 181.9L258.1 179.2L258.2 174.2L258.3 167.8L258.4 175.5L258.5 184.8L258.6 176.4L258.7 165.2L258.8 173.2L258.9 186.3L259.0 194.5L259.1 191.2L259.2 171.1L259.3 176.1L259.4 165.9L259.5 169.8L259.6 177.4L259.7 176.8L259.8 170.6L259.9 198.1L260.0 192.4L260.1 195.3L260.2 183.6L260.3 188.1L260.4 183.2L260.5 183.7L260.6 181.1L260.6 185.3L260.7 189.3L260.8 188.5L260.9 188.6L261.0 183.7L261.1 171.8L261.2 181.4L261.3 184.1L261.4 177.7L261.5 175.1L261.6 198.4L261.7 185.8L261.8 189.3L261.9 173.7L262.0 169.4L262.1 185.3L262.2 193.5L262.3 181.0L262.4 179.9L262.5 171.9L262.6 181.0L262.7 190.2L262.8 192.8L262.9 189.6L263.0 191.9L263.1 198.4L263.2 195.4L263.3 184.1L263.4 190.6L263.5 193.3L263.6 184.6L263.7 180.3L263.7 177.1L263.8 186.2L263.9 198.6L264.0 204.2L264.1 197.2L264.2 182.0L264.3 173.4L264.4 182.5L264.5 171.2L264.6 189.0L264.7 190.9L264.8 192.7L264.9 195.2L265.0 191.5L265.1 192.0L265.2 184.6L265.3 179.2L265.4 180.0L265.5 184.6L265.6 187.1L265.7 177.1L265.8 180.4L265.9 169.9L266.0 167.8L266.1 177.2L266.2 182.2L266.3 179.5L266.4 197.3L266.5 198.3L266.6 183.6L266.7 177.3L266.8 186.0L266.8 177.2L266.9 205.8L267.0 162.4L267.1 176.7L267.2 180.3L267.3 167.7L267.4 184.9L267.5 175.9L267.6 173.0L267.7 188.4L267.8 192.0L267.9 185.6L268.0 178.5L268.1 181.5L268.2 184.3L268.3 170.6L268.4 180.3L268.5 166.7L268.6 177.2L268.7 175.1L268.8 163.4L268.9 188.2L269.0 178.4L269.1 176.8L269.2 195.1L269.3 184.2L269.4 184.0L269.5 182.9L269.6 195.9L269.7 190.8L269.8 194.5L269.9 162.4L269.9 184.5L270.0 190.2L270.1 171.9L270.2 177.5L270.3 181.2L270.4 181.5L270.5 182.4L270.6 166.7L270.7 190.1L270.8 193.4L270.9 182.8L271.0 183.8L271.1 194.2L271.2 180.6L271.3 178.7L271.4 189.8L271.5 191.1L271.6 192.5L271.7 189.5L271.8 181.1L271.9 190.9L272.0 190.3L272.1 182.1L272.2 196.7L272.3 186.7L272.4 187.7L272.5 186.4L272.6 179.2L272.7 184.7L272.8 181.0L272.9 200.5L273.0 183.9L273.0 184.9L273.1 182.0L273.2 178.9L273.3 192.0L273.4 193.3L273.5 190.8L273.6 187.3L273.7 180.9L273.8 187.0L273.9 186.4L274.0 171.1L274.1 187.2L274.2 184.7L274.3 183.0L274.4 180.7L274.5 175.2L274.6 174.7L274.7 180.7L274.8 187.3L274.9 181.9L275.0 179.8L275.1 191.7L275.2 180.0L275.3 171.4L275.4 168.4L275.5 176.8L275.6 173.7L275.7 171.5L275.8 169.0L275.9 164.3L276.0 186.8L276.1 186.5L276.2 190.4L276.2 188.4L276.3 166.1L276.4 186.2L276.5 187.0L276.6 179.2L276.7 166.4L276.8 166.0L276.9 176.5L277.0 173.9L277.1 173.0L277.2 174.9L277.3 192.2L277.4 171.8L277.5 176.2L277.6 183.6L277.7 182.5L277.8 194.7L277.9 196.4L278.0 170.2L278.1 202.2L278.2 177.6L278.3 175.1L278.4 172.9L278.5 163.9L278.6 181.8L278.7 176.0L278.8 181.6L278.9 175.5L279.0 167.0L279.1 173.7L279.2 180.1L279.3 176.1L279.3 175.7L279.4 183.9L279.5 181.7L279.6 192.3L279.7 176.7L279.8 187.6L279.9 184.6L280.0 196.1L280.1 190.8L280.2 192.1L280.3 182.2L280.4 189.3L280.5 177.0L280.6 172.8L280.7 190.2L280.8 178.1L280.9 187.8L281.0 183.9L281.1 202.0L281.2 183.5L281.3 193.2L281.4 189.9L281.5 174.0L281.6 181.0L281.7 187.8L281.8 174.9L281.9 184.3L282.0 170.8L282.1 207.8L282.2 196.8L282.3 175.6L282.4 177.6L282.4 198.2L282.5 185.8L282.6 193.3L282.7 177.2L282.8 171.8L282.9 196.7L283.0 179.4L283.1 193.1L283.2 190.9L283.3 190.3L283.4 196.6L283.5 190.4L283.6 177.8L283.7 178.5L283.8 187.3L283.9 191.2L284.0 186.2L284.1 193.2L284.2 195.1L284.3 197.2L284.4 181.1L284.5 194.8L284.6 185.1L284.7 187.5L284.8 187.2L284.9 178.0L285.0 190.1L285.1 187.6L285.2 176.6L285.3 177.5L285.4 184.4L285.5 167.1L285.5 188.9L285.6 177.2L285.7 173.1L285.8 174.4L285.9 175.1L286.0 172.6L286.1 175.2L286.2 173.6L286.3 190.1L286.4 193.5L286.5 173.3L286.6 176.2L286.7 175.1L286.8 184.5L286.9 182.6L287.0 172.1L287.1 165.8L287.2 181.8L287.3 164.5L287.4 185.5L287.5 170.7L287.6 184.2L287.7 173.7L287.8 164.4L287.9 184.7L288.0 175.5L288.1 198.6L288.2 183.6L288.3 194.4L288.4 189.5L288.5 168.2L288.6 180.5L288.6 202.7L288.7 171.7L288.8 179.0L288.9 183.6L289.0 189.3L289.1 200.1L289.2 200.4L289.3 183.4L289.4 181.1L289.5 207.1L289.6 183.8L289.7 188.6L289.8 190.8L289.9 181.0L290.0 166.3L290.1 167.5L290.2 184.7L290.3 191.4L290.4 184.0L290.5 195.9L290.6 185.3L290.7 196.4L290.8 191.6L290.9 200.5L291.0 181.9L291.1 185.6L291.2 204.4L291.3 180.8L291.4 201.7L291.5 192.0L291.6 196.0L291.7 177.3L291.8 197.0L291.8 193.1L291.9 173.0L292.0 175.1L292.1 169.8L292.2 182.5L292.3 177.6L292.4 188.8L292.5 182.9L292.6 180.1L292.7 177.3L292.8 171.0L292.9 173.3L293.0 186.4L293.1 182.9L293.2 181.1L293.3 190.7L293.4 190.8L293.5 183.7L293.6 176.8L293.7 187.5L293.8 185.1L293.9 185.4L294.0 192.6L294.1 175.9L294.2 192.6L294.3 185.9L294.4 193.3L294.5 193.3L294.6 174.8L294.7 187.8L294.8 181.7L294.9 184.4L294.9 185.9L295.0 172.5L295.1 170.5L295.2 192.1L295.3 191.4L295.4 190.2L295.5 176.2L295.6 194.2L295.7 188.3L295.8 186.4L295.9 191.9L296.0 191.1L296.1 199.7L296.2 176.0L296.3 180.8L296.4 181.0L296.5 175.6L296.6 197.7L296.7 192.2L296.8 198.8L296.9 186.7L297.0 187.0L297.1 187.7L297.2 184.1L297.3 179.5L297.4 175.2L297.5 184.4L297.6 195.7L297.7 183.8L297.8 198.2L297.9 178.0L298.0 187.0L298.0 181.7L298.1 178.6L298.2 184.1L298.3 168.6L298.4 173.9L298.5 191.1L298.6 180.8L298.7 176.4L298.8 186.2L298.9 194.5L299.0 195.7L299.1 194.7L299.2 176.6L299.3 186.4L299.4 179.2L299.5 175.8L299.6 184.6L299.7 189.0L299.8 184.8L299.9 185.9L300.0 179.7L300.1 186.7L300.2 187.9L300.3 185.4L300.4 180.2L300.5 180.4L300.6 167.9L300.7 179.1L300.8 195.7L300.9 204.8L301.0 179.4L301.1 172.5L301.1 180.8L301.2 186.2L301.3 183.4L301.4 188.8L301.5 173.4L301.6 182.1L301.7 194.2L301.8 167.8L301.9 187.7L302.0 174.2L302.1 187.9L302.2 176.2L302.3 166.9L302.4 190.4L302.5 183.6L302.6 185.0L302.7 193.0L302.8 168.7L302.9 168.3L303.0 175.9L303.1 185.8L303.2 170.2L303.3 176.6L303.4 174.8L303.5 191.9L303.6 203.3L303.7 178.9L303.8 196.6L303.9 177.0L304.0 192.0L304.1 177.5L304.2 187.4L304.2 193.0L304.3 183.3L304.4 171.1L304.5 166.7L304.6 168.3L304.7 175.7L304.8 177.8L304.9 181.4L305.0 182.9L305.1 183.9L305.2 186.2L305.3 197.3L305.4 179.4L305.5 179.5L305.6 181.7L305.7 181.4L305.8 168.7L305.9 182.0L306.0 178.4L306.1 175.3L306.2 172.1L306.3 181.5L306.4 171.8L306.5 180.0L306.6 190.1L306.7 170.4L306.8 178.5L306.9 187.7L307.0 181.2L307.1 185.7L307.2 187.8L307.3 181.1L307.4 188.4L307.4 180.2L307.5 189.2L307.6 175.3L307.7 169.3L307.8 169.8L307.9 189.4L308.0 172.1L308.1 172.6L308.2 177.9L308.3 182.9L308.4 187.8L308.5 176.7L308.6 189.7L308.7 178.1L308.8 174.2L308.9 190.2L309.0 177.5L309.1 170.9L309.2 182.7L309.3 179.6L309.4 166.2L309.5 174.9L309.6 177.1L309.7 181.9L309.8 188.2L309.9 182.5L310.0 172.8L310.1 178.5L310.2 167.6L310.3 164.4L310.4 166.5L310.5 181.8L310.5 176.9L310.6 172.1L310.7 171.6L310.8 186.1L310.9 187.8L311.0 182.1L311.1 186.9L311.2 189.2L311.3 179.8L311.4 177.5L311.5 165.9L311.6 159.4L311.7 176.9L311.8 186.4L311.9 191.3L312.0 162.3L312.1 174.4L312.2 182.0L312.3 170.9L312.4 181.3L312.5 187.0L312.6 180.0L312.7 172.0L312.8 170.6L312.9 174.7L313.0 190.8L313.1 188.9L313.2 179.4L313.3 171.4L313.4 190.5L313.5 164.8L313.6 188.1L313.6 181.5L313.7 174.9L313.8 189.1L313.9 164.7L314.0 175.9L314.1 186.4L314.2 185.3L314.3 179.9L314.4 180.3L314.5 178.1L314.6 180.6L314.7 184.5L314.8 179.7L314.9 170.7L315.0 165.0L315.1 165.5L315.2 170.1L315.3 177.8L315.4 184.2L315.5 194.0L315.6 182.8L315.7 180.7L315.8 182.4L315.9 187.7L316.0 174.5L316.1 175.5L316.2 166.0L316.3 167.1L316.4 181.0L316.5 170.5L316.6 174.0L316.7 165.3L316.7 169.2L316.8 164.4L316.9 167.8L317.0 166.0L317.1 160.0L317.2 191.0L317.3 181.1L317.4 192.6L317.5 184.8L317.6 177.8L317.7 180.7L317.8 178.7L317.9 196.5L318.0 169.1L318.1 176.7L318.2 160.8L318.3 166.1L318.4 171.3L318.5 189.0L318.6 173.8L318.7 174.4L318.8 180.0L318.9 179.8L319.0 177.9L319.1 172.6L319.2 171.2L319.3 171.1L319.4 176.4L319.5 182.3L319.6 183.7L319.7 183.1L319.8 184.0L319.8 195.9L319.9 185.0L320.0 181.2L320.1 176.5L320.2 176.8L320.3 190.2L320.4 182.5L320.5 176.9L320.6 178.7L320.7 188.3L320.8 181.3L320.9 173.7L321.0 179.4L321.1 183.8L321.2 177.0L321.3 170.0L321.4 185.6L321.5 193.0L321.6 190.6L321.7 187.8L321.8 181.0L321.9 168.6L322.0 188.7L322.1 177.8L322.2 191.6L322.3 178.6L322.4 187.9L322.5 176.6L322.6 184.5L322.7 176.9L322.8 179.6L322.9 183.9L323.0 184.0L323.0 184.0L323.1 174.1L323.2 178.0L323.3 183.9L323.4 199.9L323.5 185.9L323.6 188.4L323.7 188.1L323.8 189.3L323.9 188.6L324.0 190.3L324.1 181.5L324.2 175.5L324.3 169.6L324.4 166.0L324.5 195.5L324.6 164.5L324.7 176.6L324.8 168.4L324.9 181.6L325.0 179.4L325.1 184.6L325.2 175.9L325.3 171.3L325.4 171.8L325.5 175.1L325.6 188.3L325.7 181.0L325.8 187.0L325.9 176.8L326.0 173.7L326.1 172.3L326.1 171.2L326.2 171.9L326.3 167.4L326.4 168.7L326.5 177.0L326.6 173.8L326.7 177.8L326.8 182.2L326.9 169.6L327.0 176.8L327.1 167.8L327.2 157.2L327.3 172.3L327.4 179.0L327.5 178.2L327.6 184.8L327.7 168.4L327.8 176.3L327.9 176.0L328.0 170.2L328.1 178.4L328.2 160.5L328.3 164.4L328.4 162.0L328.5 162.1L328.6 165.2L328.7 175.9L328.8 177.1L328.9 179.6L329.0 172.8L329.1 179.3L329.2 172.2L329.2 187.7L329.3 167.0L329.4 173.0L329.5 169.5L329.6 166.7L329.7 184.9L329.8 187.9L329.9 191.2L330.0 174.4L330.1 166.3L330.2 166.0L330.3 166.6L330.4 176.7L330.5 165.0L330.6 179.3L330.7 172.5L330.8 170.4L330.9 181.1L331.0 178.7L331.1 175.8L331.2 172.5L331.3 176.4L331.4 184.1L331.5 176.2L331.6 174.8L331.7 163.8L331.8 169.6L331.9 184.7L332.0 178.7L332.1 189.0L332.2 180.3L332.3 178.0L332.3 182.8L332.4 173.4L332.5 169.2L332.6 171.1L332.7 171.0L332.8 172.9L332.9 170.3L333.0 176.3L333.1 164.5L333.2 162.8L333.3 186.4L333.4 174.9L333.5 186.6L333.6 168.2L333.7 181.0L333.8 181.8L333.9 166.5L334.0 175.3L334.1 172.2L334.2 180.8L334.3 156.6L334.4 182.7L334.5 172.9L334.6 179.9L334.7 176.6L334.8 173.6L334.9 175.6L335.0 175.3L335.1 172.2L335.2 189.7L335.3 171.0L335.4 188.7L335.4 182.2L335.5 186.1L335.6 187.2L335.7 190.1L335.8 186.0L335.9 184.1L336.0 172.0L336.1 169.6L336.2 178.2L336.3 168.3L336.4 181.0L336.5 178.2L336.6 180.8L336.7 178.1L336.8 193.9L336.9 180.5L337.0 173.3L337.1 171.9L337.2 176.9L337.3 181.5L337.4 181.3L337.5 192.3L337.6 183.4L337.7 185.4L337.8 174.8L337.9 176.5L338.0 180.4L338.1 182.1L338.2 178.5L338.3 188.3L338.4 179.2L338.5 173.5L338.6 178.9L338.6 173.4L338.7 178.8L338.8 184.3L338.9 162.6L339.0 176.2L339.1 170.7L339.2 179.8L339.3 187.0L339.4 182.9L339.5 179.9L339.6 195.4L339.7 172.1L339.8 177.3L339.9 194.9L340.0 185.0L340.1 188.4L340.2 185.8L340.3 172.7L340.4 177.7L340.5 181.9L340.6 179.7L340.7 183.1L340.8 180.1L340.9 186.6L341.0 185.5L341.1 190.6L341.2 177.7L341.3 199.4L341.4 174.2L341.5 177.9L341.6 185.6L341.7 183.0L341.7 184.0L341.8 179.5L341.9 170.6L342.0 179.2L342.1 180.4L342.2 195.5L342.3 174.8L342.4 201.4L342.5 162.0L342.6 186.7L342.7 178.9L342.8 185.8L342.9 186.5L343.0 181.9L343.1 183.1L343.2 177.5L343.3 188.8L343.4 193.1L343.5 195.7L343.6 188.1L343.7 190.1L343.8 185.8L343.9 187.0L344.0 196.0L344.1 186.8L344.2 188.7L344.3 193.7L344.4 193.7L344.5 199.0L344.6 189.0L344.7 197.2L344.8 182.7L344.8 188.6L344.9 195.4L345.0 177.7L345.1 185.4L345.2 198.6L345.3 171.7L345.4 190.8L345.5 188.0L345.6 182.8L345.7 183.1L345.8 192.9L345.9 186.2L346.0 187.4L346.1 187.6L346.2 185.5L346.3 188.7L346.4 189.6L346.5 197.1L346.6 198.0L346.7 181.0L346.8 191.2L346.9 187.0L347.0 195.6L347.1 183.9L347.2 179.8L347.3 174.7L347.4 182.3L347.5 190.2L347.6 197.8L347.7 186.1L347.8 177.6L347.9 176.2L347.9 185.9L348.0 173.4L348.1 180.9L348.2 190.0L348.3 183.0L348.4 189.3L348.5 186.6L348.6 186.0L348.7 183.3L348.8 182.3L348.9 187.6L349.0 180.0L349.1 184.8L349.2 183.7L349.3 188.8L349.4 193.2L349.5 191.2L349.6 187.7L349.7 196.7L349.8 194.4L349.9 183.0L350.0 185.1L350.1 187.6L350.2 203.0L350.3 197.9L350.4 182.5L350.5 207.3L350.6 174.5L350.7 202.2L350.8 204.0L350.9 188.9L351.0 190.2L351.1 187.2L351.1 192.9L351.2 181.2L351.3 185.3L351.4 175.7L351.5 186.5L351.6 189.0L351.7 183.8L351.8 186.3L351.9 179.6L352.0 200.3L352.1 189.6L352.2 198.0L352.3 189.1L352.4 205.6L352.5 179.9L352.6 181.6L352.7 196.2L352.8 199.4L352.9 195.6L353.0 197.8L353.1 194.3L353.2 201.2L353.3 192.6L353.4 190.5L353.5 184.5L353.6 202.2L353.7 185.9L353.8 196.3L353.9 193.3L354.0 184.5L354.1 192.3L354.2 186.0L354.2 199.6L354.3 197.2L354.4 187.5L354.5 190.6L354.6 181.8L354.7 193.6L354.8 196.1L354.9 188.8L355.0 191.3L355.1 185.6L355.2 191.7L355.3 190.6L355.4 189.3L355.5 190.2L355.6 184.5L355.7 203.0L355.8 195.5L355.9 198.2L356.0 191.5L356.1 186.4L356.2 190.9L356.3 186.9L356.4 187.0L356.5 203.1L356.6 192.7L356.7 201.0L356.8 200.9L356.9 191.1L357.0 181.3L357.1 188.9L357.2 193.1L357.3 191.0L357.3 182.6L357.4 193.2L357.5 180.9L357.6 174.8L357.7 202.3L357.8 196.7L357.9 191.2L358.0 198.5L358.1 207.5L358.2 184.4L358.3 179.8L358.4 175.3L358.5 174.1L358.6 175.9L358.7 188.1L358.8 188.1L358.9 180.7L359.0 182.7L359.1 204.7L359.2 190.7L359.3 201.3L359.4 181.4L359.5 193.1L359.6 192.9L359.7 190.7L359.8 189.8L359.9 194.3L360.0 204.3L360.1 189.2L360.2 196.7L360.3 197.6L360.4 189.2L360.4 197.9L360.5 188.8L360.6 192.3L360.7 181.3L360.8 203.0L360.9 175.5L361.0 171.9L361.1 180.2L361.2 180.5L361.3 200.4L361.4 174.5L361.5 190.1L361.6 202.6L361.7 196.5L361.8 181.4L361.9 197.9L362.0 186.1L362.1 187.2L362.2 202.5L362.3 189.4L362.4 187.0L362.5 190.8L362.6 194.0L362.7 182.6L362.8 189.5L362.9 180.3L363.0 193.9L363.1 204.2L363.2 196.1L363.3 194.1L363.4 194.6L363.5 195.8L363.5 199.0L363.6 190.1L363.7 190.2L363.8 188.7L363.9 198.9L364.0 191.5L364.1 199.7L364.2 199.8L364.3 196.2L364.4 208.5L364.5 195.0L364.6 189.0L364.7 191.0L364.8 186.1L364.9 193.5L365.0 198.6L365.1 188.9L365.2 203.8L365.3 178.1L365.4 180.9L365.5 177.2L365.6 185.8L365.7 194.7L365.8 182.3L365.9 184.7L366.0 182.0L366.1 189.3L366.2 185.8L366.3 190.4L366.4 183.8L366.5 178.5L366.6 189.4L366.7 190.4L366.7 182.8L366.8 187.8L366.9 184.6L367.0 205.0L367.1 188.2L367.2 186.7L367.3 190.3L367.4 181.5L367.5 201.5L367.6 182.1L367.7 190.2L367.8 176.9L367.9 177.2L368.0 187.7L368.1 184.3L368.2 179.0L368.3 186.5L368.4 183.2L368.5 196.0L368.6 187.7L368.7 198.5L368.8 191.9L368.9 190.9L369.0 184.1L369.1 184.0L369.2 191.9L369.3 188.1L369.4 187.0L369.5 175.7L369.6 186.4L369.7 185.4L369.8 181.8L369.8 194.6L369.9 187.5L370.0 196.1L370.1 208.3L370.2 195.4L370.3 194.6L370.4 189.9L370.5 184.8L370.6 207.6L370.7 173.9L370.8 183.9L370.9 191.8L371.0 188.0L371.1 195.7L371.2 186.0L371.3 188.7L371.4 187.2L371.5 180.9L371.6 185.1L371.7 200.9L371.8 196.9L371.9 193.3L372.0 196.0L372.1 198.0L372.2 196.7L372.3 191.6L372.4 199.6L372.5 188.5L372.6 193.0L372.7 180.8L372.8 191.3L372.9 195.6L372.9 201.2L373.0 185.8L373.1 180.5L373.2 192.6L373.3 201.5L373.4 201.9L373.5 197.3L373.6 192.7L373.7 191.5L373.8 182.8L373.9 191.4L374.0 200.7L374.1 189.2L374.2 181.8L374.3 206.3L374.4 161.7L374.5 173.4L374.6 204.5L374.7 185.9L374.8 184.6L374.9 193.6L375.0 184.6L375.1 202.3L375.2 185.5L375.3 179.6L375.4 172.2L375.5 182.9L375.6 197.9L375.7 189.3L375.8 184.1L375.9 190.0L376.0 192.8L376.0 189.7L376.1 196.9L376.2 194.9L376.3 189.8L376.4 188.0L376.5 190.9L376.6 200.7L376.7 200.4L376.8 200.1L376.9 198.7L377.0 175.3L377.1 191.1L377.2 191.8L377.3 178.1L377.4 180.4L377.5 184.4L377.6 182.6L377.7 185.5L377.8 189.4L377.9 177.1L378.0 175.3L378.1 179.6L378.2 186.3L378.3 189.8L378.4 190.9L378.5 195.0L378.6 187.9L378.7 181.0L378.8 186.7L378.9 187.2L379.0 192.2L379.1 197.7L379.1 199.4L379.2 194.6L379.3 189.4L379.4 187.5L379.5 188.3L379.6 188.5L379.7 192.8L379.8 193.8L379.9 176.7L380.0 181.8L380.1 191.9L380.2 178.7L380.3 209.1L380.4 194.0L380.5 191.9L380.6 197.0L380.7 179.8L380.8 203.2L380.9 190.6L381.0 187.6L381.1 187.4L381.2 178.2L381.3 177.1L381.4 181.4L381.5 201.3L381.6 190.4L381.7 179.9L381.8 190.6L381.9 201.5L382.0 184.1L382.1 191.1L382.2 190.7L382.3 200.6L382.3 203.4L382.4 195.0L382.5 191.9L382.6 186.4L382.7 192.3L382.8 198.1L382.9 202.3L383.0 202.3L383.1 199.3L383.2 199.7L383.3 199.3L383.4 206.4L383.5 195.8L383.6 185.8L383.7 188.3L383.8 185.0L383.9 190.5L384.0 198.7L384.1 192.2L384.2 196.1L384.3 193.7L384.4 181.3L384.5 187.3L384.6 192.8L384.7 190.7L384.8 189.5L384.9 187.5L385.0 179.4L385.1 188.5L385.2 198.1L385.3 193.5L385.4 200.2L385.4 184.8L385.5 191.9L385.6 191.3L385.7 186.1L385.8 191.4L385.9 194.2L386.0 190.7L386.1 199.2L386.2 202.9L386.3 196.0L386.4 201.6L386.5 179.6L386.6 197.4L386.7 192.8L386.8 189.1L386.9 188.2L387.0 202.1L387.1 197.5L387.2 169.1L387.3 192.0L387.4 191.6L387.5 193.6L387.6 188.6L387.7 187.3L387.8 183.6L387.9 183.2L388.0 179.0L388.1 182.2L388.2 185.6L388.3 179.4L388.4 202.4L388.5 190.0L388.5 197.6L388.6 179.8L388.7 196.7L388.8 191.8L388.9 172.7L389.0 184.2L389.1 174.6L389.2 181.8L389.3 197.5L389.4 203.2L389.5 184.6L389.6 182.3L389.7 185.7L389.8 197.4L389.9 186.4L390.0 203.9L390.1 197.1L390.2 196.5L390.3 194.7L390.4 190.6L390.5 186.9L390.6 189.0L390.7 186.0L390.8 190.6L390.9 176.1L391.0 198.2L391.1 180.1L391.2 179.2L391.3 205.5L391.4 172.3L391.5 188.6L391.6 183.5L391.6 184.6L391.7 190.1L391.8 194.4L391.9 192.5L392.0 206.7L392.1 174.6L392.2 179.5L392.3 193.7L392.4 192.7L392.5 178.1L392.6 175.1L392.7 192.5L392.8 197.1L392.9 201.3L393.0 200.1L393.1 189.9L393.2 181.9L393.3 196.8L393.4 192.1L393.5 189.8L393.6 195.7L393.7 190.6L393.8 185.3L393.9 190.2L394.0 189.4L394.1 192.9L394.2 193.6L394.3 197.7L394.4 173.9L394.5 193.2L394.6 187.2L394.7 183.7L394.7 183.6L394.8 193.5L394.9 206.2L395.0 178.5L395.1 178.7L395.2 201.7L395.3 195.6L395.4 194.2L395.5 199.4L395.6 185.2L395.7 182.5L395.8 176.3L395.9 186.4L396.0 191.9L396.1 171.7L396.2 172.6L396.3 199.1L396.4 198.6L396.5 189.5L396.6 199.2L396.7 191.7L396.8 191.4L396.9 200.1L397.0 187.9L397.1 189.9L397.2 196.4L397.3 194.2L397.4 190.7L397.5 183.6L397.6 185.1L397.7 208.6L397.8 186.5L397.9 199.0L397.9 191.9L398.0 196.0L398.1 189.5L398.2 187.9L398.3 206.1L398.4 203.5L398.5 200.8L398.6 198.9L398.7 195.0L398.8 193.4L398.9 186.6L399.0 187.7L399.1 182.5L399.2 172.5L399.3 188.0L399.4 192.2L399.5 178.4L399.6 174.0L399.7 178.5L399.8 205.3L399.9 184.2L400.0 202.6L400.1 182.5L400.2 205.4L400.3 195.4L400.4 185.1L400.5 196.1L400.6 186.6L400.7 192.8L400.8 175.9L400.9 180.2L401.0 179.6L401.0 191.9L401.1 193.5L401.2 187.1L401.3 192.6L401.4 204.1L401.5 202.6L401.6 186.5L401.7 182.0L401.8 189.6L401.9 179.1L402.0 207.9L402.1 192.0L402.2 203.6L402.3 203.4L402.4 198.7L402.5 184.8L402.6 194.0L402.7 205.7L402.8 208.3L402.9 175.4L403.0 197.0L403.1 200.9L403.2 195.8L403.3 193.7L403.4 194.5L403.5 206.0L403.6 194.6L403.7 197.9L403.8 190.2L403.9 188.1L404.0 183.3L404.1 194.5L404.1 195.7L404.2 190.4L404.3 186.3L404.4 193.2L404.5 201.4L404.6 188.1L404.7 186.5L404.8 175.0L404.9 178.2L405.0 185.5L405.1 185.7L405.2 193.5L405.3 190.8L405.4 183.5L405.5 192.0L405.6 193.9L405.7 187.4L405.8 169.8L405.9 176.4L406.0 186.9L406.1 188.4L406.2 176.0L406.3 183.7L406.4 188.8L406.5 190.0L406.6 200.2L406.7 190.4L406.8 189.6L406.9 191.9L407.0 196.3L407.1 178.3L407.2 176.8L407.2 177.7L407.3 188.9L407.4 182.6L407.5 188.7L407.6 175.9L407.7 191.1L407.8 190.4L407.9 191.2L408.0 201.8L408.1 177.6L408.2 173.9L408.3 187.3L408.4 199.1L408.5 185.3L408.6 182.9L408.7 176.2L408.8 202.5L408.9 179.8L409.0 194.2L409.1 187.2L409.2 194.3L409.3 184.9L409.4 186.8L409.5 196.1L409.6 195.8L409.7 193.9L409.8 189.0L409.9 193.1L410.0 204.2L410.1 195.8L410.2 197.8L410.3 184.7L410.3 192.8L410.4 202.2L410.5 181.8L410.6 187.5L410.7 183.2L410.8 175.1L410.9 177.9L411.0 187.5L411.1 203.2L411.2 187.1L411.3 185.6L411.4 173.3L411.5 181.9L411.6 172.1L411.7 188.5L411.8 192.1L411.9 198.9L412.0 192.8L412.1 184.1L412.2 192.9L412.3 194.9L412.4 189.2L412.5 188.9L412.6 188.7L412.7 185.0L412.8 172.8L412.9 175.2L413.0 174.4L413.1 180.1L413.2 203.8L413.3 185.9L413.4 190.7L413.5 184.2L413.5 183.1L413.6 181.1L413.7 186.1L413.8 191.3L413.9 187.2L414.0 188.7L414.1 189.8L414.2 183.3L414.3 188.7L414.4 196.9L414.5 196.2L414.6 193.1L414.7 197.7L414.8 187.4L414.9 198.9L415.0 200.4L415.1 177.7L415.2 183.4L415.3 179.8L415.4 180.2L415.5 196.3L415.6 189.5L415.7 192.5L415.8 176.3L415.9 190.0L416.0 185.5L416.1 194.4L416.2 202.8L416.3 195.2L416.4 196.5L416.5 195.2L416.6 184.8L416.6 180.3L416.7 194.7L416.8 195.1L416.9 196.1L417.0 187.2L417.1 186.8L417.2 184.0L417.3 190.5L417.4 191.9L417.5 192.1L417.6 190.2L417.7 200.4L417.8 192.3L417.9 196.1L418.0 189.6L418.1 195.7L418.2 180.8L418.3 189.9L418.4 179.5L418.5 205.7L418.6 206.3L418.7 200.2L418.8 196.4L418.9 192.1L419.0 191.3L419.1 194.4L419.2 196.8L419.3 195.8L419.4 207.7L419.5 206.3L419.6 182.6L419.7 196.8L419.7 195.8L419.8 202.0L419.9 203.2L420.0 199.4L420.1 178.9L420.2 191.6L420.3 197.0L420.4 184.7L420.5 186.7L420.6 198.2L420.7 203.9L420.8 199.9L420.9 192.7L421.0 193.4L421.1 187.5L421.2 200.3L421.3 198.8L421.4 195.0L421.5 191.9L421.6 182.4L421.7 187.7L421.8 184.9L421.9 184.6L422.0 187.6L422.1 183.4L422.2 190.4L422.3 204.0L422.4 194.3L422.5 187.3L422.6 188.9L422.7 198.1L422.8 198.6L422.8 192.7L422.9 199.2L423.0 186.6L423.1 189.3L423.2 190.5L423.3 198.3L423.4 180.0L423.5 188.1L423.6 187.3L423.7 197.8L423.8 190.2L423.9 195.1L424.0 195.7L424.1 195.7L424.2 181.7L424.3 179.7L424.4 188.8L424.5 187.8L424.6 191.6L424.7 186.5L424.8 196.6L424.9 190.6L425.0 201.3L425.1 192.8L425.2 187.4L425.3 198.9L425.4 190.1L425.5 191.8L425.6 187.3L425.7 181.7L425.8 182.1L425.9 188.3L426.0 188.8L426.0 181.4L426.1 185.0L426.2 204.5L426.3 183.6L426.4 175.0L426.5 182.8L426.6 182.3L426.7 200.1L426.8 188.2L426.9 181.8L427.0 178.8L427.1 190.5L427.2 192.0L427.3 202.5L427.4 174.7L427.5 190.7L427.6 188.4L427.7 185.9L427.8 173.4L427.9 188.1L428.0 178.4L428.1 194.0L428.2 187.3L428.3 195.5L428.4 188.3L428.5 190.0L428.6 188.6L428.7 198.3L428.8 194.3L428.9 199.0L429.0 196.3L429.1 197.2L429.1 185.5L429.2 185.0L429.3 194.9L429.4 176.7L429.5 198.0L429.6 194.2L429.7 203.5L429.8 197.0L429.9 185.1L430.0 205.0L430.1 194.7L430.2 181.4L430.3 201.0L430.4 194.5L430.5 174.3L430.6 208.2L430.7 186.5L430.8 182.8L430.9 191.1L431.0 198.4L431.1 188.6L431.2 204.0L431.3 189.4L431.4 181.3L431.5 194.4L431.6 211.5L431.7 197.4L431.8 211.3L431.9 191.0L432.0 186.1L432.1 191.0L432.2 179.9L432.2 180.9L432.3 182.9L432.4 190.4L432.5 195.4L432.6 199.7L432.7 197.5L432.8 174.8L432.9 194.3L433.0 198.2L433.1 196.6L433.2 207.4L433.3 201.6L433.4 192.9L433.5 197.8L433.6 201.6L433.7 208.3L433.8 209.2L433.9 199.0L434.0 201.6L434.1 193.9L434.2 196.4L434.3 201.0L434.4 197.8L434.5 193.8L434.6 192.9L434.7 199.2L434.8 198.9L434.9 201.4L435.0 185.9L435.1 184.2L435.2 188.8L435.3 194.6L435.3 200.3L435.4 201.2L435.5 200.9L435.6 198.7L435.7 180.2L435.8 181.3L435.9 185.4L436.0 182.6L436.1 188.9L436.2 191.1L436.3 196.1L436.4 204.1L436.5 203.8L436.6 200.1L436.7 203.4L436.8 183.7L436.9 182.4L437.0 189.1L437.1 202.6L437.2 205.4L437.3 208.8L437.4 195.9L437.5 195.8L437.6 192.9L437.7 180.6L437.8 205.4L437.9 200.4L438.0 177.1L438.1 191.3L438.2 186.3L438.3 188.8L438.4 206.0L438.4 190.6L438.5 183.8L438.6 177.9L438.7 181.8L438.8 185.9L438.9 188.2L439.0 191.5L439.1 183.8L439.2 190.5L439.3 188.9L439.4 195.1L439.5 177.5L439.6 190.6L439.7 204.2L439.8 190.3L439.9 182.1L440.0 183.8L440.1 203.3L440.2 179.8L440.3 186.8L440.4 188.3L440.5 174.7L440.6 180.7L440.7 186.3L440.8 190.9L440.9 197.9L441.0 188.1L441.1 190.0L441.2 202.1L441.3 198.0L441.4 202.0L441.5 200.6L441.6 202.7L441.6 203.2L441.7 188.3L441.8 191.5L441.9 174.6L442.0 188.7L442.1 192.5L442.2 192.3L442.3 193.1L442.4 194.1L442.5 203.7L442.6 188.1L442.7 175.5L442.8 189.3L442.9 188.2L443.0 194.7L443.1 175.0L443.2 173.2L443.3 184.2L443.4 184.8L443.5 201.7L443.6 181.6L443.7 184.9L443.8 182.8L443.9 188.0L444.0 188.6L444.1 186.2L444.2 196.8L444.3 187.7L444.4 184.5L444.5 187.0L444.6 186.8L444.7 188.5L444.7 187.9L444.8 182.1L444.9 202.6L445.0 172.9L445.1 181.6L445.2 182.2L445.3 194.0L445.4 174.0L445.5 185.8L445.6 194.7L445.7 192.4L445.8 189.4L445.9 209.4L446.0 169.4L446.1 197.0L446.2 192.1L446.3 200.9L446.4 187.5L446.5 183.7L446.6 185.0L446.7 196.2L446.8 184.4L446.9 181.4L447.0 185.6L447.1 203.8L447.2 190.7L447.3 195.8L447.4 197.2L447.5 201.7L447.6 205.2L447.7 192.8L447.8 191.0L447.8 197.3L447.9 177.2L448.0 207.9L448.1 199.1L448.2 187.0L448.3 195.5L448.4 186.7L448.5 197.9L448.6 193.7L448.7 197.4L448.8 197.0L448.9 198.4L449.0 198.6L449.1 191.4L449.2 185.3L449.3 183.6L449.4 189.6L449.5 201.5L449.6 197.6L449.7 200.9L449.8 199.5L449.9 191.9L450.0 186.1L450.1 199.0L450.2 194.8L450.3 193.1L450.4 190.5L450.5 191.7L450.6 184.7L450.7 177.0L450.8 189.4L450.9 195.6L450.9 191.3L451.0 182.6L451.1 183.1L451.2 202.7L451.3 191.8L451.4 199.4L451.5 192.0L451.6 191.1L451.7 199.1L451.8 186.0L451.9 203.2L452.0 184.8L452.1 177.6L452.2 182.3L452.3 177.3L452.4 185.6L452.5 179.7L452.6 183.8L452.7 180.3L452.8 182.0L452.9 185.0L453.0 177.0L453.1 192.0L453.2 184.1L453.3 176.4L453.4 175.3L453.5 187.4L453.6 193.9L453.7 199.1L453.8 168.4L453.9 190.6L454.0 187.2L454.0 177.2L454.1 187.1L454.2 196.6L454.3 201.0L454.4 185.8L454.5 182.2L454.6 193.9L454.7 195.6L454.8 197.8L454.9 189.9L455.0 200.4L455.1 201.6L455.2 196.9L455.3 206.0L455.4 197.3L455.5 177.3L455.6 191.3L455.7 194.6L455.8 200.6L455.9 182.5L456.0 204.6L456.1 206.4L456.2 193.3L456.3 190.6L456.4 187.2L456.5 208.2L456.6 188.1L456.7 191.0L456.8 189.7L456.9 188.5L457.0 190.8L457.1 191.2L457.2 187.6L457.2 194.6L457.3 198.1L457.4 186.4L457.5 195.5L457.6 199.2L457.7 198.7L457.8 193.7L457.9 193.4L458.0 189.4L458.1 214.0L458.2 193.5L458.3 191.4L458.4 202.5L458.5 195.4L458.6 194.5L458.7 202.0L458.8 219.4L458.9 204.2L459.0 210.5L459.1 208.8L459.2 199.7L459.3 193.7L459.4 205.3L459.5 206.1L459.6 191.3L459.7 196.8L459.8 194.0L459.9 202.7L460.0 206.5L460.1 209.3L460.2 209.4L460.3 204.2L460.3 196.5L460.4 195.2L460.5 195.5L460.6 193.8L460.7 202.1L460.8 187.2L460.9 194.1L461.0 196.0L461.1 209.1L461.2 210.8L461.3 203.5L461.4 191.5L461.5 196.2L461.6 203.2L461.7 203.3L461.8 197.9L461.9 202.2L462.0 195.1L462.1 192.0L462.2 192.7L462.3 193.9L462.4 190.6L462.5 190.8L462.6 205.1L462.7 217.9L462.8 207.3L462.9 203.5L463.0 196.7L463.1 199.4L463.2 189.2L463.3 187.7L463.4 199.7L463.4 204.9L463.5 203.4L463.6 210.4L463.7 194.9L463.8 197.2L463.9 196.8L464.0 199.4L464.1 184.9L464.2 198.1L464.3 206.9L464.4 196.0L464.5 188.7L464.6 198.0L464.7 190.9L464.8 193.6L464.9 183.7L465.0 194.9L465.1 207.0L465.2 199.5L465.3 197.0L465.4 199.9L465.5 200.9L465.6 199.7L465.7 194.8L465.8 182.6L465.9 195.3L466.0 191.4L466.1 189.8L466.2 180.8L466.3 192.6L466.4 192.5L466.5 198.0L466.5 204.7L466.6 208.0L466.7 189.5L466.8 186.6L466.9 187.9L467.0 191.5L467.1 197.7L467.2 204.7L467.3 204.3L467.4 193.7L467.5 193.9L467.6 186.8L467.7 194.3L467.8 199.2L467.9 196.8L468.0 198.7L468.1 194.2L468.2 180.4L468.3 190.4L468.4 187.7L468.5 192.8L468.6 191.0L468.7 187.0L468.8 204.2L468.9 193.0L469.0 203.4L469.1 189.2L469.2 189.4L469.3 192.6L469.4 201.4L469.5 207.0L469.6 203.5L469.6 193.3L469.7 205.3L469.8 209.4L469.9 198.1L470.0 198.1L470.1 183.6L470.2 193.4L470.3 189.7L470.4 202.0L470.5 187.7L470.6 185.3L470.7 192.5L470.8 205.9L470.9 208.5L471.0 201.5L471.1 204.0L471.2 210.4L471.3 197.3L471.4 210.1L471.5 177.8L471.6 192.8L471.7 198.5L471.8 192.5L471.9 199.6L472.0 212.6L472.1 201.8L472.2 198.2L472.3 205.5L472.4 208.9L472.5 214.8L472.6 209.7L472.7 210.0L472.8 194.1L472.8 191.4L472.9 196.1L473.0 203.4L473.1 192.5L473.2 208.9L473.3 207.4L473.4 207.3L473.5 212.1L473.6 212.5L473.7 190.1L473.8 180.6L473.9 191.5L474.0 194.5L474.1 199.3L474.2 200.9L474.3 204.5L474.4 199.1L474.5 193.1L474.6 206.9L474.7 187.3L474.8 188.6L474.9 189.9L475.0 181.6L475.1 197.1L475.2 191.2L475.3 199.7L475.4 189.2L475.5 211.1L475.6 203.0L475.7 189.8L475.8 184.1L475.9 184.9L475.9 202.8L476.0 197.4L476.1 209.3L476.2 200.1L476.3 202.1L476.4 215.2L476.5 207.4L476.6 198.5L476.7 206.4L476.8 209.4L476.9 208.7L477.0 206.5L477.1 201.2L477.2 212.1L477.3 204.6L477.4 192.6L477.5 214.7L477.6 198.4L477.7 185.6L477.8 204.6L477.9 196.1L478.0 202.6L478.1 217.7L478.2 188.5L478.3 200.4L478.4 199.0L478.5 199.1L478.6 198.9L478.7 200.1L478.8 200.2L478.9 206.2L479.0 212.6L479.0 210.2L479.1 204.0L479.2 201.3L479.3 208.0L479.4 207.6L479.5 208.5L479.6 192.1L479.7 188.7L479.8 203.5L479.9 196.2L480.0 196.9L480.1 174.9L480.2 181.1L480.3 201.9L480.4 192.7L480.5 201.7L480.6 188.4L480.7 198.3L480.8 201.6L480.9 184.6L481.0 195.9L481.1 192.5L481.2 188.8L481.3 192.8L481.4 205.2L481.5 203.6L481.6 210.8L481.7 188.7L481.8 191.7L481.9 181.4L482.0 175.8L482.1 184.5L482.1 202.5L482.2 193.7L482.3 198.7L482.4 200.7L482.5 209.6L482.6 197.7L482.7 195.4L482.8 189.7L482.9 190.3L483.0 193.7L483.1 200.6L483.2 199.7L483.3 192.7L483.4 198.1L483.5 188.4L483.6 200.0L483.7 203.5L483.8 200.9L483.9 188.6L484.0 194.5L484.1 181.1L484.2 207.0L484.3 196.0L484.4 204.2L484.5 192.0L484.6 192.0L484.7 196.1L484.8 194.3L484.9 185.2L485.0 196.4L485.1 185.2L485.2 194.0L485.2 205.3L485.3 208.5L485.4 195.2L485.5 204.9L485.6 183.8L485.7 184.8L485.8 190.9L485.9 197.4L486.0 212.5L486.1 203.9L486.2 202.3L486.3 186.3L486.4 195.4L486.5 203.9L486.6 195.9L486.7 199.4L486.8 199.3L486.9 198.2L487.0 206.1L487.1 199.8L487.2 189.5L487.3 187.1L487.4 204.6L487.5 214.2L487.6 197.7L487.7 186.1L487.8 202.5L487.9 198.7L488.0 209.8L488.1 199.8L488.2 181.1L488.3 197.2L488.4 202.1L488.4 202.0L488.5 197.7L488.6 188.2L488.7 184.5L488.8 195.3L488.9 197.8L489.0 208.8L489.1 190.8L489.2 204.0L489.3 187.3L489.4 206.1L489.5 195.8L489.6 193.4L489.7 191.1L489.8 196.6L489.9 189.4L490.0 188.8L490.1 190.6L490.2 190.9L490.3 193.6L490.4 185.0L490.5 183.7L490.6 201.2L490.7 202.1L490.8 199.3L490.9 202.0L491.0 191.8L491.1 188.4L491.2 195.4L491.3 184.0L491.4 195.8L491.5 196.9L491.5 194.2L491.6 200.1L491.7 208.3L491.8 193.8L491.9 191.3L492.0 196.9L492.1 199.1L492.2 201.3L492.3 189.1L492.4 195.3L492.5 199.9L492.6 205.0L492.7 207.8L492.8 194.7L492.9 196.1L493.0 189.3L493.1 197.1L493.2 196.3L493.3 196.2L493.4 206.2L493.5 202.4L493.6 207.0L493.7 203.5L493.8 193.6L493.9 191.3L494.0 191.8L494.1 191.0L494.2 176.2L494.3 194.1L494.4 188.7L494.5 197.4L494.6 199.6L494.6 196.7L494.7 177.0L494.8 187.8L494.9 203.1L495.0 197.3L495.1 194.5L495.2 190.7L495.3 186.1L495.4 184.6L495.5 188.0L495.6 187.4L495.7 205.9L495.8 183.2L495.9 182.4L496.0 187.1L496.1 187.5L496.2 183.2L496.3 189.7L496.4 197.1L496.5 186.0L496.6 183.9L496.7 188.4L496.8 177.4L496.9 190.2L497.0 180.4L497.1 199.5L497.2 189.4L497.3 193.7L497.4 182.8L497.5 193.5L497.6 184.4L497.7 198.3L497.7 212.5L497.8 185.6L497.9 190.0L498.0 201.0L498.1 192.0L498.2 174.2L498.3 187.7L498.4 188.2L498.5 185.3L498.6 191.7L498.7 207.8L498.8 183.7L498.9 193.3L499.0 187.7L499.1 186.6L499.2 205.0L499.3 187.3L499.4 188.0L499.5 191.1L499.6 193.6L499.7 199.9L499.8 198.4L499.9 196.5L500.0 188.2L500.1 192.6L500.2 182.8L500.3 177.9L500.4 187.6L500.5 211.5L500.6 192.4L500.7 203.2L500.8 188.5L500.9 194.2L500.9 194.1L501.0 202.3L501.1 192.4L501.2 198.8L501.3 193.8L501.4 193.3L501.5 191.2L501.6 216.4L501.7 192.4L501.8 193.4L501.9 186.6L502.0 190.4L502.1 182.6L502.2 213.9L502.3 209.9L502.4 205.0L502.5 204.2L502.6 205.2L502.7 192.8L502.8 191.4L502.9 207.9L503.0 188.0L503.1 190.8L503.2 198.5L503.3 191.6L503.4 192.1L503.5 189.5L503.6 202.5L503.7 200.1L503.8 191.8L503.9 193.4L504.0 196.9L504.0 196.6L504.1 191.7L504.2 201.6L504.3 186.1L504.4 192.0L504.5 192.3L504.6 188.2L504.7 184.7L504.8 181.6L504.9 207.4L505.0 185.9L505.1 190.7L505.2 203.6L505.3 208.9L505.4 188.5L505.5 186.0L505.6 204.8L505.7 207.0L505.8 198.8L505.9 194.4L506.0 196.6L506.1 199.0L506.2 202.8L506.3 198.8L506.4 200.1L506.5 206.3L506.6 204.7L506.7 194.4L506.8 193.5L506.9 191.5L507.0 189.1L507.1 213.1L507.1 184.8L507.2 180.6L507.3 180.0L507.4 191.3L507.5 194.8L507.6 204.5L507.7 200.8L507.8 192.8L507.9 203.9L508.0 203.9L508.1 203.6L508.2 210.4L508.3 198.1L508.4 190.9L508.5 188.2L508.6 187.6L508.7 179.4L508.8 187.1L508.9 183.9L509.0 178.9L509.1 203.8L509.2 190.2L509.3 181.2L509.4 180.0L509.5 185.3L509.6 189.0L509.7 200.6L509.8 197.4L509.9 204.8L510.0 180.2L510.1 190.6L510.2 196.8L510.2 197.7L510.3 198.3L510.4 201.3L510.5 203.9L510.6 195.6L510.7 191.8L510.8 204.4L510.9 197.0L511.0 194.3L511.1 186.5L511.2 192.6L511.3 187.9L511.4 178.5L511.5 197.9L511.6 198.1L511.7 191.7L511.8 191.0L511.9 184.3L512.0 187.9L512.1 186.7L512.2 186.6L512.3 205.1L512.4 198.3L512.5 185.3L512.6 197.7L512.7 188.7L512.8 191.9L512.9 197.4L513.0 200.7L513.1 191.8L513.2 196.4L513.3 180.9L513.3 195.2L513.4 193.3L513.5 178.1L513.6 204.1L513.7 191.5L513.8 187.9L513.9 191.1L514.0 185.3L514.1 195.1L514.2 193.4L514.3 191.4L514.4 191.9L514.5 184.5L514.6 191.5L514.7 186.1L514.8 181.5L514.9 181.9L515.0 186.0L515.1 192.4L515.2 180.3L515.3 184.4L515.4 185.7L515.5 177.5L515.6 182.9L515.7 187.8L515.8 189.5L515.9 185.2L516.0 186.5L516.1 181.4L516.2 187.7L516.3 203.4L516.4 189.6L516.5 184.5L516.5 200.8L516.6 191.4L516.7 186.2L516.8 202.8L516.9 196.2L517.0 201.8L517.1 177.5L517.2 208.5L517.3 186.4L517.4 182.8L517.5 198.6L517.6 196.3L517.7 189.9L517.8 192.1L517.9 189.9L518.0 182.8L518.1 194.7L518.2 195.2L518.3 197.1L518.4 182.1L518.5 186.8L518.6 185.6L518.7 190.4L518.8 194.5L518.9 179.7L519.0 185.5L519.1 189.3L519.2 203.4L519.3 200.5L519.4 198.8L519.5 184.8L519.6 188.9L519.6 194.3L519.7 193.8L519.8 177.6L519.9 211.7L520.0 199.0L520.1 191.5L520.2 189.9L520.3 187.2L520.4 189.9L520.5 190.9L520.6 176.7L520.7 190.3L520.8 175.5L520.9 191.4L521.0 200.2L521.1 190.4L521.2 191.3L521.3 186.7L521.4 179.2L521.5 200.8L521.6 198.0L521.7 205.0L521.8 194.0L521.9 205.6L522.0 194.1L522.1 184.9L522.2 200.4L522.3 199.0L522.4 196.2L522.5 202.6L522.6 179.5L522.7 193.4L522.7 192.5L522.8 205.5L522.9 191.2L523.0 184.3L523.1 193.9L523.2 195.7L523.3 184.1L523.4 179.8L523.5 202.5L523.6 194.6L523.7 184.9L523.8 193.3L523.9 196.6L524.0 195.2L524.1 196.6L524.2 187.0L524.3 210.7L524.4 194.6L524.5 195.9L524.6 192.2L524.7 184.9L524.8 183.9L524.9 181.5L525.0 197.0L525.1 186.3L525.2 195.1L525.3 180.3L525.4 184.9L525.5 180.8L525.6 195.9L525.7 198.5L525.8 201.7L525.8 201.8L525.9 186.8L526.0 191.3L526.1 182.0L526.2 179.0L526.3 188.8L526.4 191.6L526.5 197.0L526.6 201.5L526.7 194.5L526.8 204.5L526.9 191.3L527.0 190.8L527.1 203.1L527.2 202.3L527.3 198.5L527.4 199.5L527.5 202.0L527.6 191.6L527.7 190.2L527.8 194.1L527.9 196.6L528.0 198.8L528.1 193.1L528.2 201.7L528.3 202.2L528.4 200.1L528.5 192.7L528.6 198.2L528.7 210.0L528.8 196.4L528.9 195.6L528.9 203.0L529.0 189.6L529.1 193.8L529.2 196.7L529.3 192.8L529.4 193.5L529.5 192.3L529.6 184.2L529.7 190.2L529.8 193.3L529.9 195.6L530.0 203.1L530.1 200.9L530.2 186.3L530.3 195.4L530.4 195.3L530.5 197.1" stroke="#008000" stroke-dasharray="5.5 3.2 1.2 3.2"/>
<path d="M65.5 140.0L65.5 185.0L65.6 196.2L65.8 180.7L65.9 203.5L66.1 187.7L66.2 191.4L66.4 181.9L66.5 207.9L66.7 240.5L66.8 194.7L67.0 214.3L67.1 235.6L67.2 248.0L67.4 183.2L67.5 251.6L67.7 218.2L67.8 220.2L68.0 205.5L68.1 210.8L68.3 229.4L68.4 242.8L68.6 237.5L68.7 212.3L68.8 229.5L69.0 217.6L69.1 221.3L69.3 202.2L69.4 233.0L69.6 205.7L69.7 222.4L69.9 228.7L70.0 240.4L70.2 227.2L70.3 268.5L70.4 219.9L70.6 238.4L70.7 253.0L70.9 229.4L71.0 214.3L71.2 222.0L71.3 221.8L71.5 233.4L71.6 225.2L71.8 236.8L71.9 219.6L72.0 216.1L72.2 215.1L72.3 213.8L72.5 216.7L72.6 249.1L72.8 237.5L72.9 226.4L73.1 230.2L73.2 227.6L73.3 226.0L73.5 207.6L73.6 227.3L73.8 245.9L73.9 232.0L74.1 233.5L74.2 219.2L74.4 253.6L74.5 256.9L74.7 249.7L74.8 242.5L74.9 235.8L75.1 241.0L75.2 254.4L75.4 267.9L75.5 264.4L75.7 260.2L75.8 261.9L76.0 249.8L76.1 255.3L76.3 257.8L76.4 253.9L76.5 256.6L76.7 252.9L76.8 249.4L77.0 255.3L77.1 264.9L77.3 271.4L77.4 253.2L77.6 291.5L77.7 258.1L77.9 262.9L78.0 273.3L78.1 273.4L78.3 273.1L78.4 267.3L78.6 266.3L78.7 277.1L78.9 277.6L79.0 273.0L79.2 273.4L79.3 280.4L79.5 273.5L79.6 277.0L79.7 299.9L79.9 267.5L80.0 279.7L80.2 265.2L80.3 263.0L80.5 267.0L80.6 261.3L80.8 257.4L80.9 262.0L81.1 278.9L81.2 275.1L81.3 274.8L81.5 271.2L81.6 282.1L81.8 274.4L81.9 274.7L82.1 275.7L82.2 276.3L82.4 268.6L82.5 272.3L82.7 279.9L82.8 278.2L82.9 281.6L83.1 276.7L83.2 273.0L83.4 275.4L83.5 266.6L83.7 283.8L83.8 283.2L84.0 279.4L84.1 274.6L84.3 290.2L84.4 280.5L84.5 273.5L84.7 286.8L84.8 287.3L85.0 278.0L85.1 289.9L85.3 271.4L85.4 273.5L85.6 273.3L85.7 279.4L85.9 272.5L86.0 274.5L86.1 279.5L86.3 277.5L86.4 281.6L86.6 282.6L86.7 290.8L86.9 289.0L87.0 291.5L87.2 287.6L87.3 284.3L87.4 287.4L87.6 287.8L87.7 295.0L87.9 278.7L88.0 281.4L88.2 285.4L88.3 282.4L88.5 279.3L88.6 286.4L88.8 288.0L88.9 281.9L89.0 277.9L89.2 282.7L89.3 283.2L89.5 296.7L89.6 292.9L89.8 279.8L89.9 293.7L90.1 296.0L90.2 299.2L90.4 293.5L90.5 289.5L90.6 287.7L90.8 292.5L90.9 290.9L91.1 282.7L91.2 288.6L91.4 283.1L91.5 289.0L91.7 288.8L91.8 293.6L92.0 280.3L92.1 288.8L92.2 289.7L92.4 294.7L92.5 293.8L92.7 293.3L92.8 290.6L93.0 303.3L93.1 292.4L93.3 284.8L93.4 287.8L93.6 289.0L93.7 287.7L93.8 289.6L94.0 290.5L94.1 290.2L94.3 299.8L94.4 295.1L94.6 294.3L94.7 294.6L94.9 301.7L95.0 290.5L95.2 293.5L95.3 283.1L95.4 287.0L95.6 295.0L95.7 291.6L95.9 290.9L96.0 294.0L96.2 302.5L96.3 298.1L96.5 294.9L96.6 295.7L96.8 292.9L96.9 292.1L97.0 293.6L97.2 292.0L97.3 292.7L97.5 297.7L97.6 293.7L97.8 291.0L97.9 297.2L98.1 294.9L98.2 293.4L98.4 294.9L98.5 300.3L98.6 306.5L98.8 304.2L98.9 300.4L99.1 294.0L99.2 296.0L99.4 311.0L99.5 301.5L99.7 299.4L99.8 284.4L99.9 292.5L100.1 290.6L100.2 299.8L100.4 307.6L100.5 298.0L100.7 297.8L100.8 288.5L101.0 302.5L101.1 302.9L101.3 295.5L101.4 294.9L101.5 296.5L101.7 292.4L101.8 292.7L102.0 302.7L102.1 295.1L102.3 298.1L102.4 301.1L102.6 302.7L102.7 294.4L102.9 296.4L103.0 295.4L103.1 299.5L103.3 291.5L103.4 292.5L103.6 302.9L103.7 296.0L103.9 289.4L104.0 293.2L104.2 298.8L104.3 298.1L104.5 296.7L104.6 289.8L104.7 293.7L104.9 290.0L105.0 287.0L105.2 294.6L105.3 303.5L105.5 294.3L105.6 301.1L105.8 301.8L105.9 303.7L106.1 297.2L106.2 308.0L106.3 296.5L106.5 299.8L106.6 290.4L106.8 295.4L106.9 294.9L107.1 294.3L107.2 293.6L107.4 292.4L107.5 295.6L107.7 289.6L107.8 294.5L107.9 293.3L108.1 295.4L108.2 290.4L108.4 293.9L108.5 291.9L108.7 295.1L108.8 302.6L109.0 295.0L109.1 297.6L109.3 299.6L109.4 296.3L109.5 297.2L109.7 289.8L109.8 282.9L110.0 297.4L110.1 303.2L110.3 296.7L110.4 293.9L110.6 287.9L110.7 295.6L110.9 297.0L111.0 308.6L111.1 293.6L111.3 293.1L111.4 285.8L111.6 293.1L111.7 285.4L111.9 288.4L112.0 287.6L112.2 294.0L112.3 296.9L112.5 289.8L112.6 289.1L112.7 294.9L112.9 291.9L113.0 282.2L113.2 308.7L113.3 288.5L113.5 285.7L113.6 294.5L113.8 286.5L113.9 289.9L114.0 287.1L114.2 287.8L114.3 291.2L114.5 288.2L114.6 285.2L114.8 286.2L114.9 284.5L115.1 285.3L115.2 296.8L115.4 290.4L115.5 293.6L115.6 289.8L115.8 287.3L115.9 288.6L116.1 297.0L116.2 289.4L116.4 295.2L116.5 284.3L116.7 290.2L116.8 286.3L117.0 284.8L117.1 281.5L117.2 288.1L117.4 284.5L117.5 281.8L117.7 284.2L117.8 297.0L118.0 288.6L118.1 291.2L118.3 294.7L118.4 295.1L118.6 291.7L118.7 282.0L118.8 287.7L119.0 290.9L119.1 284.3L119.3 293.1L119.4 292.7L119.6 293.9L119.7 295.4L119.9 296.6L120.0 292.1L120.2 285.7L120.3 280.2L120.4 287.1L120.6 288.4L120.7 289.8L120.9 286.5L121.0 284.1L121.2 292.5L121.3 288.3L121.5 294.8L121.6 293.4L121.8 288.2L121.9 283.6L122.0 282.2L122.2 288.8L122.3 288.0L122.5 288.3L122.6 301.0L122.8 288.1L122.9 293.9L123.1 295.2L123.2 291.1L123.4 292.2L123.5 290.8L123.6 290.0L123.8 291.1L123.9 284.7L124.1 283.7L124.2 286.6L124.4 297.9L124.5 286.5L124.7 281.2L124.8 279.3L125.0 287.1L125.1 283.1L125.2 285.9L125.4 290.6L125.5 287.9L125.7 280.9L125.8 286.8L126.0 285.8L126.1 286.6L126.3 291.0L126.4 299.2L126.6 284.0L126.7 282.9L126.8 284.5L127.0 288.6L127.1 291.9L127.3 292.5L127.4 289.5L127.6 287.9L127.7 282.0L127.9 280.7L128.0 279.0L128.1 281.2L128.3 279.3L128.4 271.6L128.6 279.2L128.7 281.1L128.9 282.9L129.0 282.8L129.2 284.6L129.3 279.1L129.5 283.3L129.6 279.4L129.7 287.0L129.9 287.6L130.0 281.6L130.2 277.9L130.3 278.9L130.5 281.9L130.6 273.4L130.8 281.1L130.9 272.5L131.1 279.5L131.2 279.7L131.3 282.2L131.5 283.4L131.6 284.2L131.8 278.5L131.9 281.7L132.1 280.6L132.2 271.1L132.4 277.1L132.5 278.5L132.7 276.3L132.8 273.6L132.9 269.2L133.1 270.8L133.2 269.6L133.4 277.5L133.5 272.4L133.7 277.3L133.8 277.1L134.0 273.9L134.1 273.6L134.3 275.3L134.4 269.4L134.5 268.0L134.7 269.8L134.8 264.0L135.0 266.5L135.1 267.6L135.3 266.3L135.4 270.0L135.6 272.0L135.7 252.5L135.9 269.6L136.0 270.6L136.1 273.4L136.3 264.2L136.4 270.8L136.6 262.0L136.7 263.5L136.9 262.0L137.0 272.1L137.2 260.8L137.3 262.2L137.5 273.0L137.6 262.4L137.7 265.5L137.9 267.5L138.0 265.8L138.2 271.0L138.3 272.4L138.5 277.7L138.6 280.8L138.8 273.5L138.9 265.3L139.1 272.4L139.2 260.8L139.3 274.4L139.5 275.6L139.6 275.0L139.8 271.7L139.9 275.8L140.1 273.4L140.2 272.2L140.4 265.6L140.5 283.5L140.7 290.9L140.8 280.3L140.9 287.2L141.1 278.7L141.2 279.8L141.4 285.9L141.5 288.4L141.7 283.7L141.8 296.0L142.0 294.2L142.1 292.1L142.2 293.6L142.4 290.4L142.5 284.4L142.7 278.3L142.8 286.8L143.0 287.8L143.1 285.2L143.3 289.8L143.4 291.0L143.6 282.6L143.7 289.2L143.8 286.5L144.0 296.7L144.1 300.5L144.3 289.3L144.4 293.1L144.6 297.3L144.7 302.7L144.9 306.7L145.0 309.3L145.2 307.4L145.3 304.0L145.4 292.6L145.6 305.2L145.7 307.8L145.9 297.1L146.0 294.6L146.2 290.4L146.3 297.3L146.5 299.1L146.6 288.0L146.8 300.4L146.9 293.5L147.0 296.3L147.2 293.4L147.3 304.3L147.5 303.3L147.6 299.2L147.8 303.4L147.9 303.6L148.1 296.1L148.2 289.8L148.4 295.3L148.5 297.3L148.6 294.8L148.8 299.8L148.9 296.7L149.1 298.3L149.2 300.2L149.4 283.7L149.5 300.7L149.7 299.2L149.8 307.8L150.0 309.5L150.1 307.4L150.2 304.2L150.4 295.7L150.5 290.2L150.7 294.8L150.8 295.5L151.0 291.3L151.1 293.7L151.3 295.7L151.4 299.9L151.6 297.0L151.7 294.5L151.8 293.8L152.0 292.8L152.1 297.5L152.3 298.9L152.4 298.5L152.6 301.8L152.7 296.1L152.9 303.4L153.0 299.4L153.2 293.4L153.3 298.1L153.4 293.5L153.6 303.9L153.7 299.5L153.9 294.4L154.0 287.5L154.2 293.4L154.3 303.0L154.5 285.9L154.6 300.1L154.7 295.0L154.9 303.1L155.0 294.8L155.2 290.5L155.3 288.6L155.5 293.5L155.6 291.5L155.8 292.0L155.9 287.6L156.1 279.9L156.2 281.2L156.3 284.5L156.5 277.4L156.6 279.0L156.8 277.8L156.9 280.3L157.1 281.6L157.2 276.8L157.4 284.4L157.5 275.9L157.7 275.9L157.8 272.5L157.9 273.3L158.1 277.9L158.2 278.3L158.4 277.7L158.5 278.4L158.7 280.1L158.8 279.4L159.0 281.1L159.1 271.9L159.3 284.9L159.4 282.8L159.5 288.3L159.7 281.6L159.8 279.5L160.0 280.6L160.1 277.7L160.3 282.3L160.4 287.9L160.6 284.4L160.7 284.6L160.9 277.8L161.0 287.3L161.1 283.9L161.3 283.9L161.4 283.2L161.6 284.7L161.7 289.6L161.9 290.4L162.0 285.5L162.2 283.5L162.3 289.6L162.5 288.0L162.6 288.5L162.7 279.7L162.9 288.1L163.0 286.4L163.2 284.2L163.3 280.0L163.5 280.2L163.6 282.2L163.8 290.4L163.9 289.2L164.1 284.9L164.2 288.0L164.3 284.4L164.5 288.9L164.6 290.7L164.8 285.2L164.9 285.6L165.1 283.7L165.2 283.7L165.4 289.8L165.5 294.5L165.7 294.3L165.8 292.6L165.9 289.9L166.1 293.3L166.2 295.1L166.4 289.2L166.5 286.0L166.7 288.9L166.8 290.6L167.0 294.6L167.1 293.8L167.3 295.4L167.4 291.2L167.5 292.2L167.7 295.4L167.8 292.6L168.0 294.1L168.1 295.8L168.3 297.2L168.4 296.9L168.6 299.1L168.7 297.6L168.8 289.2L169.0 297.6L169.1 296.3L169.3 307.2L169.4 293.8L169.6 295.7L169.7 297.0L169.9 291.8L170.0 296.2L170.2 288.7L170.3 289.3L170.4 294.5L170.6 290.4L170.7 294.1L170.9 293.3L171.0 295.7L171.2 300.1L171.3 300.9L171.5 300.9L171.6 302.4L171.8 300.0L171.9 305.0L172.0 303.2L172.2 296.7L172.3 294.8L172.5 294.6L172.6 295.1L172.8 297.3L172.9 299.4L173.1 296.5L173.2 313.4L173.4 302.4L173.5 300.8L173.6 304.1L173.8 292.0L173.9 296.3L174.1 298.0L174.2 294.8L174.4 300.9L174.5 298.4L174.7 293.7L174.8 306.6L175.0 296.6L175.1 300.2L175.2 303.0L175.4 298.5L175.5 305.1L175.7 298.3L175.8 299.7L176.0 296.8L176.1 304.2L176.3 299.4L176.4 307.3L176.6 306.0L176.7 302.8L176.8 304.8L177.0 303.9L177.1 300.0L177.3 298.1L177.4 300.2L177.6 298.4L177.7 302.2L177.9 299.8L178.0 301.1L178.2 302.8L178.3 311.0L178.4 306.3L178.6 295.9L178.7 304.4L178.9 305.0L179.0 302.7L179.2 301.0L179.3 299.9L179.5 306.1L179.6 311.1L179.8 311.2L179.9 308.6L180.0 303.4L180.2 298.8L180.3 301.2L180.5 309.9L180.6 314.2L180.8 318.2L180.9 306.2L181.1 304.6L181.2 308.5L181.4 306.6L181.5 302.7L181.6 301.6L181.8 305.6L181.9 309.6L182.1 302.5L182.2 306.8L182.4 305.1L182.5 307.9L182.7 307.9L182.8 307.8L182.9 304.2L183.1 306.1L183.2 321.4L183.4 314.9L183.5 305.8L183.7 313.2L183.8 311.0L184.0 315.2L184.1 304.1L184.3 311.0L184.4 313.7L184.5 318.3L184.7 314.6L184.8 313.9L185.0 314.7L185.1 316.5L185.3 312.1L185.4 309.2L185.6 319.2L185.7 314.3L185.9 315.3L186.0 314.2L186.1 314.5L186.3 315.8L186.4 330.2L186.6 315.8L186.7 323.4L186.9 317.3L187.0 311.9L187.2 313.8L187.3 308.0L187.5 307.9L187.6 308.0L187.7 315.3L187.9 318.3L188.0 310.2L188.2 317.9L188.3 309.5L188.5 317.2L188.6 319.5L188.8 321.5L188.9 329.2L189.1 313.5L189.2 315.6L189.3 318.5L189.5 335.6L189.6 320.5L189.8 323.1L189.9 317.0L190.1 319.7L190.2 314.4L190.4 330.1L190.5 320.2L190.7 318.5L190.8 322.5L190.9 318.1L191.1 320.2L191.2 317.0L191.4 313.7L191.5 316.3L191.7 308.3L191.8 313.2L192.0 327.5L192.1 319.0L192.3 319.6L192.4 317.8L192.5 335.4L192.7 328.3L192.8 321.7L193.0 316.2L193.1 312.1L193.3 317.1L193.4 314.5L193.6 330.9L193.7 316.9L193.9 320.6L194.0 318.6L194.1 320.2L194.3 315.8L194.4 308.9L194.6 315.3L194.7 318.5L194.9 320.4L195.0 318.7L195.2 312.4L195.3 313.2L195.4 312.0L195.6 316.8L195.7 316.5L195.9 320.1L196.0 315.2L196.2 323.3L196.3 309.9L196.5 314.3L196.6 318.8L196.8 320.1L196.9 318.0L197.0 316.6L197.2 314.0L197.3 324.8L197.5 306.8L197.6 321.8L197.8 308.5L197.9 311.3L198.1 315.8L198.2 309.9L198.4 308.2L198.5 322.9L198.6 309.9L198.8 307.4L198.9 306.9L199.1 313.9L199.2 304.9L199.4 304.1L199.5 305.9L199.7 309.9L199.8 306.4L200.0 304.1L200.1 297.7L200.2 305.4L200.4 307.2L200.5 306.0L200.7 301.5L200.8 303.1L201.0 301.0L201.1 301.3L201.3 299.4L201.4 296.7L201.6 290.1L201.7 304.7L201.8 298.2L202.0 300.0L202.1 295.9L202.3 292.3L202.4 298.0L202.6 294.2L202.7 297.8L202.9 299.9L203.0 298.8L203.2 298.0L203.3 290.7L203.4 293.6L203.6 295.1L203.7 300.1L203.9 293.3L204.0 294.2L204.2 289.9L204.3 295.8L204.5 291.5L204.6 297.1L204.8 294.1L204.9 294.4L205.0 289.2L205.2 288.1L205.3 293.6L205.5 295.1L205.6 296.2L205.8 288.1L205.9 288.0L206.1 285.8L206.2 288.4L206.4 286.7L206.5 277.9L206.6 297.7L206.8 284.3L206.9 286.0L207.1 294.3L207.2 286.4L207.4 289.2L207.5 284.7L207.7 293.0L207.8 279.3L208.0 280.6L208.1 278.6L208.2 282.1L208.4 275.8L208.5 282.8L208.7 283.7L208.8 279.1L209.0 292.1L209.1 286.6L209.3 288.5L209.4 285.1L209.5 287.9L209.7 286.8L209.8 277.0L210.0 280.0L210.1 281.2L210.3 278.0L210.4 293.3L210.6 282.4L210.7 286.7L210.9 285.3L211.0 292.6L211.1 291.6L211.3 288.2L211.4 283.8L211.6 286.1L211.7 286.5L211.9 284.8L212.0 281.1L212.2 287.6L212.3 290.9L212.5 296.1L212.6 292.5L212.7 286.7L212.9 290.9L213.0 283.0L213.2 285.3L213.3 290.5L213.5 285.9L213.6 289.9L213.8 288.6L213.9 301.0L214.1 294.1L214.2 286.3L214.3 300.1L214.5 288.0L214.6 292.7L214.8 302.2L214.9 293.7L215.1 291.9L215.2 301.9L215.4 298.9L215.5 304.6L215.7 293.3L215.8 293.6L215.9 306.5L216.1 300.8L216.2 304.9L216.4 307.0L216.5 306.1L216.7 302.0L216.8 292.3L217.0 301.0L217.1 295.7L217.3 297.6L217.4 298.5L217.5 302.6L217.7 313.7L217.8 302.3L218.0 301.8L218.1 314.0L218.3 299.5L218.4 303.0L218.6 305.8L218.7 301.1L218.9 310.8L219.0 309.1L219.1 322.2L219.3 306.9L219.4 304.8L219.6 316.8L219.7 311.9L219.9 314.4L220.0 318.0L220.2 323.2L220.3 319.2L220.5 306.5L220.6 304.4L220.7 309.1L220.9 312.0L221.0 305.2L221.2 311.0L221.3 309.0L221.5 318.8L221.6 313.8L221.8 316.7L221.9 318.3L222.1 320.2L222.2 314.6L222.3 310.1L222.5 310.0L222.6 309.8L222.8 311.1L222.9 313.4L223.1 306.1L223.2 320.8L223.4 317.1L223.5 321.3L223.6 314.8L223.8 309.1L223.9 309.2L224.1 323.2L224.2 320.8L224.4 310.7L224.5 314.6L224.7 312.5L224.8 316.7L225.0 310.1L225.1 317.5L225.2 319.4L225.4 322.4L225.5 316.6L225.7 319.7L225.8 318.2L226.0 315.2L226.1 311.8L226.3 327.6L226.4 322.2L226.6 316.5L226.7 317.6L226.8 316.9L227.0 316.2L227.1 315.2L227.3 310.5L227.4 311.6L227.6 317.9L227.7 310.3L227.9 320.2L228.0 312.9L228.2 324.4L228.3 318.2L228.4 319.3L228.6 317.9L228.7 313.3L228.9 310.1L229.0 316.7L229.2 306.7L229.3 314.9L229.5 323.7L229.6 323.7L229.8 319.6L229.9 310.8L230.0 312.0L230.2 318.5L230.3 325.3L230.5 324.6L230.6 322.0L230.8 319.0L230.9 322.7L231.1 319.6L231.2 327.2L231.4 319.1L231.5 318.8L231.6 320.8L231.8 320.2L231.9 323.9L232.1 316.2L232.2 318.8L232.4 318.8L232.5 315.0L232.7 315.0L232.8 322.2L233.0 317.7L233.1 315.3L233.2 320.2L233.4 315.5L233.5 324.7L233.7 316.4L233.8 321.0L234.0 332.5L234.1 325.1L234.3 314.3L234.4 323.4L234.6 314.7L234.7 312.5L234.8 315.2L235.0 319.9L235.1 319.3L235.3 320.3L235.4 326.8L235.6 322.8L235.7 321.9L235.9 315.7L236.0 316.0L236.2 322.3L236.3 321.3L236.4 320.5L236.6 324.4L236.7 327.1L236.9 324.3L237.0 321.1L237.2 327.4L237.3 322.0L237.5 326.1L237.6 329.7L237.7 314.4L237.9 320.2L238.0 320.0L238.2 317.9L238.3 315.3L238.5 319.1L238.6 319.8L238.8 315.2L238.9 316.6L239.1 316.7L239.2 319.9L239.3 322.3L239.5 321.4L239.6 318.6L239.8 321.4L239.9 313.6L240.1 323.5L240.2 320.4L240.4 323.0L240.5 321.5L240.7 318.8L240.8 317.0L240.9 322.4L241.1 320.8L241.2 322.1L241.4 314.2L241.5 322.8L241.7 329.0L241.8 318.6L242.0 315.6L242.1 321.1L242.3 321.6L242.4 320.4L242.5 324.8L242.7 324.0L242.8 324.9L243.0 327.6L243.1 327.5L243.3 321.2L243.4 321.4L243.6 320.1L243.7 318.6L243.9 319.2L244.0 322.4L244.1 321.0L244.3 325.1L244.4 323.7L244.6 318.5L244.7 317.6L244.9 320.8L245.0 325.4L245.2 326.2L245.3 325.9L245.5 329.0L245.6 331.0L245.7 332.2L245.9 330.3L246.0 328.9L246.2 331.3L246.3 325.6L246.5 316.3L246.6 331.1L246.8 320.8L246.9 324.6L247.1 329.8L247.2 323.4L247.3 321.3L247.5 322.9L247.6 320.7L247.8 316.5L247.9 320.5L248.1 318.4L248.2 319.4L248.4 325.2L248.5 326.8L248.7 326.4L248.8 323.7L248.9 328.7L249.1 322.6L249.2 326.8L249.4 325.9L249.5 315.9L249.7 318.5L249.8 319.4L250.0 319.6L250.1 321.0L250.2 322.8L250.4 332.2L250.5 317.7L250.7 325.2L250.8 322.3L251.0 315.5L251.1 321.5L251.3 325.7L251.4 324.8L251.6 321.3L251.7 320.8L251.8 319.4L252.0 320.6L252.1 317.5L252.3 324.6L252.4 315.8L252.6 315.9L252.7 324.1L252.9 324.9L253.0 328.5L253.2 320.5L253.3 315.4L253.4 320.9L253.6 319.2L253.7 324.8L253.9 323.0L254.0 325.3L254.2 321.2L254.3 321.8L254.5 323.6L254.6 325.4L254.8 325.3L254.9 334.8L255.0 326.8L255.2 323.7L255.3 320.9L255.5 322.5L255.6 319.9L255.8 315.0L255.9 321.3L256.1 323.2L256.2 326.5L256.4 326.5L256.5 320.3L256.6 325.5L256.8 322.9L256.9 320.0L257.1 325.7L257.2 319.9L257.4 325.8L257.5 327.3L257.7 315.8L257.8 319.1L258.0 315.0L258.1 314.5L258.2 323.3L258.4 323.3L258.5 320.3L258.7 321.1L258.8 315.4L259.0 314.7L259.1 313.5L259.3 321.4L259.4 318.1L259.6 319.0L259.7 314.0L259.8 315.8L260.0 313.8L260.1 316.8L260.3 321.7L260.4 320.2L260.6 315.4L260.7 315.6L260.9 318.9L261.0 323.0L261.2 316.7L261.3 316.7L261.4 316.2L261.6 313.8L261.7 313.5L261.9 315.3L262.0 313.1L262.2 315.1L262.3 323.1L262.5 318.1L262.6 315.4L262.8 316.0L262.9 317.7L263.0 323.3L263.2 315.3L263.3 311.9L263.5 307.1L263.6 311.0L263.8 312.9L263.9 308.5L264.1 309.3L264.2 317.4L264.3 314.0L264.5 314.6L264.6 311.0L264.8 313.6L264.9 313.3L265.1 320.9L265.2 311.9L265.4 306.5L265.5 312.0L265.7 316.5L265.8 304.9L265.9 315.1L266.1 312.3L266.2 324.2L266.4 318.2L266.5 309.8L266.7 315.3L266.8 312.7L267.0 316.9L267.1 315.7L267.3 326.6L267.4 314.7L267.5 318.2L267.7 319.2L267.8 309.0L268.0 313.6L268.1 315.7L268.3 317.9L268.4 314.3L268.6 313.1L268.7 320.8L268.9 319.7L269.0 312.4L269.1 318.1L269.3 313.7L269.4 310.0L269.6 311.1L269.7 310.7L269.9 313.8L270.0 301.7L270.2 313.1L270.3 317.6L270.5 320.5L270.6 319.9L270.7 313.4L270.9 314.0L271.0 316.7L271.2 313.7L271.3 315.6L271.5 314.2L271.6 318.8L271.8 316.3L271.9 322.2L272.1 316.6L272.2 313.4L272.3 312.4L272.5 314.8L272.6 314.5L272.8 318.9L272.9 313.4L273.1 315.6L273.2 308.8L273.4 312.3L273.5 312.3L273.7 313.6L273.8 315.6L273.9 312.5L274.1 312.0L274.2 308.0L274.4 311.3L274.5 314.0L274.7 307.0L274.8 319.8L275.0 312.1L275.1 312.4L275.3 310.3L275.4 316.4L275.5 319.7L275.7 315.5L275.8 306.0L276.0 317.4L276.1 313.6L276.3 309.6L276.4 313.5L276.6 308.4L276.7 318.6L276.9 312.7L277.0 309.7L277.1 311.3L277.3 317.5L277.4 312.9L277.6 322.1L277.7 313.8L277.9 311.0L278.0 312.2L278.2 317.2L278.3 317.7L278.4 315.1L278.6 315.2L278.7 306.1L278.9 310.4L279.0 309.6L279.2 307.7L279.3 312.6L279.5 310.9L279.6 315.8L279.8 308.6L279.9 309.3L280.0 310.7L280.2 313.4L280.3 310.5L280.5 312.3L280.6 311.5L280.8 310.1L280.9 306.9L281.1 305.4L281.2 316.4L281.4 317.0L281.5 313.9L281.6 313.4L281.8 312.8L281.9 310.3L282.1 306.6L282.2 310.7L282.4 307.9L282.5 313.0L282.7 309.5L282.8 310.4L283.0 308.3L283.1 306.3L283.2 305.6L283.4 309.0L283.5 310.4L283.7 307.6L283.8 309.7L284.0 312.0L284.1 309.2L284.3 307.5L284.4 307.5L284.6 312.9L284.7 309.4L284.8 309.8L285.0 303.2L285.1 307.5L285.3 309.6L285.4 303.9L285.6 304.7L285.7 310.4L285.9 306.8L286.0 310.8L286.2 312.7L286.3 308.8L286.4 303.7L286.6 300.4L286.7 302.5L286.9 307.9L287.0 313.8L287.2 309.8L287.3 309.4L287.5 307.1L287.6 306.7L287.8 309.3L287.9 306.6L288.0 304.3L288.2 308.7L288.3 310.4L288.5 310.7L288.6 309.7L288.8 312.2L288.9 313.4L289.1 312.6L289.2 310.7L289.4 312.4L289.5 314.9L289.6 301.9L289.8 305.3L289.9 307.4L290.1 307.4L290.2 307.3L290.4 311.3L290.5 305.4L290.7 305.0L290.8 305.5L291.0 309.9L291.1 309.4L291.2 311.1L291.4 309.6L291.5 310.6L291.7 310.5L291.8 314.7L292.0 321.4L292.1 315.8L292.3 309.5L292.4 308.2L292.5 310.7L292.7 303.5L292.8 305.3L293.0 308.5L293.1 304.9L293.3 305.9L293.4 313.8L293.6 307.4L293.7 305.4L293.9 320.2L294.0 305.6L294.1 311.2L294.3 310.6L294.4 304.6L294.6 309.9L294.7 308.6L294.9 317.0L295.0 314.3L295.2 307.0L295.3 309.0L295.5 309.8L295.6 308.2L295.7 300.1L295.9 306.4L296.0 304.0L296.2 310.0L296.3 306.1L296.5 309.6L296.6 310.9L296.8 315.7L296.9 311.9L297.1 309.3L297.2 325.2L297.3 311.9L297.5 314.3L297.6 311.9L297.8 308.6L297.9 308.6L298.1 308.0L298.2 310.3L298.4 302.1L298.5 313.7L298.7 319.8L298.8 314.4L298.9 314.7L299.1 311.4L299.2 311.6L299.4 317.0L299.5 309.6L299.7 317.6L299.8 294.7L300.0 271.0L300.1 310.4L300.3 283.8L300.4 307.0L300.5 313.4L300.7 304.3L300.8 304.3L301.0 306.9L301.1 320.7L301.3 309.1L301.4 315.8L301.6 313.1L301.7 311.9L301.9 311.7L302.0 304.0L302.1 303.0L302.3 320.3L302.4 312.4L302.6 306.6L302.7 311.7L302.9 314.5L303.0 314.4L303.2 313.3L303.3 312.9L303.5 321.1L303.6 312.7L303.7 309.3L303.9 309.7L304.0 311.2L304.2 313.3L304.3 310.0L304.5 316.7L304.6 314.6L304.8 317.6L304.9 322.0L305.0 313.4L305.2 319.3L305.3 319.8L305.5 317.5L305.6 317.1L305.8 319.9L305.9 312.0L306.1 313.3L306.2 317.0L306.4 324.3L306.5 309.3L306.6 310.7L306.8 317.3L306.9 316.9L307.1 313.6L307.2 312.3L307.4 318.2L307.5 317.6L307.7 313.1L307.8 318.0L308.0 314.4L308.1 302.4L308.2 305.9L308.4 307.5L308.5 307.6L308.7 307.7L308.8 310.0L309.0 305.8L309.1 306.5L309.3 312.0L309.4 310.8L309.6 304.0L309.7 310.1L309.8 316.4L310.0 314.8L310.1 314.9L310.3 312.4L310.4 305.8L310.6 302.2L310.7 314.7L310.9 320.4L311.0 307.8L311.2 310.1L311.3 313.0L311.4 314.6L311.6 309.9L311.7 310.9L311.9 310.1L312.0 308.7L312.2 309.7L312.3 312.1L312.5 313.2L312.6 309.3L312.8 310.1L312.9 309.8L313.0 312.7L313.2 300.2L313.3 306.8L313.5 307.0L313.6 303.6L313.8 304.4L313.9 309.7L314.1 305.4L314.2 316.6L314.4 306.7L314.5 306.2L314.6 309.8L314.8 308.4L314.9 306.7L315.1 307.4L315.2 308.2L315.4 301.3L315.5 306.9L315.7 307.5L315.8 309.1L316.0 308.8L316.1 301.4L316.2 301.8L316.4 301.6L316.5 302.1L316.7 310.1L316.8 298.9L317.0 309.2L317.1 302.0L317.3 304.0L317.4 303.7L317.6 300.1L317.7 303.2L317.8 301.8L318.0 298.6L318.1 301.7L318.3 297.2L318.4 309.5L318.6 303.8L318.7 301.7L318.9 302.0L319.0 299.4L319.1 302.4L319.3 314.8L319.4 303.1L319.6 303.5L319.7 299.7L319.9 299.8L320.0 300.0L320.2 296.5L320.3 295.5L320.5 300.1L320.6 296.4L320.7 299.5L320.9 301.2L321.0 294.9L321.2 299.9L321.3 300.0L321.5 297.4L321.6 297.7L321.8 302.6L321.9 306.5L322.1 294.2L322.2 295.1L322.3 295.0L322.5 293.5L322.6 303.6L322.8 296.9L322.9 303.5L323.1 298.4L323.2 302.4L323.4 302.3L323.5 303.9L323.7 307.3L323.8 309.5L323.9 308.4L324.1 304.0L324.2 287.9L324.4 297.9L324.5 311.8L324.7 298.6L324.8 299.9L325.0 302.0L325.1 294.4L325.3 298.5L325.4 298.0L325.5 302.9L325.7 307.1L325.8 300.2L326.0 299.3L326.1 292.5L326.3 309.7L326.4 291.0L326.6 298.9L326.7 303.0L326.9 299.3L327.0 293.0L327.1 296.0L327.3 305.1L327.4 291.5L327.6 297.2L327.7 297.1L327.9 298.9L328.0 298.2L328.2 294.2L328.3 295.6L328.5 294.9L328.6 298.1L328.7 291.2L328.9 298.5L329.0 307.9L329.2 299.2L329.3 301.1L329.5 302.9L329.6 300.4L329.8 304.8L329.9 293.0L330.1 298.0L330.2 298.3L330.3 290.5L330.5 293.5L330.6 292.7L330.8 298.5L330.9 302.3L331.1 299.2L331.2 295.7L331.4 290.8L331.5 320.1L331.7 298.1L331.8 301.8L331.9 287.5L332.1 300.6L332.2 286.6L332.4 294.5L332.5 292.9L332.7 292.9L332.8 294.6L333.0 295.9L333.1 305.3L333.2 302.0L333.4 299.0L333.5 297.2L333.7 298.5L333.8 299.3L334.0 298.0L334.1 293.6L334.3 291.8L334.4 294.5L334.6 300.1L334.7 294.3L334.8 301.9L335.0 294.8L335.1 287.8L335.3 291.3L335.4 292.8L335.6 289.1L335.7 294.2L335.9 290.6L336.0 292.4L336.2 293.2L336.3 303.6L336.4 289.9L336.6 293.7L336.7 295.8L336.9 295.3L337.0 294.2L337.2 290.9L337.3 294.9L337.5 286.0L337.6 290.5L337.8 296.2L337.9 294.0L338.0 301.7L338.2 293.3L338.3 304.5L338.5 295.4L338.6 290.6L338.8 290.7L338.9 290.8L339.1 305.9L339.2 295.7L339.4 292.9L339.5 295.0L339.6 300.0L339.8 297.2L339.9 293.0L340.1 287.3L340.2 302.9L340.4 295.4L340.5 293.1L340.7 288.6L340.8 291.4L341.0 290.9L341.1 293.5L341.2 292.0L341.4 293.2L341.5 290.6L341.7 300.3L341.8 300.2L342.0 292.6L342.1 282.9L342.3 299.1L342.4 291.8L342.6 288.0L342.7 288.3L342.8 293.6L343.0 289.6L343.1 289.9L343.3 298.0L343.4 294.0L343.6 299.3L343.7 291.6L343.9 298.0L344.0 290.9L344.2 289.9L344.3 283.2L344.4 288.6L344.6 283.9L344.7 292.4L344.9 290.3L345.0 290.7L345.2 292.1L345.3 292.5L345.5 287.6L345.6 284.6L345.8 285.4L345.9 288.9L346.0 292.3L346.2 290.9L346.3 284.2L346.5 286.5L346.6 288.3L346.8 278.8L346.9 284.2L347.1 289.3L347.2 286.9L347.3 290.5L347.5 290.6L347.6 288.8L347.8 284.9L347.9 294.2L348.1 283.2L348.2 289.7L348.4 287.7L348.5 285.7L348.7 285.3L348.8 290.7L348.9 289.9L349.1 289.9L349.2 295.6L349.4 293.7L349.5 281.2L349.7 285.8L349.8 289.0L350.0 288.2L350.1 286.5L350.3 284.5L350.4 293.6L350.5 293.9L350.7 281.4L350.8 284.4L351.0 288.0L351.1 287.1L351.3 298.4L351.4 286.3L351.6 288.2L351.7 291.0L351.9 285.1L352.0 285.4L352.1 292.7L352.3 285.5L352.4 288.1L352.6 285.1L352.7 290.5L352.9 302.5L353.0 298.7L353.2 288.0L353.3 283.9L353.5 295.7L353.6 288.0L353.7 299.5L353.9 287.0L354.0 295.7L354.2 293.6L354.3 291.2L354.5 284.6L354.6 288.5L354.8 284.5L354.9 288.7L355.1 286.4L355.2 292.0L355.3 298.4L355.5 300.6L355.6 293.1L355.8 294.6L355.9 288.2L356.1 290.0L356.2 298.4L356.4 299.6L356.5 292.7L356.7 301.7L356.8 284.8L356.9 283.4L357.1 291.7L357.2 293.0L357.4 292.0L357.5 292.1L357.7 295.9L357.8 290.7L358.0 284.7L358.1 285.8L358.3 288.8L358.4 289.7L358.5 293.3L358.7 290.2L358.8 295.7L359.0 294.1L359.1 296.4L359.3 294.8L359.4 292.3L359.6 289.0L359.7 295.1L359.8 290.8L360.0 296.8L360.1 291.1L360.3 286.8L360.4 289.4L360.6 287.8L360.7 291.7L360.9 289.6L361.0 288.6L361.2 293.3L361.3 294.3L361.4 297.5L361.6 291.4L361.7 293.2L361.9 291.6L362.0 297.2L362.2 292.6L362.3 299.0L362.5 296.6L362.6 299.5L362.8 289.9L362.9 297.4L363.0 289.5L363.2 296.6L363.3 291.3L363.5 303.9L363.6 298.3L363.8 295.3L363.9 299.8L364.1 294.5L364.2 289.4L364.4 291.4L364.5 299.8L364.6 301.6L364.8 300.2L364.9 300.2L365.1 300.1L365.2 302.9L365.4 296.3L365.5 293.7L365.7 292.1L365.8 290.9L366.0 291.9L366.1 289.6L366.2 297.1L366.4 292.2L366.5 290.0L366.7 297.7L366.8 296.2L367.0 303.2L367.1 296.0L367.3 298.5L367.4 299.9L367.6 297.7L367.7 297.1L367.8 307.4L368.0 296.1L368.1 299.1L368.3 304.3L368.4 298.6L368.6 293.7L368.7 292.5L368.9 299.8L369.0 297.0L369.2 298.8L369.3 299.6L369.4 298.0L369.6 295.8L369.7 301.2L369.9 306.7L370.0 307.0L370.2 301.1L370.3 299.9L370.5 316.9L370.6 296.3L370.8 302.9L370.9 301.7L371.0 307.4L371.2 306.9L371.3 306.0L371.5 310.4L371.6 310.7L371.8 306.8L371.9 296.8L372.1 305.1L372.2 306.3L372.4 325.7L372.5 309.7L372.6 304.5L372.8 313.8L372.9 301.1L373.1 301.4L373.2 302.2L373.4 312.9L373.5 310.0L373.7 311.6L373.8 311.3L373.9 309.0L374.1 315.1L374.2 313.8L374.4 317.9L374.5 318.2L374.7 312.0L374.8 317.0L375.0 319.0L375.1 313.6L375.3 310.7L375.4 313.9L375.5 315.1L375.7 321.8L375.8 320.8L376.0 321.1L376.1 316.7L376.3 323.1L376.4 317.6L376.6 321.1L376.7 316.7L376.9 314.9L377.0 319.3L377.1 320.1L377.3 325.4L377.4 324.4L377.6 318.7L377.7 321.7L377.9 313.3L378.0 312.5L378.2 310.9L378.3 325.7L378.5 319.6L378.6 328.3L378.7 317.6L378.9 320.9L379.0 317.1L379.2 323.3L379.3 312.4L379.5 315.5L379.6 306.3L379.8 314.0L379.9 321.6L380.1 309.0L380.2 320.3L380.3 316.3L380.5 313.7L380.6 315.3L380.8 313.7L380.9 317.1L381.1 322.7L381.2 321.4L381.4 321.5L381.5 315.2L381.7 320.9L381.8 319.5L381.9 323.9L382.1 328.2L382.2 324.8L382.4 321.6L382.5 318.4L382.7 321.8L382.8 308.7L383.0 291.0L383.1 335.9L383.3 302.1L383.4 322.2L383.5 318.1L383.7 322.9L383.8 321.8L384.0 316.3L384.1 319.0L384.3 318.8L384.4 319.1L384.6 316.4L384.7 319.1L384.9 326.7L385.0 329.2L385.1 325.3L385.3 326.6L385.4 326.0L385.6 319.3L385.7 320.0L385.9 325.6L386.0 325.5L386.2 320.7L386.3 329.5L386.5 325.8L386.6 326.1L386.7 325.1L386.9 325.7L387.0 324.1L387.2 325.1L387.3 325.2L387.5 323.8L387.6 327.0L387.8 322.0L387.9 325.7L388.0 325.1L388.2 323.8L388.3 326.2L388.5 330.5L388.6 332.8L388.8 322.8L388.9 326.0L389.1 327.8L389.2 332.0L389.4 324.2L389.5 326.8L389.6 332.9L389.8 333.0L389.9 328.0L390.1 328.2L390.2 327.8L390.4 325.0L390.5 328.6L390.7 331.2L390.8 330.0L391.0 325.4L391.1 328.6L391.2 323.4L391.4 325.5L391.5 323.1L391.7 324.9L391.8 332.6L392.0 323.1L392.1 325.2L392.3 327.9L392.4 325.8L392.6 322.5L392.7 324.7L392.8 323.1L393.0 323.1L393.1 326.0L393.3 325.0L393.4 324.7L393.6 326.0L393.7 328.6L393.9 323.8L394.0 329.9L394.2 327.7L394.3 330.5L394.4 324.9L394.6 324.5L394.7 324.8L394.9 331.2L395.0 323.9L395.2 324.6L395.3 327.9L395.5 326.5L395.6 323.2L395.8 325.0L395.9 326.8L396.0 325.3L396.2 332.9L396.3 323.4L396.5 328.0L396.6 329.9L396.8 330.7L396.9 320.4L397.1 305.0L397.2 328.7L397.4 313.9L397.5 326.5L397.6 327.4L397.8 327.1L397.9 329.9L398.1 327.4L398.2 324.3L398.4 326.0L398.5 330.7L398.7 333.3L398.8 332.4L399.0 328.3L399.1 323.3L399.2 325.7L399.4 324.8L399.5 325.0L399.7 323.1L399.8 326.7L400.0 328.4L400.1 330.3L400.3 327.8L400.4 325.9L400.6 323.0L400.7 326.6L400.8 327.3L401.0 334.7L401.1 328.9L401.3 324.7L401.4 327.1L401.6 326.1L401.7 329.7L401.9 332.0L402.0 326.8L402.1 323.4L402.3 325.4L402.4 329.0L402.6 329.2L402.7 329.3L402.9 328.0L403.0 326.1L403.2 325.7L403.3 326.5L403.5 326.9L403.6 322.8L403.7 327.8L403.9 323.8L404.0 323.8L404.2 324.4L404.3 326.9L404.5 328.6L404.6 331.6L404.8 327.4L404.9 322.4L405.1 324.0L405.2 326.6L405.3 330.7L405.5 328.4L405.6 331.7L405.8 328.0L405.9 329.4L406.1 327.4L406.2 332.1L406.4 335.5L406.5 320.9L406.7 325.7L406.8 328.0L406.9 325.9L407.1 330.1L407.2 336.0L407.4 322.1L407.5 324.9L407.7 333.4L407.8 329.3L408.0 328.3L408.1 318.9L408.3 325.8L408.4 327.6L408.5 324.3L408.7 325.7L408.8 327.1L409.0 320.4L409.1 321.2L409.3 326.6L409.4 326.4L409.6 327.9L409.7 324.0L409.9 321.2L410.0 323.3L410.1 322.9L410.3 328.3L410.4 323.9L410.6 326.1L410.7 326.2L410.9 327.5L411.0 324.6L411.2 326.8L411.3 329.2L411.5 327.3L411.6 326.8L411.7 328.6L411.9 327.0L412.0 328.6L412.2 329.5L412.3 331.9L412.5 335.2L412.6 329.3L412.8 327.1L412.9 309.9L413.1 278.0L413.2 327.9L413.3 295.2L413.5 328.2L413.6 331.0L413.8 332.7L413.9 332.3L414.1 335.1L414.2 334.4L414.4 327.9L414.5 325.0L414.6 330.5L414.8 327.9L414.9 327.3L415.1 331.2L415.2 330.7L415.4 330.9L415.5 331.3L415.7 331.7L415.8 329.1L416.0 326.2L416.1 332.6L416.2 329.6L416.4 334.5L416.5 324.9L416.7 333.1L416.8 330.5L417.0 332.4L417.1 335.0L417.3 328.3L417.4 328.5L417.6 325.8L417.7 323.5L417.8 326.5L418.0 331.0L418.1 328.1L418.3 328.3L418.4 321.7L418.6 321.9L418.7 328.2L418.9 327.9L419.0 320.6L419.2 325.9L419.3 331.2L419.4 328.7L419.6 330.1L419.7 329.5L419.9 330.9L420.0 329.2L420.2 321.0L420.3 328.0L420.5 323.3L420.6 327.2L420.8 328.7L420.9 322.8L421.0 327.1L421.2 325.9L421.3 328.8L421.5 328.4L421.6 326.5L421.8 329.7L421.9 330.0L422.1 322.3L422.2 328.4L422.4 327.1L422.5 332.2L422.6 329.3L422.8 333.6L422.9 328.9L423.1 328.8L423.2 326.9L423.4 333.7L423.5 331.7L423.7 333.8L423.8 337.2L424.0 326.4L424.1 328.0L424.2 332.3L424.4 330.0L424.5 330.8L424.7 338.8L424.8 330.7L425.0 329.9L425.1 335.2L425.3 331.7L425.4 325.1L425.6 327.0L425.7 326.7L425.8 327.0L426.0 324.9L426.1 327.7L426.3 328.4L426.4 332.4L426.6 333.1L426.7 333.6L426.9 336.1L427.0 326.9L427.2 328.1L427.3 335.8L427.4 327.2L427.6 324.0L427.7 326.4L427.9 325.9L428.0 327.4L428.2 332.0L428.3 333.5L428.5 323.4L428.6 327.2L428.7 325.6L428.9 334.3L429.0 328.4L429.2 328.5L429.3 326.9L429.5 324.1L429.6 326.5L429.8 329.0L429.9 331.7L430.1 330.7L430.2 331.0L430.3 329.3L430.5 329.0L430.6 324.6L430.8 323.9L430.9 328.7L431.1 330.4L431.2 327.6L431.4 326.0L431.5 338.0L431.7 329.2L431.8 332.9L431.9 330.1L432.1 327.6L432.2 332.2L432.4 330.4L432.5 327.4L432.7 323.3L432.8 329.1L433.0 328.6L433.1 334.1L433.3 323.1L433.4 328.9L433.5 328.6L433.7 331.2L433.8 333.5L434.0 341.6L434.1 326.5L434.3 332.7L434.4 333.1L434.6 330.7L434.7 328.8L434.9 326.7L435.0 326.6L435.1 327.3L435.3 323.1L435.4 328.7L435.6 323.3L435.7 325.8L435.9 331.3L436.0 340.0L436.2 333.6L436.3 323.6L436.5 317.0L436.6 329.2L436.7 334.4L436.9 328.1L437.0 318.1L437.2 330.0L437.3 327.9L437.5 331.6L437.6 328.1L437.8 322.6L437.9 324.3L438.1 327.4L438.2 328.9L438.3 331.0L438.5 325.0L438.6 329.7L438.8 339.8L438.9 330.1L439.1 328.6L439.2 327.9L439.4 332.8L439.5 335.1L439.7 328.8L439.8 317.4L439.9 303.0L440.1 328.6L440.2 312.9L440.4 338.9L440.5 324.3L440.7 322.3L440.8 329.8L441.0 325.8L441.1 324.2L441.3 328.9L441.4 329.7L441.5 329.6L441.7 330.7L441.8 331.0L442.0 333.4L442.1 331.0L442.3 331.2L442.4 330.6L442.6 331.7L442.7 327.8L442.8 332.8L443.0 325.8L443.1 334.2L443.3 329.8L443.4 330.2L443.6 325.8L443.7 330.4L443.9 333.0L444.0 326.7L444.2 332.2L444.3 328.7L444.4 326.7L444.6 330.3L444.7 327.8L444.9 328.3L445.0 322.0L445.2 329.5L445.3 333.3L445.5 332.2L445.6 331.2L445.8 331.5L445.9 327.1L446.0 327.0L446.2 328.8L446.3 332.8L446.5 329.1L446.6 332.9L446.8 328.9L446.9 324.2L447.1 326.2L447.2 329.8L447.4 330.0L447.5 324.7L447.6 324.9L447.8 323.5L447.9 329.3L448.1 325.8L448.2 326.9L448.4 330.5L448.5 324.3L448.7 324.4L448.8 324.4L449.0 326.0L449.1 332.0L449.2 325.9L449.4 329.6L449.5 328.5L449.7 323.0L449.8 325.1L450.0 324.9L450.1 325.2L450.3 327.6L450.4 329.5L450.6 329.4L450.7 328.9L450.8 322.1L451.0 322.7L451.1 323.6L451.3 329.3L451.4 329.0L451.6 328.6L451.7 334.0L451.9 328.5L452.0 331.0L452.2 330.3L452.3 333.0L452.4 329.1L452.6 331.9L452.7 322.6L452.9 329.8L453.0 333.1L453.2 328.1L453.3 332.0L453.5 333.4L453.6 334.7L453.8 325.6L453.9 331.4L454.0 328.3L454.2 328.8L454.3 331.6L454.5 325.8L454.6 331.7L454.8 324.9L454.9 326.3L455.1 324.7L455.2 333.5L455.3 327.6L455.5 330.7L455.6 332.6L455.8 331.8L455.9 330.1L456.1 332.3L456.2 335.8L456.4 340.9L456.5 329.0L456.7 334.8L456.8 327.4L456.9 338.4L457.1 329.9L457.2 327.6L457.4 324.9L457.5 328.7L457.7 331.0L457.8 328.7L458.0 334.6L458.1 333.3L458.3 329.9L458.4 332.1L458.5 332.9L458.7 324.9L458.8 327.9L459.0 326.9L459.1 328.5L459.3 331.7L459.4 329.5L459.6 329.5L459.7 323.8L459.9 327.7L460.0 331.7L460.1 331.4L460.3 333.0L460.4 324.0L460.6 329.5L460.7 327.2L460.9 328.6L461.0 333.6L461.2 334.7L461.3 334.7L461.5 327.7L461.6 325.7L461.7 327.7L461.9 336.2L462.0 333.3L462.2 332.8L462.3 326.1L462.5 330.6L462.6 332.5L462.8 336.3L462.9 326.7L463.1 328.8L463.2 327.2L463.3 329.8L463.5 327.4L463.6 329.3L463.8 328.2L463.9 334.2L464.1 332.0L464.2 335.9L464.4 330.0L464.5 331.8L464.7 333.5L464.8 330.3L464.9 337.8L465.1 335.4L465.2 331.4L465.4 333.5L465.5 338.6L465.7 337.4L465.8 336.9L466.0 333.4L466.1 333.4L466.3 331.8L466.4 332.6L466.5 331.5L466.7 336.7L466.8 322.1L467.0 337.1L467.1 336.7L467.3 333.7L467.4 334.6L467.6 331.1L467.7 326.3L467.9 327.6L468.0 333.6L468.1 332.9L468.3 319.5L468.4 299.5L468.6 331.3L468.7 314.1L468.9 326.7L469.0 326.0L469.2 330.0L469.3 331.5L469.4 331.1L469.6 335.9L469.7 339.8L469.9 333.8L470.0 333.9L470.2 333.1L470.3 330.8L470.5 330.2L470.6 326.8L470.8 324.8L470.9 329.2L471.0 336.5L471.2 339.5L471.3 327.5L471.5 329.9L471.6 330.6L471.8 329.7L471.9 330.1L472.1 328.7L472.2 328.1L472.4 329.4L472.5 334.9L472.6 331.5L472.8 327.5L472.9 326.0L473.1 331.4L473.2 332.6L473.4 329.4L473.5 336.2L473.7 332.1L473.8 330.3L474.0 333.9L474.1 334.3L474.2 329.9L474.4 331.2L474.5 332.7L474.7 331.5L474.8 326.8L475.0 326.4L475.1 330.4L475.3 334.2L475.4 334.8L475.6 333.8L475.7 329.7L475.8 334.2L476.0 339.0L476.1 330.6L476.3 328.0L476.4 329.2L476.6 326.2L476.7 326.9L476.9 333.3L477.0 332.7L477.2 333.6L477.3 333.6L477.4 335.3L477.6 334.0L477.7 334.5L477.9 330.9L478.0 334.2L478.2 333.8L478.3 333.2L478.5 331.5L478.6 336.0L478.8 334.4L478.9 332.6L479.0 330.7L479.2 336.3L479.3 323.3L479.5 335.5L479.6 337.6L479.8 334.6L479.9 337.3L480.1 328.9L480.2 329.6L480.4 339.3L480.5 331.2L480.6 336.5L480.8 337.3L480.9 332.6L481.1 331.0L481.2 328.6L481.4 329.3L481.5 328.4L481.7 336.2L481.8 334.3L482.0 337.4L482.1 323.4L482.2 333.0L482.4 328.2L482.5 332.0L482.7 332.1L482.8 337.0L483.0 333.1L483.1 337.3L483.3 335.5L483.4 331.7L483.5 328.0L483.7 328.3L483.8 336.9L484.0 330.5L484.1 333.6L484.3 330.5L484.4 329.2L484.6 326.7L484.7 332.1L484.9 335.1L485.0 335.6L485.1 331.6L485.3 336.0L485.4 334.8L485.6 328.8L485.7 332.0L485.9 335.9L486.0 332.6L486.2 328.6L486.3 331.8L486.5 331.3L486.6 330.4L486.7 329.1L486.9 327.0L487.0 331.5L487.2 327.3L487.3 326.3L487.5 325.7L487.6 328.2L487.8 329.3L487.9 332.9L488.1 330.8L488.2 334.2L488.3 329.0L488.5 326.9L488.6 328.7L488.8 330.1L488.9 331.0L489.1 335.1L489.2 326.3L489.4 325.2L489.5 327.0L489.7 324.5L489.8 334.7L489.9 340.4L490.1 326.7L490.2 333.3L490.4 334.7L490.5 332.5L490.7 328.8L490.8 331.9L491.0 325.9L491.1 336.9L491.3 328.8L491.4 329.1L491.5 320.4L491.7 333.1L491.8 334.9L492.0 333.3L492.1 334.9L492.3 332.0L492.4 331.7L492.6 332.9L492.7 326.0L492.9 327.5L493.0 331.3L493.1 331.0L493.3 328.2L493.4 328.3L493.6 328.2L493.7 326.1L493.9 334.6L494.0 333.6L494.2 333.3L494.3 336.3L494.5 334.1L494.6 329.6L494.7 327.3L494.9 330.7L495.0 328.9L495.2 329.3L495.3 328.8L495.5 335.7L495.6 334.8L495.8 333.3L495.9 332.7L496.1 333.0L496.2 335.7L496.3 336.7L496.5 338.8L496.6 336.4L496.8 336.1L496.9 332.6L497.1 331.3L497.2 330.9L497.4 332.6L497.5 335.0L497.6 332.9L497.8 335.3L497.9 337.9L498.1 339.1L498.2 337.3L498.4 328.4L498.5 329.2L498.7 334.0L498.8 335.4L499.0 335.0L499.1 337.0L499.2 334.1L499.4 336.0L499.5 333.6L499.7 339.7L499.8 331.3L500.0 334.5L500.1 332.5L500.3 335.8L500.4 335.7L500.6 334.7L500.7 332.6L500.8 330.0L501.0 332.8L501.1 335.6L501.3 335.8L501.4 338.1L501.6 335.4L501.7 332.5L501.9 333.5L502.0 333.5L502.2 335.6L502.3 343.0L502.4 341.3L502.6 334.6L502.7 332.5L502.9 334.7L503.0 335.2L503.2 335.4L503.3 331.4L503.5 337.4L503.6 335.1L503.8 343.0L503.9 342.5L504.0 339.9L504.2 335.1L504.3 334.5L504.5 342.4L504.6 339.4L504.8 338.7L504.9 337.9L505.1 338.9L505.2 334.8L505.4 348.0L505.5 333.3L505.6 343.3L505.8 334.4L505.9 331.5L506.1 336.3L506.2 332.1L506.4 336.4L506.5 330.2L506.7 332.5L506.8 340.8L507.0 342.3L507.1 335.0L507.2 336.0L507.4 336.3L507.5 332.9L507.7 339.7L507.8 338.4L508.0 328.7L508.1 333.5L508.3 333.9L508.4 337.4L508.6 331.4L508.7 334.4L508.8 341.6L509.0 334.9L509.1 342.7L509.3 342.8L509.4 335.7L509.6 339.9L509.7 337.6L509.9 338.3L510.0 333.4L510.1 345.6L510.3 338.8L510.4 336.9L510.6 337.6L510.7 340.8L510.9 341.4L511.0 338.8L511.2 332.7L511.3 327.9L511.5 335.5L511.6 339.2L511.7 340.2L511.9 335.7L512.0 336.6L512.2 336.9L512.3 336.4L512.5 337.8L512.6 330.7L512.8 335.5L512.9 332.7L513.1 338.8L513.2 335.4L513.3 336.1L513.5 337.7L513.6 336.3L513.8 333.9L513.9 338.9L514.1 334.8L514.2 335.8L514.4 332.6L514.5 329.6L514.7 334.0L514.8 335.6L514.9 335.7L515.1 334.7L515.2 333.5L515.4 332.7L515.5 336.5L515.7 334.4L515.8 338.6L516.0 332.7L516.1 340.1L516.3 329.2L516.4 333.3L516.5 332.4L516.7 334.4L516.8 331.0L517.0 331.8L517.1 329.6L517.3 336.2L517.4 341.4L517.6 334.2L517.7 331.3L517.9 327.7L518.0 335.6L518.1 331.1L518.3 336.4L518.4 331.5L518.6 338.0L518.7 327.3L518.9 331.9L519.0 330.1L519.2 332.7L519.3 334.3L519.5 333.6L519.6 329.2L519.7 327.9L519.9 327.6L520.0 335.9L520.2 338.6L520.3 332.5L520.5 331.6L520.6 318.8L520.8 329.8L520.9 328.3L521.1 329.2L521.2 325.7L521.3 331.8L521.5 332.9L521.6 330.3L521.8 331.6L521.9 327.9L522.1 328.1L522.2 332.8L522.4 333.5L522.5 332.0L522.7 326.8L522.8 331.6L522.9 334.8L523.1 337.1L523.2 336.4L523.4 329.8L523.5 328.2L523.7 333.3L523.8 339.6L524.0 327.7L524.1 329.8L524.2 344.6L524.4 327.7L524.5 333.2L524.7 334.6L524.8 341.4L525.0 329.6L525.1 325.0L525.3 330.7L525.4 330.4L525.6 326.6L525.7 334.2L525.8 329.4L526.0 328.4L526.1 329.7L526.3 328.9L526.4 326.2L526.6 335.8L526.7 337.3L526.9 331.1L527.0 332.7L527.2 327.4L527.3 335.8L527.4 334.8L527.6 340.6L527.7 331.2L527.9 328.9L528.0 329.5L528.2 335.9L528.3 338.3L528.5 334.0L528.6 333.8L528.8 328.6L528.9 333.5L529.0 333.7L529.2 331.4L529.3 326.8L529.5 334.4L529.6 338.5L529.8 335.3L529.9 334.7L530.1 335.3L530.2 331.5L530.4 330.8L530.5 332.6" stroke="#ff0000"/>
</g>
<g stroke="#777" stroke-width="1.7" fill="none"><line x1="65.0" y1="394.0" x2="65.0" y2="389.0"/><line x1="65.0" y1="27.0" x2="65.0" y2="32.0"/><line x1="111.6" y1="394.0" x2="111.6" y2="389.0"/><line x1="111.6" y1="27.0" x2="111.6" y2="32.0"/><line x1="158.2" y1="394.0" x2="158.2" y2="389.0"/><line x1="158.2" y1="27.0" x2="158.2" y2="32.0"/><line x1="204.8" y1="394.0" x2="204.8" y2="389.0"/><line x1="204.8" y1="27.0" x2="204.8" y2="32.0"/><line x1="251.4" y1="394.0" x2="251.4" y2="389.0"/><line x1="251.4" y1="27.0" x2="251.4" y2="32.0"/><line x1="298.0" y1="394.0" x2="298.0" y2="389.0"/><line x1="298.0" y1="27.0" x2="298.0" y2="32.0"/><line x1="344.6" y1="394.0" x2="344.6" y2="389.0"/><line x1="344.6" y1="27.0" x2="344.6" y2="32.0"/><line x1="391.2" y1="394.0" x2="391.2" y2="389.0"/><line x1="391.2" y1="27.0" x2="391.2" y2="32.0"/><line x1="437.8" y1="394.0" x2="437.8" y2="389.0"/><line x1="437.8" y1="27.0" x2="437.8" y2="32.0"/><line x1="484.4" y1="394.0" x2="484.4" y2="389.0"/><line x1="484.4" y1="27.0" x2="484.4" y2="32.0"/><line x1="531.0" y1="394.0" x2="531.0" y2="389.0"/><line x1="531.0" y1="27.0" x2="531.0" y2="32.0"/><line x1="65.0" y1="27.0" x2="70.0" y2="27.0"/><line x1="531.0" y1="27.0" x2="526.0" y2="27.0"/><line x1="65.0" y1="88.2" x2="70.0" y2="88.2"/><line x1="531.0" y1="88.2" x2="526.0" y2="88.2"/><line x1="65.0" y1="149.3" x2="70.0" y2="149.3"/><line x1="531.0" y1="149.3" x2="526.0" y2="149.3"/><line x1="65.0" y1="210.5" x2="70.0" y2="210.5"/><line x1="531.0" y1="210.5" x2="526.0" y2="210.5"/><line x1="65.0" y1="271.7" x2="70.0" y2="271.7"/><line x1="531.0" y1="271.7" x2="526.0" y2="271.7"/><line x1="65.0" y1="332.8" x2="70.0" y2="332.8"/><line x1="531.0" y1="332.8" x2="526.0" y2="332.8"/><line x1="65.0" y1="394.0" x2="70.0" y2="394.0"/><line x1="531.0" y1="394.0" x2="526.0" y2="394.0"/>
<rect x="65.0" y="27.0" width="466.0" height="367.0"/></g>
<g font-size="14" fill="#1a1a1a"><text x="65.2" y="410.5" text-anchor="middle">0</text><text x="111.8" y="410.5" text-anchor="middle">200</text><text x="158.4" y="410.5" text-anchor="middle">400</text><text x="205.0" y="410.5" text-anchor="middle">600</text><text x="251.6" y="410.5" text-anchor="middle">800</text><text x="298.2" y="410.5" text-anchor="middle">1000</text><text x="344.8" y="410.5" text-anchor="middle">1200</text><text x="391.4" y="410.5" text-anchor="middle">1400</text><text x="438.0" y="410.5" text-anchor="middle">1600</text><text x="484.6" y="410.5" text-anchor="middle">1800</text><text x="531.2" y="410.5" text-anchor="middle">2000</text><text x="31.5" y="30.5">10</text><text transform="translate(46.6,22.4) scale(0.88,1)" font-size="10.2">0</text><text x="31.5" y="92.3">10</text><text transform="translate(46.6,83.1) scale(0.88,1)" font-size="10.2">-2</text><text x="31.5" y="153.4">10</text><text transform="translate(46.6,144.2) scale(0.88,1)" font-size="10.2">-4</text><text x="31.5" y="214.6">10</text><text transform="translate(46.6,205.4) scale(0.88,1)" font-size="10.2">-6</text><text x="31.5" y="275.8">10</text><text transform="translate(46.6,266.6) scale(0.88,1)" font-size="10.2">-8</text><text x="31.5" y="336.9">10</text><text transform="translate(46.6,327.7) scale(0.88,1)" font-size="10.2">-10</text><text x="31.5" y="398.1">10</text><text transform="translate(46.6,388.9) scale(0.88,1)" font-size="10.2">-12</text></g>
<text x="297.7" y="15" text-anchor="middle" font-size="14" fill="#1a1a1a">Horizontal Signals(X)</text>
<text x="295.8" y="428.6" text-anchor="middle" font-size="14" fill="#1a1a1a">Frequency [Hz]</text>
<text transform="translate(20,209.5) rotate(-90)" text-anchor="middle" font-size="14.2" fill="#1a1a1a">Power Spectrum [m/s<tspan dy="-6.3" font-size="11">2</tspan><tspan dy="6.3">]</tspan><tspan dy="-6.3" font-size="11">2</tspan></text>
<g>
<rect x="373.7" y="34.5" width="151" height="63.5" fill="#fff" stroke="#777" stroke-width="1.4"/>
<line x1="382" y1="45.6" x2="424.5" y2="45.6" stroke="#0000ff" stroke-width="2.2" stroke-dasharray="5.5 3"/>
<line x1="382" y1="65.9" x2="425.5" y2="65.9" stroke="#008000" stroke-width="2.2" stroke-dasharray="5.5 3.2 1.2 3.2"/>
<line x1="382" y1="85.6" x2="425.5" y2="85.6" stroke="#ff0000" stroke-width="2.4"/>
<g font-size="16.4" fill="#1a1a1a" letter-spacing="0.25">
<text x="434.7" y="50.9">10 V/g</text>
<text x="434.7" y="69.8">0.1 V/g</text>
<text x="434.7" y="88.7">1 V/g</text>
</g></g>
</svg>
</body></html>
